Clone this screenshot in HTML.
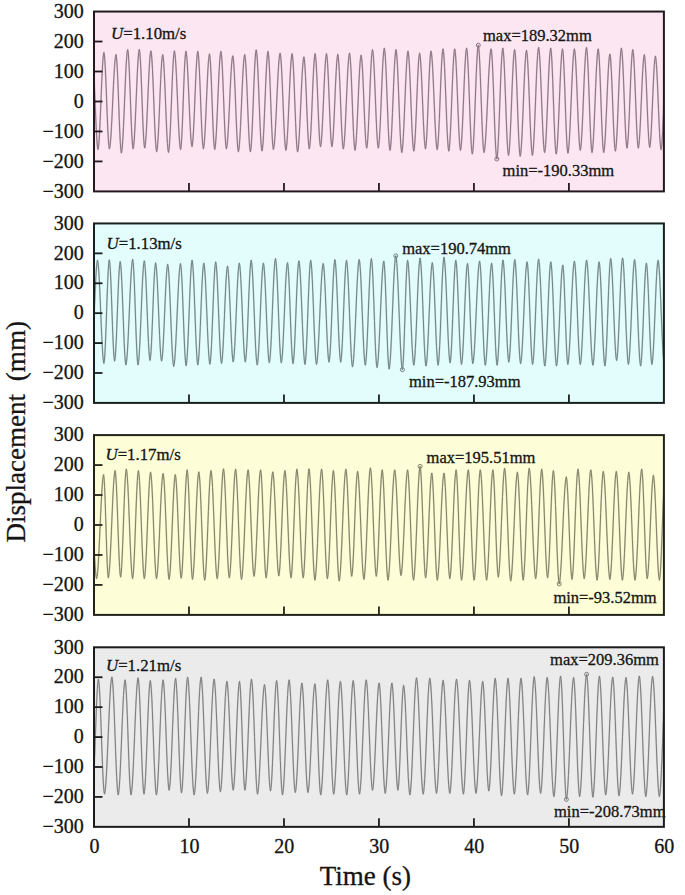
<!DOCTYPE html><html><head><meta charset="utf-8"><style>html,body{margin:0;padding:0;background:#fff;}svg{display:block;}</style></head><body>
<svg width="685" height="895" viewBox="0 0 685 895" font-family='"Liberation Serif", serif'>
<style>text{fill:#141414;stroke:#141414;stroke-width:0.3px;}</style>
<rect width="685" height="895" fill="#fff"/>
<defs><clipPath id="c0"><rect x="94.0" y="11.55" width="569.9" height="179.85"/></clipPath></defs>
<rect x="94.0" y="11.55" width="569.9" height="179.85" fill="#fce6f2"/>
<g clip-path="url(#c0)" fill="none" stroke-linejoin="round"><path d="M92.10,52.00 L92.64,54.66 L93.17,60.74 L93.71,69.80 L94.25,81.19 L94.78,94.06 L95.32,107.44 L95.85,120.31 L96.39,131.70 L96.93,140.76 L97.46,146.84 L98.00,149.50 L98.54,146.85 L99.07,140.80 L99.61,131.77 L100.15,120.43 L100.68,107.61 L101.22,94.29 L101.75,81.47 L102.29,70.13 L102.83,61.10 L103.36,55.05 L103.90,52.40 L104.40,55.03 L104.90,61.04 L105.40,70.00 L105.90,81.26 L106.40,93.99 L106.90,107.21 L107.40,119.94 L107.90,131.20 L108.40,140.16 L108.90,146.17 L109.40,148.80 L109.91,146.84 L110.42,142.50 L110.92,135.97 L111.43,127.59 L111.94,117.82 L112.45,107.17 L112.95,96.23 L113.46,85.58 L113.97,75.81 L114.48,67.43 L114.98,60.90 L115.49,56.56 L116.00,54.60 L116.54,57.75 L117.08,65.04 L117.62,75.83 L118.16,89.17 L118.70,103.85 L119.24,118.53 L119.78,131.87 L120.32,142.66 L120.86,149.95 L121.40,153.10 L121.93,150.65 L122.45,145.13 L122.98,136.86 L123.50,126.34 L124.03,114.23 L124.55,101.30 L125.08,88.37 L125.60,76.26 L126.12,65.74 L126.65,57.47 L127.17,51.95 L127.70,49.50 L128.24,52.68 L128.78,60.02 L129.32,70.90 L129.86,84.35 L130.40,99.15 L130.94,113.95 L131.48,127.40 L132.02,138.28 L132.56,145.62 L133.10,148.80 L133.62,146.45 L134.13,141.16 L134.65,133.23 L135.17,123.15 L135.68,111.54 L136.20,99.15 L136.72,86.76 L137.23,75.15 L137.75,65.07 L138.27,57.14 L138.78,51.85 L139.30,49.50 L139.84,52.65 L140.38,59.94 L140.92,70.73 L141.46,84.07 L142.00,98.75 L142.54,113.43 L143.08,126.77 L143.62,137.56 L144.16,144.85 L144.70,148.00 L145.22,145.70 L145.73,140.53 L146.25,132.77 L146.77,122.92 L147.28,111.57 L147.80,99.45 L148.32,87.33 L148.83,75.98 L149.35,66.13 L149.87,58.37 L150.38,53.20 L150.90,50.90 L151.43,53.65 L151.95,59.93 L152.48,69.30 L153.01,81.08 L153.54,94.39 L154.06,108.21 L154.59,121.52 L155.12,133.30 L155.65,142.67 L156.17,148.95 L156.70,151.70 L157.20,149.40 L157.70,144.23 L158.20,136.47 L158.70,126.62 L159.20,115.27 L159.70,103.15 L160.20,91.03 L160.70,79.68 L161.20,69.83 L161.70,62.07 L162.20,56.90 L162.70,54.60 L163.23,57.27 L163.75,63.36 L164.28,72.46 L164.81,83.88 L165.34,96.79 L165.86,110.21 L166.39,123.12 L166.92,134.54 L167.45,143.64 L167.97,149.73 L168.50,152.40 L169.04,149.63 L169.57,143.30 L170.11,133.87 L170.65,122.01 L171.18,108.61 L171.72,94.69 L172.25,81.29 L172.79,69.43 L173.33,60.00 L173.86,53.67 L174.40,50.90 L174.92,53.23 L175.43,58.49 L175.95,66.36 L176.47,76.37 L176.98,87.89 L177.50,100.20 L178.02,112.51 L178.53,124.03 L179.05,134.04 L179.57,141.91 L180.08,147.17 L180.60,149.50 L181.13,146.35 L181.66,139.09 L182.19,128.32 L182.72,115.00 L183.25,100.35 L183.78,85.70 L184.31,72.38 L184.84,61.61 L185.37,54.35 L185.90,51.20 L186.41,53.46 L186.92,58.54 L187.43,66.16 L187.93,75.84 L188.44,86.99 L188.95,98.90 L189.46,110.81 L189.97,121.95 L190.47,131.64 L190.98,139.26 L191.49,144.34 L192.00,146.60 L192.53,144.00 L193.05,138.07 L193.58,129.22 L194.11,118.09 L194.64,105.53 L195.16,92.47 L195.69,79.91 L196.22,68.78 L196.75,59.93 L197.27,54.00 L197.80,51.40 L198.31,54.06 L198.82,60.13 L199.33,69.18 L199.84,80.56 L200.35,93.42 L200.85,106.78 L201.36,119.64 L201.87,131.02 L202.38,140.07 L202.89,146.14 L203.40,148.80 L203.91,146.55 L204.42,141.50 L204.93,133.92 L205.43,124.28 L205.94,113.19 L206.45,101.35 L206.96,89.51 L207.47,78.42 L207.97,68.78 L208.48,61.20 L208.99,56.15 L209.50,53.90 L210.02,56.96 L210.54,64.03 L211.06,74.50 L211.58,87.45 L212.10,101.70 L212.62,115.95 L213.14,128.90 L213.66,139.37 L214.18,146.44 L214.70,149.50 L215.22,147.18 L215.73,141.95 L216.25,134.12 L216.77,124.16 L217.28,112.69 L217.80,100.45 L218.32,88.21 L218.83,76.74 L219.35,66.78 L219.87,58.95 L220.38,53.72 L220.90,51.40 L221.40,54.06 L221.90,60.13 L222.40,69.18 L222.90,80.56 L223.40,93.42 L223.90,106.78 L224.40,119.64 L224.90,131.02 L225.40,140.07 L225.90,146.14 L226.40,148.80 L226.93,146.60 L227.47,141.64 L228.00,134.22 L228.53,124.78 L229.07,113.91 L229.60,102.30 L230.13,90.69 L230.67,79.83 L231.20,70.38 L231.73,62.96 L232.27,58.00 L232.80,55.80 L233.31,58.42 L233.82,64.39 L234.33,73.31 L234.84,84.52 L235.35,97.17 L235.85,110.33 L236.36,122.98 L236.87,134.19 L237.38,143.11 L237.89,149.08 L238.40,151.70 L238.93,149.40 L239.45,144.23 L239.97,136.47 L240.50,126.62 L241.03,115.27 L241.55,103.15 L242.07,91.03 L242.60,79.68 L243.12,69.83 L243.65,62.07 L244.17,56.90 L244.70,54.60 L245.22,57.25 L245.74,63.30 L246.25,72.33 L246.77,83.67 L247.29,96.49 L247.81,109.81 L248.33,122.63 L248.85,133.97 L249.36,143.00 L249.88,149.05 L250.40,151.70 L250.93,148.92 L251.45,142.58 L251.98,133.11 L252.51,121.22 L253.04,107.78 L253.56,93.82 L254.09,80.38 L254.62,68.49 L255.15,59.02 L255.67,52.68 L256.20,49.90 L256.73,52.66 L257.25,58.96 L257.78,68.36 L258.31,80.17 L258.84,93.52 L259.36,107.38 L259.89,120.73 L260.42,132.54 L260.95,141.94 L261.47,148.24 L262.00,151.00 L262.50,148.64 L263.00,143.34 L263.50,135.38 L264.00,125.27 L264.50,113.63 L265.00,101.20 L265.50,88.77 L266.00,77.13 L266.50,67.02 L267.00,59.06 L267.50,53.76 L268.00,51.40 L268.54,54.54 L269.08,61.79 L269.62,72.54 L270.16,85.83 L270.70,100.45 L271.24,115.07 L271.78,128.36 L272.32,139.11 L272.86,146.36 L273.40,149.50 L273.92,147.50 L274.43,143.05 L274.95,136.38 L275.46,127.82 L275.98,117.83 L276.49,106.94 L277.01,95.76 L277.52,84.87 L278.04,74.88 L278.55,66.32 L279.07,59.65 L279.58,55.20 L280.10,53.20 L280.63,55.85 L281.15,61.90 L281.68,70.93 L282.21,82.27 L282.74,95.09 L283.26,108.41 L283.79,121.23 L284.32,132.57 L284.85,141.60 L285.37,147.65 L285.90,150.30 L286.42,148.01 L286.93,142.87 L287.45,135.15 L287.97,125.35 L288.48,114.06 L289.00,102.00 L289.52,89.94 L290.03,78.66 L290.55,68.85 L291.07,61.13 L291.58,55.99 L292.10,53.70 L292.60,56.38 L293.10,62.49 L293.60,71.61 L294.10,83.07 L294.60,96.02 L295.10,109.48 L295.60,122.43 L296.10,133.89 L296.60,143.01 L297.10,149.12 L297.60,151.80 L298.12,149.55 L298.65,144.50 L299.18,136.92 L299.70,127.28 L300.23,116.19 L300.75,104.35 L301.27,92.51 L301.80,81.42 L302.32,71.78 L302.85,64.20 L303.38,59.15 L303.90,56.90 L304.44,59.85 L304.98,66.65 L305.52,76.73 L306.06,89.19 L306.60,102.90 L307.14,116.61 L307.68,129.07 L308.22,139.15 L308.76,145.95 L309.30,148.90 L309.83,146.30 L310.35,140.37 L310.88,131.52 L311.41,120.39 L311.94,107.83 L312.46,94.77 L312.99,82.21 L313.52,71.08 L314.05,62.23 L314.57,56.30 L315.10,53.70 L315.64,56.68 L316.18,63.55 L316.72,73.74 L317.26,86.34 L317.80,100.20 L318.34,114.06 L318.88,126.66 L319.42,136.85 L319.96,143.72 L320.50,146.70 L321.00,144.50 L321.50,139.54 L322.00,132.12 L322.50,122.67 L323.00,111.81 L323.50,100.20 L324.00,88.59 L324.50,77.73 L325.00,68.28 L325.50,60.86 L326.00,55.90 L326.50,53.70 L327.04,56.68 L327.58,63.55 L328.12,73.74 L328.66,86.34 L329.20,100.20 L329.74,114.06 L330.28,126.66 L330.82,136.85 L331.36,143.72 L331.90,146.70 L332.44,144.18 L332.97,138.43 L333.51,129.85 L334.05,119.06 L334.58,106.88 L335.12,94.22 L335.65,82.04 L336.19,71.25 L336.73,62.67 L337.26,56.92 L337.80,54.40 L338.30,56.98 L338.80,62.87 L339.30,71.65 L339.80,82.70 L340.30,95.17 L340.80,108.13 L341.30,120.60 L341.80,131.65 L342.30,140.43 L342.80,146.32 L343.30,148.90 L343.82,146.63 L344.33,141.52 L344.85,133.86 L345.37,124.13 L345.88,112.92 L346.40,100.95 L346.92,88.98 L347.43,77.77 L347.95,68.04 L348.47,60.38 L348.98,55.27 L349.50,53.00 L350.00,55.66 L350.50,61.72 L351.00,70.77 L351.50,82.13 L352.00,94.98 L352.50,108.32 L353.00,121.17 L353.50,132.53 L354.00,141.58 L354.50,147.64 L355.00,150.30 L355.51,148.05 L356.02,142.97 L356.52,135.37 L357.03,125.71 L357.54,114.58 L358.05,102.70 L358.56,90.82 L359.07,79.69 L359.58,70.03 L360.08,62.43 L360.59,57.35 L361.10,55.10 L361.61,57.64 L362.12,63.43 L362.63,72.08 L363.14,82.95 L363.65,95.22 L364.15,107.98 L364.66,120.25 L365.17,131.12 L365.68,139.77 L366.19,145.56 L366.70,148.10 L367.23,145.41 L367.75,139.27 L368.28,130.12 L368.81,118.61 L369.34,105.61 L369.86,92.09 L370.39,79.09 L370.92,67.58 L371.45,58.43 L371.97,52.29 L372.50,49.60 L373.03,52.29 L373.55,58.43 L374.08,67.58 L374.61,79.09 L375.14,92.09 L375.66,105.61 L376.19,118.61 L376.72,130.12 L377.25,139.27 L377.77,145.41 L378.30,148.10 L378.80,145.73 L379.30,140.40 L379.80,132.42 L380.30,122.27 L380.80,110.58 L381.30,98.10 L381.80,85.62 L382.30,73.93 L382.80,63.78 L383.30,55.80 L383.80,50.47 L384.30,48.10 L384.82,50.89 L385.34,57.26 L385.85,66.76 L386.37,78.70 L386.89,92.19 L387.41,106.21 L387.93,119.70 L388.45,131.64 L388.96,141.14 L389.48,147.51 L390.00,150.30 L390.50,147.92 L391.00,142.55 L391.50,134.51 L392.00,124.29 L392.50,112.52 L393.00,99.95 L393.50,87.38 L394.00,75.61 L394.50,65.39 L395.00,57.35 L395.50,51.98 L396.00,49.60 L396.53,52.41 L397.05,58.82 L397.58,68.39 L398.11,80.41 L398.64,93.99 L399.16,108.11 L399.69,121.69 L400.22,133.71 L400.75,143.28 L401.27,149.69 L401.80,152.50 L402.32,150.10 L402.83,144.70 L403.35,136.60 L403.87,126.31 L404.38,114.45 L404.90,101.80 L405.42,89.15 L405.93,77.30 L406.45,67.00 L406.97,58.90 L407.48,53.50 L408.00,51.10 L408.53,53.83 L409.05,60.06 L409.58,69.36 L410.11,81.04 L410.64,94.24 L411.16,107.96 L411.69,121.16 L412.22,132.84 L412.75,142.14 L413.27,148.37 L413.80,151.10 L414.33,148.43 L414.85,142.33 L415.38,133.22 L415.91,121.79 L416.44,108.86 L416.96,95.44 L417.49,82.51 L418.02,71.08 L418.55,61.97 L419.07,55.87 L419.60,53.20 L420.14,55.81 L420.67,61.78 L421.21,70.67 L421.75,81.86 L422.28,94.49 L422.82,107.61 L423.35,120.24 L423.89,131.43 L424.43,140.32 L424.96,146.29 L425.50,148.90 L426.00,146.23 L426.50,140.14 L427.00,131.04 L427.50,119.62 L428.00,106.71 L428.50,93.29 L429.00,80.38 L429.50,68.96 L430.00,59.86 L430.50,53.77 L431.00,51.10 L431.52,53.43 L432.03,58.68 L432.55,66.54 L433.07,76.55 L433.58,88.06 L434.10,100.35 L434.62,112.64 L435.13,124.15 L435.65,134.16 L436.17,142.02 L436.68,147.27 L437.20,149.60 L437.73,146.85 L438.25,140.58 L438.78,131.21 L439.31,119.45 L439.84,106.16 L440.36,92.34 L440.89,79.05 L441.42,67.29 L441.95,57.92 L442.47,51.65 L443.00,48.90 L443.53,51.69 L444.05,58.06 L444.58,67.56 L445.11,79.50 L445.64,92.99 L446.16,107.01 L446.69,120.50 L447.22,132.44 L447.75,141.94 L448.27,148.31 L448.80,151.10 L449.34,148.31 L449.87,141.94 L450.41,132.44 L450.95,120.50 L451.48,107.01 L452.02,92.99 L452.55,79.50 L453.09,67.56 L453.63,58.06 L454.16,51.69 L454.70,48.90 L455.23,51.67 L455.75,57.99 L456.28,67.41 L456.81,79.26 L457.34,92.65 L457.86,106.55 L458.39,119.94 L458.92,131.79 L459.45,141.21 L459.97,147.53 L460.50,150.30 L461.01,147.88 L461.52,142.44 L462.02,134.27 L462.53,123.90 L463.04,111.95 L463.55,99.20 L464.06,86.45 L464.57,74.50 L465.08,64.13 L465.58,55.96 L466.09,50.52 L466.60,48.10 L467.12,50.99 L467.64,57.59 L468.15,67.44 L468.67,79.81 L469.19,93.79 L469.71,108.31 L470.23,122.29 L470.75,134.66 L471.26,144.51 L471.78,151.11 L472.30,154.00 L472.80,151.43 L473.30,145.63 L473.80,136.94 L474.30,125.89 L474.80,113.18 L475.30,99.60 L475.80,86.02 L476.30,73.31 L476.80,62.26 L477.30,53.57 L477.80,47.77 L478.30,45.20 L478.82,48.13 L479.34,54.82 L479.85,64.79 L480.37,77.33 L480.89,91.49 L481.41,106.21 L481.93,120.37 L482.45,132.91 L482.96,142.88 L483.48,149.57 L484.00,152.50 L484.51,150.59 L485.01,146.40 L485.52,140.11 L486.03,131.99 L486.54,122.41 L487.04,111.81 L487.55,100.70 L488.06,89.59 L488.56,78.99 L489.07,69.41 L489.58,61.29 L490.09,55.00 L490.59,50.81 L491.10,48.90 L491.62,51.91 L492.14,58.77 L492.65,69.00 L493.17,81.87 L493.69,96.40 L494.21,111.50 L494.73,126.03 L495.25,138.90 L495.76,149.13 L496.28,155.99 L496.80,159.00 L497.30,156.38 L497.80,150.47 L498.30,141.61 L498.80,130.35 L499.30,117.39 L499.80,103.55 L500.30,89.71 L500.80,76.75 L501.30,65.49 L501.80,56.63 L502.30,50.72 L502.80,48.10 L503.32,51.03 L503.84,57.72 L504.35,67.69 L504.87,80.23 L505.39,94.39 L505.91,109.11 L506.43,123.27 L506.95,135.81 L507.46,145.78 L507.98,152.47 L508.50,155.40 L509.01,152.90 L509.52,147.26 L510.02,138.81 L510.53,128.07 L511.04,115.70 L511.55,102.50 L512.06,89.30 L512.57,76.93 L513.08,66.19 L513.58,57.74 L514.09,52.10 L514.60,49.60 L515.11,52.51 L515.62,59.15 L516.13,69.06 L516.64,81.52 L517.15,95.59 L517.65,110.21 L518.16,124.28 L518.67,136.74 L519.18,146.65 L519.69,153.29 L520.20,156.20 L520.73,153.69 L521.25,148.05 L521.78,139.59 L522.30,128.84 L522.83,116.47 L523.35,103.25 L523.88,90.03 L524.40,77.66 L524.92,66.91 L525.45,58.45 L525.98,52.81 L526.50,50.30 L527.04,53.17 L527.57,59.72 L528.11,69.49 L528.65,81.77 L529.18,95.64 L529.72,110.06 L530.25,123.93 L530.79,136.21 L531.33,145.98 L531.86,152.53 L532.40,155.40 L532.92,152.84 L533.43,147.09 L533.95,138.47 L534.47,127.50 L534.98,114.88 L535.50,101.40 L536.02,87.92 L536.53,75.30 L537.05,64.33 L537.57,55.71 L538.08,49.96 L538.60,47.40 L539.10,49.89 L539.60,55.49 L540.10,63.88 L540.60,74.55 L541.10,86.83 L541.60,99.95 L542.10,113.07 L542.60,125.35 L543.10,136.02 L543.60,144.41 L544.10,150.01 L544.60,152.50 L545.11,150.03 L545.62,144.47 L546.12,136.13 L546.63,125.53 L547.14,113.33 L547.65,100.30 L548.16,87.27 L548.67,75.07 L549.18,64.47 L549.68,56.13 L550.19,50.57 L550.70,48.10 L551.20,50.99 L551.70,57.59 L552.20,67.44 L552.70,79.81 L553.20,93.79 L553.70,108.31 L554.20,122.29 L554.70,134.66 L555.20,144.51 L555.70,151.11 L556.20,154.00 L556.73,151.51 L557.25,145.91 L557.78,137.52 L558.30,126.85 L558.83,114.57 L559.35,101.45 L559.88,88.33 L560.40,76.05 L560.92,65.38 L561.45,56.99 L561.98,51.39 L562.50,48.90 L563.04,52.24 L563.58,59.95 L564.12,71.38 L564.66,85.50 L565.20,101.05 L565.74,116.60 L566.28,130.72 L566.82,142.15 L567.36,149.86 L567.90,153.20 L568.40,151.03 L568.90,146.22 L569.40,138.99 L569.90,129.72 L570.40,118.90 L570.90,107.11 L571.40,94.99 L571.90,83.20 L572.40,72.38 L572.90,63.11 L573.40,55.88 L573.90,51.07 L574.40,48.90 L574.94,51.67 L575.47,57.99 L576.01,67.41 L576.55,79.26 L577.08,92.65 L577.62,106.55 L578.15,119.94 L578.69,131.79 L579.23,141.21 L579.76,147.53 L580.30,150.30 L580.82,147.86 L581.33,142.38 L581.85,134.17 L582.37,123.72 L582.88,111.69 L583.40,98.85 L583.92,86.01 L584.43,73.98 L584.95,63.53 L585.47,55.32 L585.98,49.84 L586.50,47.40 L587.00,50.27 L587.50,56.82 L588.00,66.59 L588.50,78.87 L589.00,92.74 L589.50,107.16 L590.00,121.03 L590.50,133.31 L591.00,143.08 L591.50,149.63 L592.00,152.50 L592.52,150.05 L593.03,144.53 L593.55,136.26 L594.07,125.74 L594.58,113.63 L595.10,100.70 L595.62,87.77 L596.13,75.66 L596.65,65.14 L597.17,56.87 L597.68,51.35 L598.20,48.90 L598.70,51.73 L599.20,58.18 L599.70,67.82 L600.20,79.92 L600.70,93.59 L601.20,107.81 L601.70,121.48 L602.20,133.58 L602.70,143.22 L603.20,149.67 L603.70,152.50 L604.22,150.17 L604.73,144.92 L605.25,137.06 L605.77,127.05 L606.28,115.54 L606.80,103.25 L607.32,90.96 L607.83,79.45 L608.35,69.44 L608.87,61.58 L609.38,56.33 L609.90,54.00 L610.40,56.65 L610.90,62.70 L611.40,71.73 L611.90,83.07 L612.40,95.89 L612.90,109.21 L613.40,122.03 L613.90,133.37 L614.40,142.40 L614.90,148.45 L615.40,151.10 L615.90,148.66 L616.40,143.17 L616.90,134.95 L617.40,124.49 L617.90,112.45 L618.40,99.60 L618.90,86.75 L619.40,74.71 L619.90,64.25 L620.40,56.03 L620.90,50.54 L621.40,48.10 L621.91,50.83 L622.42,57.06 L622.93,66.36 L623.44,78.04 L623.95,91.24 L624.45,104.96 L624.96,118.16 L625.47,129.84 L625.98,139.14 L626.49,145.37 L627.00,148.10 L627.53,145.41 L628.05,139.27 L628.58,130.12 L629.11,118.61 L629.64,105.61 L630.16,92.09 L630.69,79.09 L631.22,67.58 L631.75,58.43 L632.27,52.29 L632.80,49.60 L633.30,52.29 L633.80,58.43 L634.30,67.58 L634.80,79.09 L635.30,92.09 L635.80,105.61 L636.30,118.61 L636.80,130.12 L637.30,139.27 L637.80,145.41 L638.30,148.10 L638.80,145.89 L639.30,140.91 L639.80,133.45 L640.30,123.97 L640.80,113.06 L641.30,101.40 L641.80,89.74 L642.30,78.83 L642.80,69.35 L643.30,61.89 L643.80,56.91 L644.30,54.70 L644.84,57.67 L645.38,64.52 L645.92,74.68 L646.46,87.23 L647.00,101.05 L647.54,114.87 L648.08,127.42 L648.62,137.58 L649.16,144.43 L649.70,147.40 L650.22,144.91 L650.74,139.23 L651.25,130.75 L651.77,120.09 L652.29,108.06 L652.81,95.54 L653.33,83.51 L653.85,72.85 L654.36,64.37 L654.88,58.69 L655.40,56.20 L655.92,58.75 L656.44,64.57 L656.95,73.25 L657.47,84.17 L657.99,96.49 L658.51,109.31 L659.03,121.63 L659.55,132.55 L660.06,141.23 L660.58,147.05 L661.10,149.60 L661.62,146.88 L662.14,140.67 L662.65,131.41 L663.17,119.78 L663.69,106.63 L664.21,92.97 L664.73,79.82 L665.25,68.19 L665.76,58.93 L666.28,52.72 L666.80,50.00" stroke="#d6bfcc" stroke-width="1.7"/><path d="M92.10,52.00 L92.64,54.66 L93.17,60.74 L93.71,69.80 L94.25,81.19 L94.78,94.06 L95.32,107.44 L95.85,120.31 L96.39,131.70 L96.93,140.76 L97.46,146.84 L98.00,149.50 L98.54,146.85 L99.07,140.80 L99.61,131.77 L100.15,120.43 L100.68,107.61 L101.22,94.29 L101.75,81.47 L102.29,70.13 L102.83,61.10 L103.36,55.05 L103.90,52.40 L104.40,55.03 L104.90,61.04 L105.40,70.00 L105.90,81.26 L106.40,93.99 L106.90,107.21 L107.40,119.94 L107.90,131.20 L108.40,140.16 L108.90,146.17 L109.40,148.80 L109.91,146.84 L110.42,142.50 L110.92,135.97 L111.43,127.59 L111.94,117.82 L112.45,107.17 L112.95,96.23 L113.46,85.58 L113.97,75.81 L114.48,67.43 L114.98,60.90 L115.49,56.56 L116.00,54.60 L116.54,57.75 L117.08,65.04 L117.62,75.83 L118.16,89.17 L118.70,103.85 L119.24,118.53 L119.78,131.87 L120.32,142.66 L120.86,149.95 L121.40,153.10 L121.93,150.65 L122.45,145.13 L122.98,136.86 L123.50,126.34 L124.03,114.23 L124.55,101.30 L125.08,88.37 L125.60,76.26 L126.12,65.74 L126.65,57.47 L127.17,51.95 L127.70,49.50 L128.24,52.68 L128.78,60.02 L129.32,70.90 L129.86,84.35 L130.40,99.15 L130.94,113.95 L131.48,127.40 L132.02,138.28 L132.56,145.62 L133.10,148.80 L133.62,146.45 L134.13,141.16 L134.65,133.23 L135.17,123.15 L135.68,111.54 L136.20,99.15 L136.72,86.76 L137.23,75.15 L137.75,65.07 L138.27,57.14 L138.78,51.85 L139.30,49.50 L139.84,52.65 L140.38,59.94 L140.92,70.73 L141.46,84.07 L142.00,98.75 L142.54,113.43 L143.08,126.77 L143.62,137.56 L144.16,144.85 L144.70,148.00 L145.22,145.70 L145.73,140.53 L146.25,132.77 L146.77,122.92 L147.28,111.57 L147.80,99.45 L148.32,87.33 L148.83,75.98 L149.35,66.13 L149.87,58.37 L150.38,53.20 L150.90,50.90 L151.43,53.65 L151.95,59.93 L152.48,69.30 L153.01,81.08 L153.54,94.39 L154.06,108.21 L154.59,121.52 L155.12,133.30 L155.65,142.67 L156.17,148.95 L156.70,151.70 L157.20,149.40 L157.70,144.23 L158.20,136.47 L158.70,126.62 L159.20,115.27 L159.70,103.15 L160.20,91.03 L160.70,79.68 L161.20,69.83 L161.70,62.07 L162.20,56.90 L162.70,54.60 L163.23,57.27 L163.75,63.36 L164.28,72.46 L164.81,83.88 L165.34,96.79 L165.86,110.21 L166.39,123.12 L166.92,134.54 L167.45,143.64 L167.97,149.73 L168.50,152.40 L169.04,149.63 L169.57,143.30 L170.11,133.87 L170.65,122.01 L171.18,108.61 L171.72,94.69 L172.25,81.29 L172.79,69.43 L173.33,60.00 L173.86,53.67 L174.40,50.90 L174.92,53.23 L175.43,58.49 L175.95,66.36 L176.47,76.37 L176.98,87.89 L177.50,100.20 L178.02,112.51 L178.53,124.03 L179.05,134.04 L179.57,141.91 L180.08,147.17 L180.60,149.50 L181.13,146.35 L181.66,139.09 L182.19,128.32 L182.72,115.00 L183.25,100.35 L183.78,85.70 L184.31,72.38 L184.84,61.61 L185.37,54.35 L185.90,51.20 L186.41,53.46 L186.92,58.54 L187.43,66.16 L187.93,75.84 L188.44,86.99 L188.95,98.90 L189.46,110.81 L189.97,121.95 L190.47,131.64 L190.98,139.26 L191.49,144.34 L192.00,146.60 L192.53,144.00 L193.05,138.07 L193.58,129.22 L194.11,118.09 L194.64,105.53 L195.16,92.47 L195.69,79.91 L196.22,68.78 L196.75,59.93 L197.27,54.00 L197.80,51.40 L198.31,54.06 L198.82,60.13 L199.33,69.18 L199.84,80.56 L200.35,93.42 L200.85,106.78 L201.36,119.64 L201.87,131.02 L202.38,140.07 L202.89,146.14 L203.40,148.80 L203.91,146.55 L204.42,141.50 L204.93,133.92 L205.43,124.28 L205.94,113.19 L206.45,101.35 L206.96,89.51 L207.47,78.42 L207.97,68.78 L208.48,61.20 L208.99,56.15 L209.50,53.90 L210.02,56.96 L210.54,64.03 L211.06,74.50 L211.58,87.45 L212.10,101.70 L212.62,115.95 L213.14,128.90 L213.66,139.37 L214.18,146.44 L214.70,149.50 L215.22,147.18 L215.73,141.95 L216.25,134.12 L216.77,124.16 L217.28,112.69 L217.80,100.45 L218.32,88.21 L218.83,76.74 L219.35,66.78 L219.87,58.95 L220.38,53.72 L220.90,51.40 L221.40,54.06 L221.90,60.13 L222.40,69.18 L222.90,80.56 L223.40,93.42 L223.90,106.78 L224.40,119.64 L224.90,131.02 L225.40,140.07 L225.90,146.14 L226.40,148.80 L226.93,146.60 L227.47,141.64 L228.00,134.22 L228.53,124.78 L229.07,113.91 L229.60,102.30 L230.13,90.69 L230.67,79.83 L231.20,70.38 L231.73,62.96 L232.27,58.00 L232.80,55.80 L233.31,58.42 L233.82,64.39 L234.33,73.31 L234.84,84.52 L235.35,97.17 L235.85,110.33 L236.36,122.98 L236.87,134.19 L237.38,143.11 L237.89,149.08 L238.40,151.70 L238.93,149.40 L239.45,144.23 L239.97,136.47 L240.50,126.62 L241.03,115.27 L241.55,103.15 L242.07,91.03 L242.60,79.68 L243.12,69.83 L243.65,62.07 L244.17,56.90 L244.70,54.60 L245.22,57.25 L245.74,63.30 L246.25,72.33 L246.77,83.67 L247.29,96.49 L247.81,109.81 L248.33,122.63 L248.85,133.97 L249.36,143.00 L249.88,149.05 L250.40,151.70 L250.93,148.92 L251.45,142.58 L251.98,133.11 L252.51,121.22 L253.04,107.78 L253.56,93.82 L254.09,80.38 L254.62,68.49 L255.15,59.02 L255.67,52.68 L256.20,49.90 L256.73,52.66 L257.25,58.96 L257.78,68.36 L258.31,80.17 L258.84,93.52 L259.36,107.38 L259.89,120.73 L260.42,132.54 L260.95,141.94 L261.47,148.24 L262.00,151.00 L262.50,148.64 L263.00,143.34 L263.50,135.38 L264.00,125.27 L264.50,113.63 L265.00,101.20 L265.50,88.77 L266.00,77.13 L266.50,67.02 L267.00,59.06 L267.50,53.76 L268.00,51.40 L268.54,54.54 L269.08,61.79 L269.62,72.54 L270.16,85.83 L270.70,100.45 L271.24,115.07 L271.78,128.36 L272.32,139.11 L272.86,146.36 L273.40,149.50 L273.92,147.50 L274.43,143.05 L274.95,136.38 L275.46,127.82 L275.98,117.83 L276.49,106.94 L277.01,95.76 L277.52,84.87 L278.04,74.88 L278.55,66.32 L279.07,59.65 L279.58,55.20 L280.10,53.20 L280.63,55.85 L281.15,61.90 L281.68,70.93 L282.21,82.27 L282.74,95.09 L283.26,108.41 L283.79,121.23 L284.32,132.57 L284.85,141.60 L285.37,147.65 L285.90,150.30 L286.42,148.01 L286.93,142.87 L287.45,135.15 L287.97,125.35 L288.48,114.06 L289.00,102.00 L289.52,89.94 L290.03,78.66 L290.55,68.85 L291.07,61.13 L291.58,55.99 L292.10,53.70 L292.60,56.38 L293.10,62.49 L293.60,71.61 L294.10,83.07 L294.60,96.02 L295.10,109.48 L295.60,122.43 L296.10,133.89 L296.60,143.01 L297.10,149.12 L297.60,151.80 L298.12,149.55 L298.65,144.50 L299.18,136.92 L299.70,127.28 L300.23,116.19 L300.75,104.35 L301.27,92.51 L301.80,81.42 L302.32,71.78 L302.85,64.20 L303.38,59.15 L303.90,56.90 L304.44,59.85 L304.98,66.65 L305.52,76.73 L306.06,89.19 L306.60,102.90 L307.14,116.61 L307.68,129.07 L308.22,139.15 L308.76,145.95 L309.30,148.90 L309.83,146.30 L310.35,140.37 L310.88,131.52 L311.41,120.39 L311.94,107.83 L312.46,94.77 L312.99,82.21 L313.52,71.08 L314.05,62.23 L314.57,56.30 L315.10,53.70 L315.64,56.68 L316.18,63.55 L316.72,73.74 L317.26,86.34 L317.80,100.20 L318.34,114.06 L318.88,126.66 L319.42,136.85 L319.96,143.72 L320.50,146.70 L321.00,144.50 L321.50,139.54 L322.00,132.12 L322.50,122.67 L323.00,111.81 L323.50,100.20 L324.00,88.59 L324.50,77.73 L325.00,68.28 L325.50,60.86 L326.00,55.90 L326.50,53.70 L327.04,56.68 L327.58,63.55 L328.12,73.74 L328.66,86.34 L329.20,100.20 L329.74,114.06 L330.28,126.66 L330.82,136.85 L331.36,143.72 L331.90,146.70 L332.44,144.18 L332.97,138.43 L333.51,129.85 L334.05,119.06 L334.58,106.88 L335.12,94.22 L335.65,82.04 L336.19,71.25 L336.73,62.67 L337.26,56.92 L337.80,54.40 L338.30,56.98 L338.80,62.87 L339.30,71.65 L339.80,82.70 L340.30,95.17 L340.80,108.13 L341.30,120.60 L341.80,131.65 L342.30,140.43 L342.80,146.32 L343.30,148.90 L343.82,146.63 L344.33,141.52 L344.85,133.86 L345.37,124.13 L345.88,112.92 L346.40,100.95 L346.92,88.98 L347.43,77.77 L347.95,68.04 L348.47,60.38 L348.98,55.27 L349.50,53.00 L350.00,55.66 L350.50,61.72 L351.00,70.77 L351.50,82.13 L352.00,94.98 L352.50,108.32 L353.00,121.17 L353.50,132.53 L354.00,141.58 L354.50,147.64 L355.00,150.30 L355.51,148.05 L356.02,142.97 L356.52,135.37 L357.03,125.71 L357.54,114.58 L358.05,102.70 L358.56,90.82 L359.07,79.69 L359.58,70.03 L360.08,62.43 L360.59,57.35 L361.10,55.10 L361.61,57.64 L362.12,63.43 L362.63,72.08 L363.14,82.95 L363.65,95.22 L364.15,107.98 L364.66,120.25 L365.17,131.12 L365.68,139.77 L366.19,145.56 L366.70,148.10 L367.23,145.41 L367.75,139.27 L368.28,130.12 L368.81,118.61 L369.34,105.61 L369.86,92.09 L370.39,79.09 L370.92,67.58 L371.45,58.43 L371.97,52.29 L372.50,49.60 L373.03,52.29 L373.55,58.43 L374.08,67.58 L374.61,79.09 L375.14,92.09 L375.66,105.61 L376.19,118.61 L376.72,130.12 L377.25,139.27 L377.77,145.41 L378.30,148.10 L378.80,145.73 L379.30,140.40 L379.80,132.42 L380.30,122.27 L380.80,110.58 L381.30,98.10 L381.80,85.62 L382.30,73.93 L382.80,63.78 L383.30,55.80 L383.80,50.47 L384.30,48.10 L384.82,50.89 L385.34,57.26 L385.85,66.76 L386.37,78.70 L386.89,92.19 L387.41,106.21 L387.93,119.70 L388.45,131.64 L388.96,141.14 L389.48,147.51 L390.00,150.30 L390.50,147.92 L391.00,142.55 L391.50,134.51 L392.00,124.29 L392.50,112.52 L393.00,99.95 L393.50,87.38 L394.00,75.61 L394.50,65.39 L395.00,57.35 L395.50,51.98 L396.00,49.60 L396.53,52.41 L397.05,58.82 L397.58,68.39 L398.11,80.41 L398.64,93.99 L399.16,108.11 L399.69,121.69 L400.22,133.71 L400.75,143.28 L401.27,149.69 L401.80,152.50 L402.32,150.10 L402.83,144.70 L403.35,136.60 L403.87,126.31 L404.38,114.45 L404.90,101.80 L405.42,89.15 L405.93,77.30 L406.45,67.00 L406.97,58.90 L407.48,53.50 L408.00,51.10 L408.53,53.83 L409.05,60.06 L409.58,69.36 L410.11,81.04 L410.64,94.24 L411.16,107.96 L411.69,121.16 L412.22,132.84 L412.75,142.14 L413.27,148.37 L413.80,151.10 L414.33,148.43 L414.85,142.33 L415.38,133.22 L415.91,121.79 L416.44,108.86 L416.96,95.44 L417.49,82.51 L418.02,71.08 L418.55,61.97 L419.07,55.87 L419.60,53.20 L420.14,55.81 L420.67,61.78 L421.21,70.67 L421.75,81.86 L422.28,94.49 L422.82,107.61 L423.35,120.24 L423.89,131.43 L424.43,140.32 L424.96,146.29 L425.50,148.90 L426.00,146.23 L426.50,140.14 L427.00,131.04 L427.50,119.62 L428.00,106.71 L428.50,93.29 L429.00,80.38 L429.50,68.96 L430.00,59.86 L430.50,53.77 L431.00,51.10 L431.52,53.43 L432.03,58.68 L432.55,66.54 L433.07,76.55 L433.58,88.06 L434.10,100.35 L434.62,112.64 L435.13,124.15 L435.65,134.16 L436.17,142.02 L436.68,147.27 L437.20,149.60 L437.73,146.85 L438.25,140.58 L438.78,131.21 L439.31,119.45 L439.84,106.16 L440.36,92.34 L440.89,79.05 L441.42,67.29 L441.95,57.92 L442.47,51.65 L443.00,48.90 L443.53,51.69 L444.05,58.06 L444.58,67.56 L445.11,79.50 L445.64,92.99 L446.16,107.01 L446.69,120.50 L447.22,132.44 L447.75,141.94 L448.27,148.31 L448.80,151.10 L449.34,148.31 L449.87,141.94 L450.41,132.44 L450.95,120.50 L451.48,107.01 L452.02,92.99 L452.55,79.50 L453.09,67.56 L453.63,58.06 L454.16,51.69 L454.70,48.90 L455.23,51.67 L455.75,57.99 L456.28,67.41 L456.81,79.26 L457.34,92.65 L457.86,106.55 L458.39,119.94 L458.92,131.79 L459.45,141.21 L459.97,147.53 L460.50,150.30 L461.01,147.88 L461.52,142.44 L462.02,134.27 L462.53,123.90 L463.04,111.95 L463.55,99.20 L464.06,86.45 L464.57,74.50 L465.08,64.13 L465.58,55.96 L466.09,50.52 L466.60,48.10 L467.12,50.99 L467.64,57.59 L468.15,67.44 L468.67,79.81 L469.19,93.79 L469.71,108.31 L470.23,122.29 L470.75,134.66 L471.26,144.51 L471.78,151.11 L472.30,154.00 L472.80,151.43 L473.30,145.63 L473.80,136.94 L474.30,125.89 L474.80,113.18 L475.30,99.60 L475.80,86.02 L476.30,73.31 L476.80,62.26 L477.30,53.57 L477.80,47.77 L478.30,45.20 L478.82,48.13 L479.34,54.82 L479.85,64.79 L480.37,77.33 L480.89,91.49 L481.41,106.21 L481.93,120.37 L482.45,132.91 L482.96,142.88 L483.48,149.57 L484.00,152.50 L484.51,150.59 L485.01,146.40 L485.52,140.11 L486.03,131.99 L486.54,122.41 L487.04,111.81 L487.55,100.70 L488.06,89.59 L488.56,78.99 L489.07,69.41 L489.58,61.29 L490.09,55.00 L490.59,50.81 L491.10,48.90 L491.62,51.91 L492.14,58.77 L492.65,69.00 L493.17,81.87 L493.69,96.40 L494.21,111.50 L494.73,126.03 L495.25,138.90 L495.76,149.13 L496.28,155.99 L496.80,159.00 L497.30,156.38 L497.80,150.47 L498.30,141.61 L498.80,130.35 L499.30,117.39 L499.80,103.55 L500.30,89.71 L500.80,76.75 L501.30,65.49 L501.80,56.63 L502.30,50.72 L502.80,48.10 L503.32,51.03 L503.84,57.72 L504.35,67.69 L504.87,80.23 L505.39,94.39 L505.91,109.11 L506.43,123.27 L506.95,135.81 L507.46,145.78 L507.98,152.47 L508.50,155.40 L509.01,152.90 L509.52,147.26 L510.02,138.81 L510.53,128.07 L511.04,115.70 L511.55,102.50 L512.06,89.30 L512.57,76.93 L513.08,66.19 L513.58,57.74 L514.09,52.10 L514.60,49.60 L515.11,52.51 L515.62,59.15 L516.13,69.06 L516.64,81.52 L517.15,95.59 L517.65,110.21 L518.16,124.28 L518.67,136.74 L519.18,146.65 L519.69,153.29 L520.20,156.20 L520.73,153.69 L521.25,148.05 L521.78,139.59 L522.30,128.84 L522.83,116.47 L523.35,103.25 L523.88,90.03 L524.40,77.66 L524.92,66.91 L525.45,58.45 L525.98,52.81 L526.50,50.30 L527.04,53.17 L527.57,59.72 L528.11,69.49 L528.65,81.77 L529.18,95.64 L529.72,110.06 L530.25,123.93 L530.79,136.21 L531.33,145.98 L531.86,152.53 L532.40,155.40 L532.92,152.84 L533.43,147.09 L533.95,138.47 L534.47,127.50 L534.98,114.88 L535.50,101.40 L536.02,87.92 L536.53,75.30 L537.05,64.33 L537.57,55.71 L538.08,49.96 L538.60,47.40 L539.10,49.89 L539.60,55.49 L540.10,63.88 L540.60,74.55 L541.10,86.83 L541.60,99.95 L542.10,113.07 L542.60,125.35 L543.10,136.02 L543.60,144.41 L544.10,150.01 L544.60,152.50 L545.11,150.03 L545.62,144.47 L546.12,136.13 L546.63,125.53 L547.14,113.33 L547.65,100.30 L548.16,87.27 L548.67,75.07 L549.18,64.47 L549.68,56.13 L550.19,50.57 L550.70,48.10 L551.20,50.99 L551.70,57.59 L552.20,67.44 L552.70,79.81 L553.20,93.79 L553.70,108.31 L554.20,122.29 L554.70,134.66 L555.20,144.51 L555.70,151.11 L556.20,154.00 L556.73,151.51 L557.25,145.91 L557.78,137.52 L558.30,126.85 L558.83,114.57 L559.35,101.45 L559.88,88.33 L560.40,76.05 L560.92,65.38 L561.45,56.99 L561.98,51.39 L562.50,48.90 L563.04,52.24 L563.58,59.95 L564.12,71.38 L564.66,85.50 L565.20,101.05 L565.74,116.60 L566.28,130.72 L566.82,142.15 L567.36,149.86 L567.90,153.20 L568.40,151.03 L568.90,146.22 L569.40,138.99 L569.90,129.72 L570.40,118.90 L570.90,107.11 L571.40,94.99 L571.90,83.20 L572.40,72.38 L572.90,63.11 L573.40,55.88 L573.90,51.07 L574.40,48.90 L574.94,51.67 L575.47,57.99 L576.01,67.41 L576.55,79.26 L577.08,92.65 L577.62,106.55 L578.15,119.94 L578.69,131.79 L579.23,141.21 L579.76,147.53 L580.30,150.30 L580.82,147.86 L581.33,142.38 L581.85,134.17 L582.37,123.72 L582.88,111.69 L583.40,98.85 L583.92,86.01 L584.43,73.98 L584.95,63.53 L585.47,55.32 L585.98,49.84 L586.50,47.40 L587.00,50.27 L587.50,56.82 L588.00,66.59 L588.50,78.87 L589.00,92.74 L589.50,107.16 L590.00,121.03 L590.50,133.31 L591.00,143.08 L591.50,149.63 L592.00,152.50 L592.52,150.05 L593.03,144.53 L593.55,136.26 L594.07,125.74 L594.58,113.63 L595.10,100.70 L595.62,87.77 L596.13,75.66 L596.65,65.14 L597.17,56.87 L597.68,51.35 L598.20,48.90 L598.70,51.73 L599.20,58.18 L599.70,67.82 L600.20,79.92 L600.70,93.59 L601.20,107.81 L601.70,121.48 L602.20,133.58 L602.70,143.22 L603.20,149.67 L603.70,152.50 L604.22,150.17 L604.73,144.92 L605.25,137.06 L605.77,127.05 L606.28,115.54 L606.80,103.25 L607.32,90.96 L607.83,79.45 L608.35,69.44 L608.87,61.58 L609.38,56.33 L609.90,54.00 L610.40,56.65 L610.90,62.70 L611.40,71.73 L611.90,83.07 L612.40,95.89 L612.90,109.21 L613.40,122.03 L613.90,133.37 L614.40,142.40 L614.90,148.45 L615.40,151.10 L615.90,148.66 L616.40,143.17 L616.90,134.95 L617.40,124.49 L617.90,112.45 L618.40,99.60 L618.90,86.75 L619.40,74.71 L619.90,64.25 L620.40,56.03 L620.90,50.54 L621.40,48.10 L621.91,50.83 L622.42,57.06 L622.93,66.36 L623.44,78.04 L623.95,91.24 L624.45,104.96 L624.96,118.16 L625.47,129.84 L625.98,139.14 L626.49,145.37 L627.00,148.10 L627.53,145.41 L628.05,139.27 L628.58,130.12 L629.11,118.61 L629.64,105.61 L630.16,92.09 L630.69,79.09 L631.22,67.58 L631.75,58.43 L632.27,52.29 L632.80,49.60 L633.30,52.29 L633.80,58.43 L634.30,67.58 L634.80,79.09 L635.30,92.09 L635.80,105.61 L636.30,118.61 L636.80,130.12 L637.30,139.27 L637.80,145.41 L638.30,148.10 L638.80,145.89 L639.30,140.91 L639.80,133.45 L640.30,123.97 L640.80,113.06 L641.30,101.40 L641.80,89.74 L642.30,78.83 L642.80,69.35 L643.30,61.89 L643.80,56.91 L644.30,54.70 L644.84,57.67 L645.38,64.52 L645.92,74.68 L646.46,87.23 L647.00,101.05 L647.54,114.87 L648.08,127.42 L648.62,137.58 L649.16,144.43 L649.70,147.40 L650.22,144.91 L650.74,139.23 L651.25,130.75 L651.77,120.09 L652.29,108.06 L652.81,95.54 L653.33,83.51 L653.85,72.85 L654.36,64.37 L654.88,58.69 L655.40,56.20 L655.92,58.75 L656.44,64.57 L656.95,73.25 L657.47,84.17 L657.99,96.49 L658.51,109.31 L659.03,121.63 L659.55,132.55 L660.06,141.23 L660.58,147.05 L661.10,149.60 L661.62,146.88 L662.14,140.67 L662.65,131.41 L663.17,119.78 L663.69,106.63 L664.21,92.97 L664.73,79.82 L665.25,68.19 L665.76,58.93 L666.28,52.72 L666.80,50.00" stroke="#8a7482" stroke-width="1.0"/></g>
<circle cx="478.3" cy="45.2" r="2.0" fill="none" stroke="#8a7482" stroke-width="1.0"/>
<circle cx="496.8" cy="159.0" r="2.0" fill="none" stroke="#8a7482" stroke-width="1.0"/>
<text x="111.10" y="39.20" font-size="16.8"><tspan font-style="italic">U</tspan>=1.10m/s</text>
<text x="483.00" y="41.20" font-size="16.5">max=189.32mm</text>
<text x="502.60" y="176.20" font-size="16.5">min=-190.33mm</text>
<line x1="94.0" y1="41.53" x2="102.5" y2="41.53" stroke="#24181f" stroke-width="1.8"/>
<line x1="94.0" y1="71.50" x2="102.5" y2="71.50" stroke="#24181f" stroke-width="1.8"/>
<line x1="94.0" y1="101.48" x2="102.5" y2="101.48" stroke="#24181f" stroke-width="1.8"/>
<line x1="94.0" y1="131.45" x2="102.5" y2="131.45" stroke="#24181f" stroke-width="1.8"/>
<line x1="94.0" y1="161.43" x2="102.5" y2="161.43" stroke="#24181f" stroke-width="1.8"/>
<line x1="188.98" y1="191.4" x2="188.98" y2="182.9" stroke="#24181f" stroke-width="1.8"/>
<line x1="283.97" y1="191.4" x2="283.97" y2="182.9" stroke="#24181f" stroke-width="1.8"/>
<line x1="378.95" y1="191.4" x2="378.95" y2="182.9" stroke="#24181f" stroke-width="1.8"/>
<line x1="473.93" y1="191.4" x2="473.93" y2="182.9" stroke="#24181f" stroke-width="1.8"/>
<line x1="568.92" y1="191.4" x2="568.92" y2="182.9" stroke="#24181f" stroke-width="1.8"/>
<rect x="94.0" y="11.55" width="569.9" height="179.85" fill="none" stroke="#24181f" stroke-width="2.0"/>
<text x="83.8" y="17.75" font-size="20" text-anchor="end">300</text>
<text x="83.8" y="47.73" font-size="20" text-anchor="end">200</text>
<text x="83.8" y="77.70" font-size="20" text-anchor="end">100</text>
<text x="83.8" y="107.68" font-size="20" text-anchor="end">0</text>
<text x="83.8" y="137.65" font-size="20" text-anchor="end">−100</text>
<text x="83.8" y="167.62" font-size="20" text-anchor="end">−200</text>
<text x="83.8" y="197.60" font-size="20" text-anchor="end">−300</text>
<defs><clipPath id="c1"><rect x="94.0" y="223.45" width="569.9" height="179.45"/></clipPath></defs>
<rect x="94.0" y="223.45" width="569.9" height="179.45" fill="#e2fdfc"/>
<g clip-path="url(#c1)" fill="none" stroke-linejoin="round"><path d="M91.10,363.00 L91.63,360.56 L92.17,355.08 L92.70,346.87 L93.23,336.42 L93.77,324.39 L94.30,311.55 L94.83,298.71 L95.37,286.68 L95.90,276.23 L96.43,268.02 L96.97,262.54 L97.50,260.10 L98.03,262.54 L98.57,268.05 L99.10,276.30 L99.63,286.79 L100.17,298.86 L100.70,311.75 L101.23,324.64 L101.77,336.71 L102.30,347.20 L102.83,355.45 L103.37,360.96 L103.90,363.40 L104.44,360.08 L104.98,352.42 L105.52,341.07 L106.06,327.04 L106.60,311.60 L107.14,296.16 L107.68,282.13 L108.22,270.78 L108.76,263.12 L109.30,259.80 L109.83,263.04 L110.36,270.53 L110.89,281.63 L111.42,295.35 L111.95,310.45 L112.48,325.55 L113.01,339.27 L113.54,350.37 L114.07,357.86 L114.60,361.10 L115.11,358.38 L115.62,352.18 L116.13,342.93 L116.64,331.31 L117.15,318.17 L117.65,304.53 L118.16,291.39 L118.67,279.77 L119.18,270.52 L119.69,264.32 L120.20,261.60 L120.72,264.42 L121.24,270.86 L121.75,280.46 L122.27,292.53 L122.79,306.16 L123.31,320.34 L123.83,333.97 L124.35,346.04 L124.86,355.64 L125.38,362.08 L125.90,364.90 L126.42,362.71 L126.95,357.83 L127.47,350.51 L127.99,341.13 L128.52,330.17 L129.04,318.23 L129.56,305.97 L130.08,294.03 L130.61,283.07 L131.13,273.69 L131.65,266.37 L132.18,261.49 L132.70,259.30 L133.23,262.68 L133.76,270.49 L134.29,282.06 L134.82,296.36 L135.35,312.10 L135.88,327.84 L136.41,342.14 L136.94,353.71 L137.47,361.52 L138.00,364.90 L138.53,362.44 L139.05,356.89 L139.57,348.58 L140.10,338.01 L140.62,325.84 L141.15,312.85 L141.68,299.86 L142.20,287.69 L142.73,277.12 L143.25,268.81 L143.78,263.26 L144.30,260.80 L144.82,263.52 L145.34,269.73 L145.85,278.99 L146.37,290.62 L146.89,303.77 L147.41,317.43 L147.93,330.58 L148.45,342.21 L148.96,351.47 L149.48,357.68 L150.00,360.40 L150.51,357.73 L151.02,351.65 L151.53,342.58 L152.04,331.18 L152.55,318.29 L153.05,304.91 L153.56,292.02 L154.07,280.62 L154.58,271.55 L155.09,265.47 L155.60,262.80 L156.10,265.13 L156.60,270.36 L157.10,278.21 L157.60,288.19 L158.10,299.68 L158.60,311.95 L159.10,324.22 L159.60,335.71 L160.10,345.69 L160.60,353.54 L161.10,358.77 L161.60,361.10 L162.11,358.81 L162.62,353.65 L163.12,345.92 L163.63,336.09 L164.14,324.78 L164.65,312.70 L165.16,300.62 L165.67,289.31 L166.17,279.48 L166.68,271.75 L167.19,266.59 L167.70,264.30 L168.20,266.72 L168.70,272.16 L169.20,280.31 L169.70,290.68 L170.20,302.61 L170.70,315.35 L171.20,328.09 L171.70,340.02 L172.20,350.39 L172.70,358.54 L173.20,363.98 L173.70,366.40 L174.22,364.26 L174.75,359.52 L175.27,352.39 L175.79,343.26 L176.32,332.59 L176.84,320.97 L177.36,309.03 L177.88,297.41 L178.41,286.74 L178.93,277.61 L179.45,270.48 L179.98,265.74 L180.50,263.60 L181.01,266.39 L181.52,272.75 L182.03,282.24 L182.54,294.17 L183.05,307.65 L183.55,321.65 L184.06,335.13 L184.57,347.06 L185.08,356.55 L185.59,362.91 L186.10,365.70 L186.60,363.20 L187.10,357.57 L187.60,349.14 L188.10,338.42 L188.60,326.08 L189.10,312.90 L189.60,299.72 L190.10,287.38 L190.60,276.66 L191.10,268.23 L191.60,262.60 L192.10,260.10 L192.62,262.96 L193.14,269.49 L193.65,279.23 L194.17,291.48 L194.69,305.31 L195.21,319.69 L195.73,333.52 L196.25,345.77 L196.76,355.51 L197.28,362.04 L197.80,364.90 L198.30,362.49 L198.80,357.07 L199.30,348.94 L199.80,338.60 L200.30,326.70 L200.80,314.00 L201.30,301.30 L201.80,289.40 L202.30,279.06 L202.80,270.93 L203.30,265.51 L203.80,263.10 L204.31,265.49 L204.82,270.88 L205.33,278.95 L205.83,289.22 L206.34,301.03 L206.85,313.65 L207.36,326.27 L207.87,338.08 L208.38,348.35 L208.88,356.42 L209.39,361.81 L209.90,364.20 L210.43,361.41 L210.95,355.03 L211.48,345.52 L212.01,333.57 L212.54,320.07 L213.06,306.03 L213.59,292.53 L214.12,280.58 L214.65,271.07 L215.17,264.69 L215.70,261.90 L216.23,264.67 L216.75,271.00 L217.28,280.43 L217.81,292.29 L218.34,305.69 L218.86,319.61 L219.39,333.01 L219.92,344.87 L220.45,354.30 L220.97,360.63 L221.50,363.40 L222.00,361.10 L222.50,355.91 L223.00,348.14 L223.50,338.26 L224.00,326.89 L224.50,314.75 L225.00,302.61 L225.50,291.24 L226.00,281.36 L226.50,273.59 L227.00,268.40 L227.50,266.10 L228.02,268.72 L228.54,274.69 L229.05,283.59 L229.57,294.79 L230.09,307.43 L230.61,320.57 L231.13,333.21 L231.65,344.41 L232.16,353.31 L232.68,359.28 L233.20,361.90 L233.71,359.56 L234.22,354.30 L234.72,346.41 L235.23,336.38 L235.74,324.83 L236.25,312.50 L236.76,300.17 L237.27,288.62 L237.78,278.59 L238.28,270.70 L238.79,265.44 L239.30,263.10 L239.80,265.44 L240.30,270.70 L240.80,278.59 L241.30,288.62 L241.80,300.17 L242.30,312.50 L242.80,324.83 L243.30,336.38 L243.80,346.41 L244.30,354.30 L244.80,359.56 L245.30,361.90 L245.84,359.12 L246.37,352.78 L246.91,343.31 L247.45,331.42 L247.98,317.98 L248.52,304.02 L249.05,290.58 L249.59,278.69 L250.13,269.22 L250.66,262.88 L251.20,260.10 L251.70,262.58 L252.20,268.16 L252.70,276.53 L253.20,287.17 L253.70,299.42 L254.20,312.50 L254.70,325.58 L255.20,337.83 L255.70,348.47 L256.20,356.84 L256.70,362.42 L257.20,364.90 L257.72,362.49 L258.23,357.07 L258.75,348.94 L259.27,338.60 L259.78,326.70 L260.30,314.00 L260.82,301.30 L261.33,289.40 L261.85,279.06 L262.37,270.93 L262.88,265.51 L263.40,263.10 L263.94,265.82 L264.47,272.02 L265.01,281.27 L265.55,292.89 L266.08,306.03 L266.62,319.67 L267.15,332.81 L267.69,344.43 L268.23,353.68 L268.76,359.88 L269.30,362.60 L269.82,360.14 L270.33,354.59 L270.85,346.28 L271.37,335.71 L271.88,323.54 L272.40,310.55 L272.92,297.56 L273.43,285.39 L273.95,274.82 L274.47,266.51 L274.98,260.96 L275.50,258.50 L276.03,261.35 L276.55,267.85 L277.08,277.54 L277.61,289.73 L278.14,303.50 L278.66,317.80 L279.19,331.57 L279.72,343.76 L280.25,353.45 L280.77,359.95 L281.30,362.80 L281.82,360.43 L282.33,355.10 L282.85,347.10 L283.37,336.94 L283.88,325.24 L284.40,312.75 L284.92,300.26 L285.43,288.56 L285.95,278.40 L286.47,270.40 L286.98,265.07 L287.50,262.70 L288.00,265.46 L288.50,271.74 L289.00,281.12 L289.50,292.91 L290.00,306.23 L290.50,320.07 L291.00,333.39 L291.50,345.18 L292.00,354.56 L292.50,360.84 L293.00,363.60 L293.54,360.79 L294.07,354.39 L294.61,344.83 L295.15,332.82 L295.68,319.25 L296.22,305.15 L296.75,291.58 L297.29,279.57 L297.83,270.01 L298.36,263.61 L298.90,260.80 L299.41,263.25 L299.92,268.77 L300.42,277.04 L300.93,287.56 L301.44,299.67 L301.95,312.60 L302.46,325.53 L302.97,337.64 L303.48,348.16 L303.98,356.43 L304.49,361.95 L305.00,364.40 L305.52,361.56 L306.04,355.07 L306.55,345.39 L307.07,333.23 L307.59,319.49 L308.11,305.21 L308.63,291.47 L309.15,279.31 L309.66,269.63 L310.18,263.14 L310.70,260.30 L311.23,263.14 L311.75,269.63 L312.28,279.31 L312.81,291.47 L313.34,305.21 L313.86,319.49 L314.39,333.23 L314.92,345.39 L315.45,355.07 L315.97,361.56 L316.50,364.40 L317.02,362.30 L317.53,357.65 L318.05,350.65 L318.56,341.68 L319.08,331.22 L319.59,319.81 L320.11,308.09 L320.62,296.68 L321.14,286.22 L321.65,277.25 L322.17,270.25 L322.68,265.60 L323.20,263.50 L323.73,266.19 L324.25,272.34 L324.78,281.50 L325.31,293.02 L325.84,306.04 L326.36,319.56 L326.89,332.58 L327.42,344.10 L327.95,353.26 L328.47,359.41 L329.00,362.10 L329.54,359.30 L330.07,352.91 L330.61,343.38 L331.15,331.41 L331.68,317.88 L332.22,303.82 L332.75,290.29 L333.29,278.32 L333.83,268.79 L334.36,262.40 L334.90,259.60 L335.43,262.40 L335.95,268.79 L336.48,278.32 L337.01,290.29 L337.54,303.82 L338.06,317.88 L338.59,331.41 L339.12,343.38 L339.65,352.91 L340.17,359.30 L340.70,362.10 L341.23,359.32 L341.75,352.98 L342.28,343.51 L342.81,331.62 L343.34,318.18 L343.86,304.22 L344.39,290.78 L344.92,278.89 L345.45,269.42 L345.97,263.08 L346.50,260.30 L347.00,262.82 L347.50,268.50 L348.00,277.00 L348.50,287.81 L349.00,300.26 L349.50,313.55 L350.00,326.84 L350.50,339.29 L351.00,350.10 L351.50,358.60 L352.00,364.28 L352.50,366.80 L353.02,364.57 L353.53,359.63 L354.05,352.19 L354.56,342.66 L355.08,331.54 L355.59,319.43 L356.11,306.97 L356.62,294.86 L357.14,283.74 L357.65,274.21 L358.17,266.77 L358.68,261.83 L359.20,259.60 L359.71,262.10 L360.22,267.73 L360.73,276.16 L361.23,286.88 L361.74,299.22 L362.25,312.40 L362.76,325.58 L363.27,337.92 L363.77,348.64 L364.28,357.07 L364.79,362.70 L365.30,365.20 L365.81,362.68 L366.32,357.00 L366.82,348.48 L367.33,337.66 L367.84,325.20 L368.35,311.90 L368.86,298.60 L369.37,286.14 L369.88,275.32 L370.38,266.80 L370.89,261.12 L371.40,258.60 L371.91,261.58 L372.42,268.36 L372.93,278.48 L373.44,291.21 L373.95,305.58 L374.45,320.52 L374.96,334.89 L375.47,347.62 L375.98,357.74 L376.49,364.52 L377.00,367.50 L377.52,365.29 L378.05,360.38 L378.57,353.00 L379.09,343.55 L379.62,332.51 L380.14,320.48 L380.66,308.12 L381.18,296.09 L381.71,285.05 L382.23,275.60 L382.75,268.22 L383.28,263.31 L383.80,261.10 L384.33,264.56 L384.86,272.54 L385.39,284.37 L385.92,299.00 L386.45,315.10 L386.98,331.20 L387.51,345.83 L388.04,357.66 L388.57,365.64 L389.10,369.10 L389.62,366.75 L390.13,361.52 L390.65,353.66 L391.16,343.59 L391.68,331.84 L392.19,319.03 L392.71,305.87 L393.22,293.06 L393.74,281.31 L394.25,271.24 L394.77,263.38 L395.28,258.15 L395.80,255.80 L396.31,258.16 L396.82,263.42 L397.32,271.30 L397.83,281.42 L398.34,293.23 L398.85,306.09 L399.35,319.31 L399.86,332.17 L400.37,343.98 L400.88,354.10 L401.38,361.98 L401.89,367.24 L402.40,369.60 L402.92,366.10 L403.44,358.02 L403.96,346.05 L404.48,331.24 L405.00,314.95 L405.52,298.66 L406.04,283.85 L406.56,271.88 L407.08,263.80 L407.60,260.30 L408.12,262.78 L408.63,268.37 L409.15,276.75 L409.67,287.40 L410.18,299.66 L410.70,312.75 L411.22,325.84 L411.73,338.10 L412.25,348.75 L412.77,357.13 L413.28,362.72 L413.80,365.20 L414.32,362.66 L414.85,356.95 L415.38,348.39 L415.90,337.51 L416.43,324.98 L416.95,311.60 L417.48,298.22 L418.00,285.69 L418.53,274.81 L419.05,266.25 L419.58,260.54 L420.10,258.00 L420.64,260.95 L421.17,267.68 L421.71,277.72 L422.25,290.34 L422.78,304.59 L423.32,319.41 L423.85,333.66 L424.39,346.28 L424.93,356.32 L425.46,363.05 L426.00,366.00 L426.52,363.56 L427.05,358.05 L427.57,349.80 L428.10,339.31 L428.62,327.24 L429.15,314.35 L429.68,301.46 L430.20,289.39 L430.73,278.90 L431.25,270.65 L431.78,265.14 L432.30,262.70 L432.83,265.50 L433.35,271.89 L433.88,281.42 L434.41,293.39 L434.94,306.92 L435.46,320.98 L435.99,334.51 L436.52,346.48 L437.05,356.01 L437.57,362.40 L438.10,365.20 L438.64,362.25 L439.17,355.52 L439.71,345.48 L440.25,332.86 L440.78,318.61 L441.32,303.79 L441.85,289.54 L442.39,276.92 L442.93,266.88 L443.46,260.15 L444.00,257.20 L444.51,259.70 L445.02,265.33 L445.52,273.76 L446.03,284.48 L446.54,296.82 L447.05,310.00 L447.56,323.18 L448.07,335.52 L448.58,346.24 L449.08,354.67 L449.59,360.30 L450.10,362.80 L450.62,360.00 L451.14,353.61 L451.65,344.08 L452.17,332.11 L452.69,318.58 L453.21,304.52 L453.73,290.99 L454.25,279.02 L454.76,269.49 L455.28,263.10 L455.80,260.30 L456.32,263.14 L456.84,269.63 L457.35,279.31 L457.87,291.47 L458.39,305.21 L458.91,319.49 L459.43,333.23 L459.95,345.39 L460.46,355.07 L460.98,361.56 L461.50,364.40 L462.00,362.01 L462.50,356.64 L463.00,348.58 L463.50,338.33 L464.00,326.54 L464.50,313.95 L465.00,301.36 L465.50,289.57 L466.00,279.32 L466.50,271.26 L467.00,265.89 L467.50,263.50 L468.03,266.71 L468.56,274.10 L469.09,285.07 L469.62,298.63 L470.15,313.55 L470.68,328.47 L471.21,342.03 L471.74,353.00 L472.27,360.39 L472.80,363.60 L473.32,361.47 L473.85,356.74 L474.37,349.63 L474.89,340.52 L475.42,329.89 L475.94,318.30 L476.46,306.40 L476.98,294.81 L477.51,284.18 L478.03,275.07 L478.55,267.96 L479.08,263.23 L479.60,261.10 L480.12,263.94 L480.64,270.43 L481.15,280.11 L481.67,292.27 L482.19,306.01 L482.71,320.29 L483.23,334.03 L483.75,346.19 L484.26,355.87 L484.78,362.36 L485.30,365.20 L485.82,362.79 L486.35,357.35 L486.88,349.21 L487.40,338.85 L487.93,326.93 L488.45,314.20 L488.98,301.47 L489.50,289.55 L490.03,279.19 L490.55,271.05 L491.08,265.61 L491.60,263.20 L492.10,265.99 L492.60,272.34 L493.10,281.82 L493.60,293.74 L494.10,307.20 L494.60,321.20 L495.10,334.66 L495.60,346.58 L496.10,356.06 L496.60,362.41 L497.10,365.20 L497.64,362.33 L498.17,355.77 L498.71,345.99 L499.25,333.70 L499.78,319.82 L500.32,305.38 L500.85,291.50 L501.39,279.21 L501.93,269.43 L502.46,262.87 L503.00,260.00 L503.53,262.79 L504.05,269.15 L504.58,278.64 L505.11,290.57 L505.64,304.05 L506.16,318.05 L506.69,331.53 L507.22,343.46 L507.75,352.95 L508.27,359.31 L508.80,362.10 L509.35,359.30 L509.89,352.91 L510.44,343.38 L510.98,331.41 L511.53,317.88 L512.07,303.82 L512.62,290.29 L513.16,278.32 L513.71,268.79 L514.25,262.40 L514.80,259.60 L515.33,262.44 L515.85,268.92 L516.38,278.59 L516.91,290.74 L517.44,304.47 L517.96,318.73 L518.49,332.46 L519.02,344.61 L519.55,354.28 L520.07,360.76 L520.60,363.60 L521.10,361.49 L521.60,356.79 L522.10,349.74 L522.60,340.70 L523.10,330.15 L523.60,318.66 L524.10,306.84 L524.60,295.35 L525.10,284.80 L525.60,275.76 L526.10,268.71 L526.60,264.01 L527.10,261.90 L527.60,264.70 L528.10,271.09 L528.60,280.62 L529.10,292.59 L529.60,306.12 L530.10,320.18 L530.60,333.71 L531.10,345.68 L531.60,355.21 L532.10,361.60 L532.60,364.40 L533.10,361.91 L533.60,356.30 L534.10,347.89 L534.60,337.20 L535.10,324.89 L535.60,311.75 L536.10,298.61 L536.60,286.30 L537.10,275.61 L537.60,267.20 L538.10,261.59 L538.60,259.10 L539.12,261.63 L539.63,267.33 L540.15,275.86 L540.67,286.72 L541.18,299.21 L541.70,312.55 L542.22,325.89 L542.73,338.38 L543.25,349.24 L543.77,357.77 L544.28,363.47 L544.80,366.00 L545.30,363.54 L545.80,357.99 L546.30,349.68 L546.80,339.11 L547.30,326.94 L547.80,313.95 L548.30,300.96 L548.80,288.79 L549.30,278.22 L549.80,269.91 L550.30,264.36 L550.80,261.90 L551.32,264.74 L551.84,271.23 L552.35,280.91 L552.87,293.07 L553.39,306.81 L553.91,321.09 L554.43,334.83 L554.95,346.99 L555.46,356.67 L555.98,363.16 L556.50,366.00 L557.02,363.61 L557.55,358.23 L558.08,350.16 L558.60,339.91 L559.12,328.10 L559.65,315.50 L560.17,302.90 L560.70,291.09 L561.22,280.84 L561.75,272.77 L562.27,267.39 L562.80,265.00 L563.30,268.18 L563.80,275.53 L564.30,286.42 L564.80,299.88 L565.30,314.70 L565.80,329.52 L566.30,342.98 L566.80,353.87 L567.30,361.22 L567.80,364.40 L568.31,362.25 L568.82,357.49 L569.32,350.33 L569.83,341.14 L570.34,330.43 L570.85,318.75 L571.35,306.75 L571.86,295.07 L572.37,284.36 L572.88,275.17 L573.38,268.01 L573.89,263.25 L574.40,261.10 L574.94,263.92 L575.47,270.36 L576.01,279.96 L576.55,292.03 L577.08,305.66 L577.62,319.84 L578.15,333.47 L578.69,345.54 L579.23,355.14 L579.76,361.58 L580.30,364.40 L580.82,361.93 L581.35,356.37 L581.88,348.03 L582.40,337.43 L582.92,325.23 L583.45,312.20 L583.98,299.17 L584.50,286.97 L585.02,276.37 L585.55,268.03 L586.08,262.47 L586.60,260.00 L587.12,262.49 L587.65,268.10 L588.17,276.50 L588.70,287.18 L589.23,299.47 L589.75,312.60 L590.27,325.73 L590.80,338.02 L591.33,348.70 L591.85,357.10 L592.38,362.71 L592.90,365.20 L593.42,362.76 L593.93,357.25 L594.45,349.00 L594.97,338.51 L595.48,326.44 L596.00,313.55 L596.52,300.66 L597.03,288.59 L597.55,278.10 L598.07,269.85 L598.58,264.34 L599.10,261.90 L599.63,264.74 L600.15,271.23 L600.68,280.91 L601.21,293.07 L601.74,306.81 L602.26,321.09 L602.79,334.83 L603.32,346.99 L603.85,356.67 L604.37,363.16 L604.90,366.00 L605.43,363.06 L605.95,356.37 L606.48,346.37 L607.01,333.81 L607.54,319.62 L608.06,304.88 L608.59,290.69 L609.12,278.13 L609.65,268.13 L610.17,261.44 L610.70,258.50 L611.24,261.29 L611.77,267.64 L612.31,277.12 L612.85,289.04 L613.38,302.50 L613.92,316.50 L614.45,329.96 L614.99,341.88 L615.53,351.36 L616.06,357.71 L616.60,360.50 L617.10,358.07 L617.60,352.61 L618.10,344.43 L618.60,334.02 L619.10,322.04 L619.60,309.25 L620.10,296.46 L620.60,284.48 L621.10,274.07 L621.60,265.89 L622.10,260.43 L622.60,258.00 L623.13,260.91 L623.65,267.54 L624.18,277.43 L624.71,289.86 L625.24,303.90 L625.76,318.50 L626.29,332.54 L626.82,344.97 L627.35,354.86 L627.87,361.49 L628.40,364.40 L628.92,361.92 L629.43,356.34 L629.95,347.97 L630.47,337.33 L630.98,325.08 L631.50,312.00 L632.02,298.92 L632.53,286.67 L633.05,276.03 L633.57,267.66 L634.08,262.08 L634.60,259.60 L635.10,262.12 L635.60,267.79 L636.10,276.28 L636.60,287.09 L637.10,299.52 L637.60,312.80 L638.10,326.08 L638.60,338.51 L639.10,349.32 L639.60,357.81 L640.10,363.48 L640.60,366.00 L641.13,363.19 L641.65,356.79 L642.18,347.23 L642.71,335.22 L643.24,321.65 L643.76,307.55 L644.29,293.98 L644.82,281.97 L645.35,272.41 L645.87,266.01 L646.40,263.20 L646.90,265.96 L647.40,272.27 L647.90,281.68 L648.40,293.50 L648.90,306.86 L649.40,320.74 L649.90,334.10 L650.40,345.92 L650.90,355.33 L651.40,361.64 L651.90,364.40 L652.42,361.94 L652.93,356.39 L653.45,348.08 L653.97,337.51 L654.48,325.34 L655.00,312.35 L655.52,299.36 L656.03,287.19 L656.55,276.62 L657.07,268.31 L657.58,262.76 L658.10,260.30 L658.62,262.75 L659.13,268.28 L659.65,276.56 L660.17,287.09 L660.68,299.21 L661.20,312.15 L661.72,325.09 L662.23,337.21 L662.75,347.74 L663.27,356.02 L663.78,361.55 L664.30,364.00" stroke="#bfd5d5" stroke-width="1.7"/><path d="M91.10,363.00 L91.63,360.56 L92.17,355.08 L92.70,346.87 L93.23,336.42 L93.77,324.39 L94.30,311.55 L94.83,298.71 L95.37,286.68 L95.90,276.23 L96.43,268.02 L96.97,262.54 L97.50,260.10 L98.03,262.54 L98.57,268.05 L99.10,276.30 L99.63,286.79 L100.17,298.86 L100.70,311.75 L101.23,324.64 L101.77,336.71 L102.30,347.20 L102.83,355.45 L103.37,360.96 L103.90,363.40 L104.44,360.08 L104.98,352.42 L105.52,341.07 L106.06,327.04 L106.60,311.60 L107.14,296.16 L107.68,282.13 L108.22,270.78 L108.76,263.12 L109.30,259.80 L109.83,263.04 L110.36,270.53 L110.89,281.63 L111.42,295.35 L111.95,310.45 L112.48,325.55 L113.01,339.27 L113.54,350.37 L114.07,357.86 L114.60,361.10 L115.11,358.38 L115.62,352.18 L116.13,342.93 L116.64,331.31 L117.15,318.17 L117.65,304.53 L118.16,291.39 L118.67,279.77 L119.18,270.52 L119.69,264.32 L120.20,261.60 L120.72,264.42 L121.24,270.86 L121.75,280.46 L122.27,292.53 L122.79,306.16 L123.31,320.34 L123.83,333.97 L124.35,346.04 L124.86,355.64 L125.38,362.08 L125.90,364.90 L126.42,362.71 L126.95,357.83 L127.47,350.51 L127.99,341.13 L128.52,330.17 L129.04,318.23 L129.56,305.97 L130.08,294.03 L130.61,283.07 L131.13,273.69 L131.65,266.37 L132.18,261.49 L132.70,259.30 L133.23,262.68 L133.76,270.49 L134.29,282.06 L134.82,296.36 L135.35,312.10 L135.88,327.84 L136.41,342.14 L136.94,353.71 L137.47,361.52 L138.00,364.90 L138.53,362.44 L139.05,356.89 L139.57,348.58 L140.10,338.01 L140.62,325.84 L141.15,312.85 L141.68,299.86 L142.20,287.69 L142.73,277.12 L143.25,268.81 L143.78,263.26 L144.30,260.80 L144.82,263.52 L145.34,269.73 L145.85,278.99 L146.37,290.62 L146.89,303.77 L147.41,317.43 L147.93,330.58 L148.45,342.21 L148.96,351.47 L149.48,357.68 L150.00,360.40 L150.51,357.73 L151.02,351.65 L151.53,342.58 L152.04,331.18 L152.55,318.29 L153.05,304.91 L153.56,292.02 L154.07,280.62 L154.58,271.55 L155.09,265.47 L155.60,262.80 L156.10,265.13 L156.60,270.36 L157.10,278.21 L157.60,288.19 L158.10,299.68 L158.60,311.95 L159.10,324.22 L159.60,335.71 L160.10,345.69 L160.60,353.54 L161.10,358.77 L161.60,361.10 L162.11,358.81 L162.62,353.65 L163.12,345.92 L163.63,336.09 L164.14,324.78 L164.65,312.70 L165.16,300.62 L165.67,289.31 L166.17,279.48 L166.68,271.75 L167.19,266.59 L167.70,264.30 L168.20,266.72 L168.70,272.16 L169.20,280.31 L169.70,290.68 L170.20,302.61 L170.70,315.35 L171.20,328.09 L171.70,340.02 L172.20,350.39 L172.70,358.54 L173.20,363.98 L173.70,366.40 L174.22,364.26 L174.75,359.52 L175.27,352.39 L175.79,343.26 L176.32,332.59 L176.84,320.97 L177.36,309.03 L177.88,297.41 L178.41,286.74 L178.93,277.61 L179.45,270.48 L179.98,265.74 L180.50,263.60 L181.01,266.39 L181.52,272.75 L182.03,282.24 L182.54,294.17 L183.05,307.65 L183.55,321.65 L184.06,335.13 L184.57,347.06 L185.08,356.55 L185.59,362.91 L186.10,365.70 L186.60,363.20 L187.10,357.57 L187.60,349.14 L188.10,338.42 L188.60,326.08 L189.10,312.90 L189.60,299.72 L190.10,287.38 L190.60,276.66 L191.10,268.23 L191.60,262.60 L192.10,260.10 L192.62,262.96 L193.14,269.49 L193.65,279.23 L194.17,291.48 L194.69,305.31 L195.21,319.69 L195.73,333.52 L196.25,345.77 L196.76,355.51 L197.28,362.04 L197.80,364.90 L198.30,362.49 L198.80,357.07 L199.30,348.94 L199.80,338.60 L200.30,326.70 L200.80,314.00 L201.30,301.30 L201.80,289.40 L202.30,279.06 L202.80,270.93 L203.30,265.51 L203.80,263.10 L204.31,265.49 L204.82,270.88 L205.33,278.95 L205.83,289.22 L206.34,301.03 L206.85,313.65 L207.36,326.27 L207.87,338.08 L208.38,348.35 L208.88,356.42 L209.39,361.81 L209.90,364.20 L210.43,361.41 L210.95,355.03 L211.48,345.52 L212.01,333.57 L212.54,320.07 L213.06,306.03 L213.59,292.53 L214.12,280.58 L214.65,271.07 L215.17,264.69 L215.70,261.90 L216.23,264.67 L216.75,271.00 L217.28,280.43 L217.81,292.29 L218.34,305.69 L218.86,319.61 L219.39,333.01 L219.92,344.87 L220.45,354.30 L220.97,360.63 L221.50,363.40 L222.00,361.10 L222.50,355.91 L223.00,348.14 L223.50,338.26 L224.00,326.89 L224.50,314.75 L225.00,302.61 L225.50,291.24 L226.00,281.36 L226.50,273.59 L227.00,268.40 L227.50,266.10 L228.02,268.72 L228.54,274.69 L229.05,283.59 L229.57,294.79 L230.09,307.43 L230.61,320.57 L231.13,333.21 L231.65,344.41 L232.16,353.31 L232.68,359.28 L233.20,361.90 L233.71,359.56 L234.22,354.30 L234.72,346.41 L235.23,336.38 L235.74,324.83 L236.25,312.50 L236.76,300.17 L237.27,288.62 L237.78,278.59 L238.28,270.70 L238.79,265.44 L239.30,263.10 L239.80,265.44 L240.30,270.70 L240.80,278.59 L241.30,288.62 L241.80,300.17 L242.30,312.50 L242.80,324.83 L243.30,336.38 L243.80,346.41 L244.30,354.30 L244.80,359.56 L245.30,361.90 L245.84,359.12 L246.37,352.78 L246.91,343.31 L247.45,331.42 L247.98,317.98 L248.52,304.02 L249.05,290.58 L249.59,278.69 L250.13,269.22 L250.66,262.88 L251.20,260.10 L251.70,262.58 L252.20,268.16 L252.70,276.53 L253.20,287.17 L253.70,299.42 L254.20,312.50 L254.70,325.58 L255.20,337.83 L255.70,348.47 L256.20,356.84 L256.70,362.42 L257.20,364.90 L257.72,362.49 L258.23,357.07 L258.75,348.94 L259.27,338.60 L259.78,326.70 L260.30,314.00 L260.82,301.30 L261.33,289.40 L261.85,279.06 L262.37,270.93 L262.88,265.51 L263.40,263.10 L263.94,265.82 L264.47,272.02 L265.01,281.27 L265.55,292.89 L266.08,306.03 L266.62,319.67 L267.15,332.81 L267.69,344.43 L268.23,353.68 L268.76,359.88 L269.30,362.60 L269.82,360.14 L270.33,354.59 L270.85,346.28 L271.37,335.71 L271.88,323.54 L272.40,310.55 L272.92,297.56 L273.43,285.39 L273.95,274.82 L274.47,266.51 L274.98,260.96 L275.50,258.50 L276.03,261.35 L276.55,267.85 L277.08,277.54 L277.61,289.73 L278.14,303.50 L278.66,317.80 L279.19,331.57 L279.72,343.76 L280.25,353.45 L280.77,359.95 L281.30,362.80 L281.82,360.43 L282.33,355.10 L282.85,347.10 L283.37,336.94 L283.88,325.24 L284.40,312.75 L284.92,300.26 L285.43,288.56 L285.95,278.40 L286.47,270.40 L286.98,265.07 L287.50,262.70 L288.00,265.46 L288.50,271.74 L289.00,281.12 L289.50,292.91 L290.00,306.23 L290.50,320.07 L291.00,333.39 L291.50,345.18 L292.00,354.56 L292.50,360.84 L293.00,363.60 L293.54,360.79 L294.07,354.39 L294.61,344.83 L295.15,332.82 L295.68,319.25 L296.22,305.15 L296.75,291.58 L297.29,279.57 L297.83,270.01 L298.36,263.61 L298.90,260.80 L299.41,263.25 L299.92,268.77 L300.42,277.04 L300.93,287.56 L301.44,299.67 L301.95,312.60 L302.46,325.53 L302.97,337.64 L303.48,348.16 L303.98,356.43 L304.49,361.95 L305.00,364.40 L305.52,361.56 L306.04,355.07 L306.55,345.39 L307.07,333.23 L307.59,319.49 L308.11,305.21 L308.63,291.47 L309.15,279.31 L309.66,269.63 L310.18,263.14 L310.70,260.30 L311.23,263.14 L311.75,269.63 L312.28,279.31 L312.81,291.47 L313.34,305.21 L313.86,319.49 L314.39,333.23 L314.92,345.39 L315.45,355.07 L315.97,361.56 L316.50,364.40 L317.02,362.30 L317.53,357.65 L318.05,350.65 L318.56,341.68 L319.08,331.22 L319.59,319.81 L320.11,308.09 L320.62,296.68 L321.14,286.22 L321.65,277.25 L322.17,270.25 L322.68,265.60 L323.20,263.50 L323.73,266.19 L324.25,272.34 L324.78,281.50 L325.31,293.02 L325.84,306.04 L326.36,319.56 L326.89,332.58 L327.42,344.10 L327.95,353.26 L328.47,359.41 L329.00,362.10 L329.54,359.30 L330.07,352.91 L330.61,343.38 L331.15,331.41 L331.68,317.88 L332.22,303.82 L332.75,290.29 L333.29,278.32 L333.83,268.79 L334.36,262.40 L334.90,259.60 L335.43,262.40 L335.95,268.79 L336.48,278.32 L337.01,290.29 L337.54,303.82 L338.06,317.88 L338.59,331.41 L339.12,343.38 L339.65,352.91 L340.17,359.30 L340.70,362.10 L341.23,359.32 L341.75,352.98 L342.28,343.51 L342.81,331.62 L343.34,318.18 L343.86,304.22 L344.39,290.78 L344.92,278.89 L345.45,269.42 L345.97,263.08 L346.50,260.30 L347.00,262.82 L347.50,268.50 L348.00,277.00 L348.50,287.81 L349.00,300.26 L349.50,313.55 L350.00,326.84 L350.50,339.29 L351.00,350.10 L351.50,358.60 L352.00,364.28 L352.50,366.80 L353.02,364.57 L353.53,359.63 L354.05,352.19 L354.56,342.66 L355.08,331.54 L355.59,319.43 L356.11,306.97 L356.62,294.86 L357.14,283.74 L357.65,274.21 L358.17,266.77 L358.68,261.83 L359.20,259.60 L359.71,262.10 L360.22,267.73 L360.73,276.16 L361.23,286.88 L361.74,299.22 L362.25,312.40 L362.76,325.58 L363.27,337.92 L363.77,348.64 L364.28,357.07 L364.79,362.70 L365.30,365.20 L365.81,362.68 L366.32,357.00 L366.82,348.48 L367.33,337.66 L367.84,325.20 L368.35,311.90 L368.86,298.60 L369.37,286.14 L369.88,275.32 L370.38,266.80 L370.89,261.12 L371.40,258.60 L371.91,261.58 L372.42,268.36 L372.93,278.48 L373.44,291.21 L373.95,305.58 L374.45,320.52 L374.96,334.89 L375.47,347.62 L375.98,357.74 L376.49,364.52 L377.00,367.50 L377.52,365.29 L378.05,360.38 L378.57,353.00 L379.09,343.55 L379.62,332.51 L380.14,320.48 L380.66,308.12 L381.18,296.09 L381.71,285.05 L382.23,275.60 L382.75,268.22 L383.28,263.31 L383.80,261.10 L384.33,264.56 L384.86,272.54 L385.39,284.37 L385.92,299.00 L386.45,315.10 L386.98,331.20 L387.51,345.83 L388.04,357.66 L388.57,365.64 L389.10,369.10 L389.62,366.75 L390.13,361.52 L390.65,353.66 L391.16,343.59 L391.68,331.84 L392.19,319.03 L392.71,305.87 L393.22,293.06 L393.74,281.31 L394.25,271.24 L394.77,263.38 L395.28,258.15 L395.80,255.80 L396.31,258.16 L396.82,263.42 L397.32,271.30 L397.83,281.42 L398.34,293.23 L398.85,306.09 L399.35,319.31 L399.86,332.17 L400.37,343.98 L400.88,354.10 L401.38,361.98 L401.89,367.24 L402.40,369.60 L402.92,366.10 L403.44,358.02 L403.96,346.05 L404.48,331.24 L405.00,314.95 L405.52,298.66 L406.04,283.85 L406.56,271.88 L407.08,263.80 L407.60,260.30 L408.12,262.78 L408.63,268.37 L409.15,276.75 L409.67,287.40 L410.18,299.66 L410.70,312.75 L411.22,325.84 L411.73,338.10 L412.25,348.75 L412.77,357.13 L413.28,362.72 L413.80,365.20 L414.32,362.66 L414.85,356.95 L415.38,348.39 L415.90,337.51 L416.43,324.98 L416.95,311.60 L417.48,298.22 L418.00,285.69 L418.53,274.81 L419.05,266.25 L419.58,260.54 L420.10,258.00 L420.64,260.95 L421.17,267.68 L421.71,277.72 L422.25,290.34 L422.78,304.59 L423.32,319.41 L423.85,333.66 L424.39,346.28 L424.93,356.32 L425.46,363.05 L426.00,366.00 L426.52,363.56 L427.05,358.05 L427.57,349.80 L428.10,339.31 L428.62,327.24 L429.15,314.35 L429.68,301.46 L430.20,289.39 L430.73,278.90 L431.25,270.65 L431.78,265.14 L432.30,262.70 L432.83,265.50 L433.35,271.89 L433.88,281.42 L434.41,293.39 L434.94,306.92 L435.46,320.98 L435.99,334.51 L436.52,346.48 L437.05,356.01 L437.57,362.40 L438.10,365.20 L438.64,362.25 L439.17,355.52 L439.71,345.48 L440.25,332.86 L440.78,318.61 L441.32,303.79 L441.85,289.54 L442.39,276.92 L442.93,266.88 L443.46,260.15 L444.00,257.20 L444.51,259.70 L445.02,265.33 L445.52,273.76 L446.03,284.48 L446.54,296.82 L447.05,310.00 L447.56,323.18 L448.07,335.52 L448.58,346.24 L449.08,354.67 L449.59,360.30 L450.10,362.80 L450.62,360.00 L451.14,353.61 L451.65,344.08 L452.17,332.11 L452.69,318.58 L453.21,304.52 L453.73,290.99 L454.25,279.02 L454.76,269.49 L455.28,263.10 L455.80,260.30 L456.32,263.14 L456.84,269.63 L457.35,279.31 L457.87,291.47 L458.39,305.21 L458.91,319.49 L459.43,333.23 L459.95,345.39 L460.46,355.07 L460.98,361.56 L461.50,364.40 L462.00,362.01 L462.50,356.64 L463.00,348.58 L463.50,338.33 L464.00,326.54 L464.50,313.95 L465.00,301.36 L465.50,289.57 L466.00,279.32 L466.50,271.26 L467.00,265.89 L467.50,263.50 L468.03,266.71 L468.56,274.10 L469.09,285.07 L469.62,298.63 L470.15,313.55 L470.68,328.47 L471.21,342.03 L471.74,353.00 L472.27,360.39 L472.80,363.60 L473.32,361.47 L473.85,356.74 L474.37,349.63 L474.89,340.52 L475.42,329.89 L475.94,318.30 L476.46,306.40 L476.98,294.81 L477.51,284.18 L478.03,275.07 L478.55,267.96 L479.08,263.23 L479.60,261.10 L480.12,263.94 L480.64,270.43 L481.15,280.11 L481.67,292.27 L482.19,306.01 L482.71,320.29 L483.23,334.03 L483.75,346.19 L484.26,355.87 L484.78,362.36 L485.30,365.20 L485.82,362.79 L486.35,357.35 L486.88,349.21 L487.40,338.85 L487.93,326.93 L488.45,314.20 L488.98,301.47 L489.50,289.55 L490.03,279.19 L490.55,271.05 L491.08,265.61 L491.60,263.20 L492.10,265.99 L492.60,272.34 L493.10,281.82 L493.60,293.74 L494.10,307.20 L494.60,321.20 L495.10,334.66 L495.60,346.58 L496.10,356.06 L496.60,362.41 L497.10,365.20 L497.64,362.33 L498.17,355.77 L498.71,345.99 L499.25,333.70 L499.78,319.82 L500.32,305.38 L500.85,291.50 L501.39,279.21 L501.93,269.43 L502.46,262.87 L503.00,260.00 L503.53,262.79 L504.05,269.15 L504.58,278.64 L505.11,290.57 L505.64,304.05 L506.16,318.05 L506.69,331.53 L507.22,343.46 L507.75,352.95 L508.27,359.31 L508.80,362.10 L509.35,359.30 L509.89,352.91 L510.44,343.38 L510.98,331.41 L511.53,317.88 L512.07,303.82 L512.62,290.29 L513.16,278.32 L513.71,268.79 L514.25,262.40 L514.80,259.60 L515.33,262.44 L515.85,268.92 L516.38,278.59 L516.91,290.74 L517.44,304.47 L517.96,318.73 L518.49,332.46 L519.02,344.61 L519.55,354.28 L520.07,360.76 L520.60,363.60 L521.10,361.49 L521.60,356.79 L522.10,349.74 L522.60,340.70 L523.10,330.15 L523.60,318.66 L524.10,306.84 L524.60,295.35 L525.10,284.80 L525.60,275.76 L526.10,268.71 L526.60,264.01 L527.10,261.90 L527.60,264.70 L528.10,271.09 L528.60,280.62 L529.10,292.59 L529.60,306.12 L530.10,320.18 L530.60,333.71 L531.10,345.68 L531.60,355.21 L532.10,361.60 L532.60,364.40 L533.10,361.91 L533.60,356.30 L534.10,347.89 L534.60,337.20 L535.10,324.89 L535.60,311.75 L536.10,298.61 L536.60,286.30 L537.10,275.61 L537.60,267.20 L538.10,261.59 L538.60,259.10 L539.12,261.63 L539.63,267.33 L540.15,275.86 L540.67,286.72 L541.18,299.21 L541.70,312.55 L542.22,325.89 L542.73,338.38 L543.25,349.24 L543.77,357.77 L544.28,363.47 L544.80,366.00 L545.30,363.54 L545.80,357.99 L546.30,349.68 L546.80,339.11 L547.30,326.94 L547.80,313.95 L548.30,300.96 L548.80,288.79 L549.30,278.22 L549.80,269.91 L550.30,264.36 L550.80,261.90 L551.32,264.74 L551.84,271.23 L552.35,280.91 L552.87,293.07 L553.39,306.81 L553.91,321.09 L554.43,334.83 L554.95,346.99 L555.46,356.67 L555.98,363.16 L556.50,366.00 L557.02,363.61 L557.55,358.23 L558.08,350.16 L558.60,339.91 L559.12,328.10 L559.65,315.50 L560.17,302.90 L560.70,291.09 L561.22,280.84 L561.75,272.77 L562.27,267.39 L562.80,265.00 L563.30,268.18 L563.80,275.53 L564.30,286.42 L564.80,299.88 L565.30,314.70 L565.80,329.52 L566.30,342.98 L566.80,353.87 L567.30,361.22 L567.80,364.40 L568.31,362.25 L568.82,357.49 L569.32,350.33 L569.83,341.14 L570.34,330.43 L570.85,318.75 L571.35,306.75 L571.86,295.07 L572.37,284.36 L572.88,275.17 L573.38,268.01 L573.89,263.25 L574.40,261.10 L574.94,263.92 L575.47,270.36 L576.01,279.96 L576.55,292.03 L577.08,305.66 L577.62,319.84 L578.15,333.47 L578.69,345.54 L579.23,355.14 L579.76,361.58 L580.30,364.40 L580.82,361.93 L581.35,356.37 L581.88,348.03 L582.40,337.43 L582.92,325.23 L583.45,312.20 L583.98,299.17 L584.50,286.97 L585.02,276.37 L585.55,268.03 L586.08,262.47 L586.60,260.00 L587.12,262.49 L587.65,268.10 L588.17,276.50 L588.70,287.18 L589.23,299.47 L589.75,312.60 L590.27,325.73 L590.80,338.02 L591.33,348.70 L591.85,357.10 L592.38,362.71 L592.90,365.20 L593.42,362.76 L593.93,357.25 L594.45,349.00 L594.97,338.51 L595.48,326.44 L596.00,313.55 L596.52,300.66 L597.03,288.59 L597.55,278.10 L598.07,269.85 L598.58,264.34 L599.10,261.90 L599.63,264.74 L600.15,271.23 L600.68,280.91 L601.21,293.07 L601.74,306.81 L602.26,321.09 L602.79,334.83 L603.32,346.99 L603.85,356.67 L604.37,363.16 L604.90,366.00 L605.43,363.06 L605.95,356.37 L606.48,346.37 L607.01,333.81 L607.54,319.62 L608.06,304.88 L608.59,290.69 L609.12,278.13 L609.65,268.13 L610.17,261.44 L610.70,258.50 L611.24,261.29 L611.77,267.64 L612.31,277.12 L612.85,289.04 L613.38,302.50 L613.92,316.50 L614.45,329.96 L614.99,341.88 L615.53,351.36 L616.06,357.71 L616.60,360.50 L617.10,358.07 L617.60,352.61 L618.10,344.43 L618.60,334.02 L619.10,322.04 L619.60,309.25 L620.10,296.46 L620.60,284.48 L621.10,274.07 L621.60,265.89 L622.10,260.43 L622.60,258.00 L623.13,260.91 L623.65,267.54 L624.18,277.43 L624.71,289.86 L625.24,303.90 L625.76,318.50 L626.29,332.54 L626.82,344.97 L627.35,354.86 L627.87,361.49 L628.40,364.40 L628.92,361.92 L629.43,356.34 L629.95,347.97 L630.47,337.33 L630.98,325.08 L631.50,312.00 L632.02,298.92 L632.53,286.67 L633.05,276.03 L633.57,267.66 L634.08,262.08 L634.60,259.60 L635.10,262.12 L635.60,267.79 L636.10,276.28 L636.60,287.09 L637.10,299.52 L637.60,312.80 L638.10,326.08 L638.60,338.51 L639.10,349.32 L639.60,357.81 L640.10,363.48 L640.60,366.00 L641.13,363.19 L641.65,356.79 L642.18,347.23 L642.71,335.22 L643.24,321.65 L643.76,307.55 L644.29,293.98 L644.82,281.97 L645.35,272.41 L645.87,266.01 L646.40,263.20 L646.90,265.96 L647.40,272.27 L647.90,281.68 L648.40,293.50 L648.90,306.86 L649.40,320.74 L649.90,334.10 L650.40,345.92 L650.90,355.33 L651.40,361.64 L651.90,364.40 L652.42,361.94 L652.93,356.39 L653.45,348.08 L653.97,337.51 L654.48,325.34 L655.00,312.35 L655.52,299.36 L656.03,287.19 L656.55,276.62 L657.07,268.31 L657.58,262.76 L658.10,260.30 L658.62,262.75 L659.13,268.28 L659.65,276.56 L660.17,287.09 L660.68,299.21 L661.20,312.15 L661.72,325.09 L662.23,337.21 L662.75,347.74 L663.27,356.02 L663.78,361.55 L664.30,364.00" stroke="#6f8383" stroke-width="1.0"/></g>
<circle cx="395.8" cy="255.8" r="2.0" fill="none" stroke="#6f8383" stroke-width="1.0"/>
<circle cx="402.4" cy="369.6" r="2.0" fill="none" stroke="#6f8383" stroke-width="1.0"/>
<text x="106.60" y="248.90" font-size="16.8"><tspan font-style="italic">U</tspan>=1.13m/s</text>
<text x="402.20" y="253.80" font-size="16.5">max=190.74mm</text>
<text x="409.00" y="387.00" font-size="16.5">min=-187.93mm</text>
<line x1="94.0" y1="253.36" x2="102.5" y2="253.36" stroke="#182020" stroke-width="1.8"/>
<line x1="94.0" y1="283.27" x2="102.5" y2="283.27" stroke="#182020" stroke-width="1.8"/>
<line x1="94.0" y1="313.17" x2="102.5" y2="313.17" stroke="#182020" stroke-width="1.8"/>
<line x1="94.0" y1="343.08" x2="102.5" y2="343.08" stroke="#182020" stroke-width="1.8"/>
<line x1="94.0" y1="372.99" x2="102.5" y2="372.99" stroke="#182020" stroke-width="1.8"/>
<line x1="188.98" y1="402.9" x2="188.98" y2="394.4" stroke="#182020" stroke-width="1.8"/>
<line x1="283.97" y1="402.9" x2="283.97" y2="394.4" stroke="#182020" stroke-width="1.8"/>
<line x1="378.95" y1="402.9" x2="378.95" y2="394.4" stroke="#182020" stroke-width="1.8"/>
<line x1="473.93" y1="402.9" x2="473.93" y2="394.4" stroke="#182020" stroke-width="1.8"/>
<line x1="568.92" y1="402.9" x2="568.92" y2="394.4" stroke="#182020" stroke-width="1.8"/>
<rect x="94.0" y="223.45" width="569.9" height="179.45" fill="none" stroke="#182020" stroke-width="2.0"/>
<text x="83.8" y="229.65" font-size="20" text-anchor="end">300</text>
<text x="83.8" y="259.56" font-size="20" text-anchor="end">200</text>
<text x="83.8" y="289.47" font-size="20" text-anchor="end">100</text>
<text x="83.8" y="319.37" font-size="20" text-anchor="end">0</text>
<text x="83.8" y="349.28" font-size="20" text-anchor="end">−100</text>
<text x="83.8" y="379.19" font-size="20" text-anchor="end">−200</text>
<text x="83.8" y="409.10" font-size="20" text-anchor="end">−300</text>
<defs><clipPath id="c2"><rect x="94.0" y="435.1" width="569.9" height="179.79999999999995"/></clipPath></defs>
<rect x="94.0" y="435.1" width="569.9" height="179.79999999999995" fill="#fdfed8"/>
<g clip-path="url(#c2)" fill="none" stroke-linejoin="round"><path d="M89.60,470.00 L90.10,472.00 L90.60,476.39 L91.10,482.99 L91.60,491.50 L92.10,501.54 L92.60,512.65 L93.10,524.30 L93.60,535.95 L94.10,547.06 L94.60,557.10 L95.10,565.61 L95.60,572.21 L96.10,576.60 L96.60,578.60 L97.10,576.68 L97.60,572.48 L98.10,566.16 L98.60,558.01 L99.10,548.39 L99.60,537.76 L100.10,526.60 L100.60,515.44 L101.10,504.81 L101.60,495.19 L102.10,487.04 L102.60,480.72 L103.10,476.52 L103.60,474.60 L104.12,478.55 L104.64,487.76 L105.17,501.26 L105.69,517.56 L106.21,534.84 L106.73,551.14 L107.26,564.64 L107.78,573.85 L108.30,577.80 L108.82,575.57 L109.35,570.63 L109.87,563.19 L110.39,553.66 L110.92,542.54 L111.44,530.43 L111.96,517.97 L112.48,505.86 L113.01,494.74 L113.53,485.21 L114.05,477.77 L114.58,472.83 L115.10,470.60 L115.60,473.51 L116.10,480.14 L116.60,490.05 L117.10,502.49 L117.60,516.55 L118.10,531.15 L118.60,545.21 L119.10,557.65 L119.60,567.56 L120.10,574.19 L120.60,577.10 L121.12,574.15 L121.64,567.42 L122.15,557.38 L122.67,544.76 L123.19,530.51 L123.71,515.69 L124.23,501.44 L124.75,488.82 L125.26,478.78 L125.78,472.05 L126.30,469.10 L126.83,471.69 L127.35,477.53 L127.88,486.27 L128.40,497.39 L128.92,510.18 L129.45,523.85 L129.97,537.52 L130.50,550.31 L131.03,561.43 L131.55,570.17 L132.07,576.01 L132.60,578.60 L133.13,575.65 L133.65,568.92 L134.18,558.88 L134.71,546.26 L135.24,532.01 L135.76,517.19 L136.29,502.94 L136.82,490.32 L137.35,480.28 L137.87,473.55 L138.40,470.60 L138.94,473.55 L139.47,480.28 L140.01,490.32 L140.55,502.94 L141.08,517.19 L141.62,532.01 L142.15,546.26 L142.69,558.88 L143.23,568.92 L143.76,575.65 L144.30,578.60 L144.83,576.08 L145.35,570.41 L145.88,561.92 L146.40,551.11 L146.93,538.68 L147.45,525.40 L147.97,512.12 L148.50,499.69 L149.03,488.88 L149.55,480.39 L150.07,474.72 L150.60,472.20 L151.14,475.11 L151.67,481.74 L152.21,491.63 L152.75,504.06 L153.28,518.10 L153.82,532.70 L154.35,546.74 L154.89,559.17 L155.43,569.06 L155.96,575.69 L156.50,578.60 L157.01,576.42 L157.52,571.57 L158.02,564.28 L158.53,554.94 L159.04,544.03 L159.55,532.16 L160.05,519.94 L160.56,508.07 L161.07,497.16 L161.58,487.82 L162.08,480.53 L162.59,475.68 L163.10,473.50 L163.60,476.01 L164.10,481.65 L164.60,490.11 L165.10,500.86 L165.60,513.23 L166.10,526.45 L166.60,539.67 L167.10,552.04 L167.60,562.79 L168.10,571.25 L168.60,576.89 L169.10,579.40 L169.62,576.92 L170.13,571.34 L170.65,562.97 L171.17,552.33 L171.68,540.08 L172.20,527.00 L172.72,513.92 L173.23,501.67 L173.75,491.03 L174.27,482.66 L174.78,477.08 L175.30,474.60 L175.84,477.43 L176.37,483.88 L176.91,493.52 L177.45,505.62 L177.98,519.29 L178.52,533.51 L179.05,547.18 L179.59,559.28 L180.13,568.92 L180.66,575.37 L181.20,578.20 L181.70,575.64 L182.20,569.87 L182.70,561.22 L183.20,550.22 L183.70,537.57 L184.20,524.05 L184.70,510.53 L185.20,497.88 L185.70,486.88 L186.20,478.23 L186.70,472.46 L187.20,469.90 L187.73,473.41 L188.26,481.50 L188.79,493.50 L189.32,508.33 L189.85,524.65 L190.38,540.97 L190.91,555.80 L191.44,567.80 L191.97,575.89 L192.50,579.40 L193.03,576.86 L193.55,571.13 L194.07,562.54 L194.60,551.63 L195.12,539.07 L195.65,525.65 L196.18,512.23 L196.70,499.67 L197.23,488.76 L197.75,480.17 L198.28,474.44 L198.80,471.90 L199.34,474.86 L199.87,481.61 L200.41,491.67 L200.95,504.33 L201.48,518.62 L202.02,533.48 L202.55,547.77 L203.09,560.43 L203.63,570.49 L204.16,577.24 L204.70,580.20 L205.22,577.61 L205.75,571.77 L206.27,563.01 L206.80,551.89 L207.32,539.08 L207.85,525.40 L208.38,511.72 L208.90,498.91 L209.43,487.79 L209.95,479.03 L210.47,473.19 L211.00,470.60 L211.52,473.16 L212.03,478.91 L212.55,487.53 L213.07,498.50 L213.58,511.12 L214.10,524.60 L214.62,538.08 L215.13,550.70 L215.65,561.67 L216.17,570.29 L216.68,576.04 L217.20,578.60 L217.72,576.00 L218.25,570.15 L218.77,561.38 L219.30,550.24 L219.82,537.40 L220.35,523.70 L220.88,510.00 L221.40,497.17 L221.93,486.02 L222.45,477.25 L222.97,471.40 L223.50,468.80 L224.03,471.78 L224.55,478.57 L225.08,488.70 L225.61,501.44 L226.14,515.82 L226.66,530.78 L227.19,545.16 L227.72,557.90 L228.25,568.03 L228.77,574.82 L229.30,577.80 L229.83,575.23 L230.35,569.43 L230.88,560.76 L231.40,549.72 L231.93,537.02 L232.45,523.45 L232.97,509.88 L233.50,497.18 L234.03,486.14 L234.55,477.47 L235.07,471.67 L235.60,469.10 L236.14,472.11 L236.67,478.98 L237.21,489.24 L237.75,502.13 L238.28,516.68 L238.82,531.82 L239.35,546.37 L239.89,559.26 L240.43,569.52 L240.96,576.39 L241.50,579.40 L242.01,577.13 L242.52,572.07 L243.02,564.48 L243.53,554.75 L244.04,543.39 L244.55,531.01 L245.05,518.29 L245.56,505.91 L246.07,494.55 L246.58,484.82 L247.08,477.23 L247.59,472.17 L248.10,469.90 L248.64,472.81 L249.17,479.44 L249.71,489.33 L250.25,501.76 L250.78,515.80 L251.32,530.40 L251.85,544.44 L252.39,556.87 L252.93,566.76 L253.46,573.39 L254.00,576.30 L254.51,574.09 L255.02,569.18 L255.52,561.80 L256.03,552.35 L256.54,541.31 L257.05,529.28 L257.55,516.92 L258.06,504.89 L258.57,493.85 L259.08,484.40 L259.58,477.02 L260.09,472.11 L260.60,469.90 L261.10,472.85 L261.60,479.57 L262.10,489.60 L262.60,502.21 L263.10,516.45 L263.60,531.25 L264.10,545.49 L264.60,558.10 L265.10,568.13 L265.60,574.85 L266.10,577.80 L266.62,575.60 L267.13,570.71 L267.65,563.37 L268.16,553.96 L268.68,542.97 L269.19,531.00 L269.71,518.70 L270.22,506.73 L270.74,495.74 L271.25,486.33 L271.77,478.99 L272.28,474.10 L272.80,471.90 L273.30,474.36 L273.80,479.90 L274.30,488.21 L274.80,498.77 L275.30,510.92 L275.80,523.90 L276.30,536.88 L276.80,549.03 L277.30,559.59 L277.80,567.90 L278.30,573.44 L278.80,575.90 L279.31,573.41 L279.82,567.80 L280.32,559.39 L280.83,548.70 L281.34,536.39 L281.85,523.25 L282.36,510.11 L282.87,497.80 L283.38,487.11 L283.88,478.70 L284.39,473.09 L284.90,470.60 L285.41,473.14 L285.92,478.85 L286.42,487.41 L286.93,498.29 L287.44,510.82 L287.95,524.20 L288.46,537.58 L288.97,550.11 L289.48,560.99 L289.98,569.55 L290.49,575.26 L291.00,577.80 L291.54,574.83 L292.07,568.06 L292.61,557.95 L293.15,545.25 L293.68,530.91 L294.22,515.99 L294.75,501.65 L295.29,488.95 L295.83,478.84 L296.36,472.07 L296.90,469.10 L297.42,471.67 L297.95,477.47 L298.47,486.14 L299.00,497.18 L299.52,509.88 L300.05,523.45 L300.57,537.02 L301.10,549.72 L301.62,560.76 L302.15,569.43 L302.68,575.23 L303.20,577.80 L303.73,574.82 L304.25,568.03 L304.78,557.90 L305.31,545.16 L305.84,530.78 L306.36,515.82 L306.89,501.44 L307.42,488.70 L307.95,478.57 L308.47,471.78 L309.00,468.80 L309.54,471.84 L310.07,478.78 L310.61,489.14 L311.15,502.16 L311.68,516.86 L312.22,532.14 L312.75,546.84 L313.29,559.86 L313.83,570.22 L314.36,577.16 L314.90,580.20 L315.42,577.89 L315.93,572.76 L316.45,565.06 L316.96,555.19 L317.48,543.66 L317.99,531.10 L318.51,518.20 L319.02,505.64 L319.54,494.11 L320.05,484.24 L320.57,476.54 L321.08,471.41 L321.60,469.10 L322.13,472.09 L322.65,478.91 L323.18,489.09 L323.71,501.89 L324.24,516.34 L324.76,531.36 L325.29,545.81 L325.82,558.61 L326.35,568.79 L326.87,575.61 L327.40,578.60 L327.90,576.04 L328.40,570.29 L328.90,561.67 L329.40,550.70 L329.90,538.08 L330.40,524.60 L330.90,511.12 L331.40,498.50 L331.90,487.53 L332.40,478.91 L332.90,473.16 L333.40,470.60 L333.93,473.62 L334.45,480.49 L334.98,490.76 L335.51,503.66 L336.04,518.23 L336.56,533.37 L337.09,547.94 L337.62,560.84 L338.15,571.11 L338.67,577.98 L339.20,581.00 L339.72,578.68 L340.23,573.51 L340.75,565.75 L341.26,555.81 L341.78,544.20 L342.29,531.55 L342.81,518.55 L343.32,505.90 L343.84,494.29 L344.35,484.35 L344.87,476.59 L345.38,471.42 L345.90,469.10 L346.43,472.03 L346.95,478.71 L347.48,488.67 L348.01,501.20 L348.54,515.35 L349.06,530.05 L349.59,544.20 L350.12,556.73 L350.65,566.69 L351.17,573.37 L351.70,576.30 L352.24,573.43 L352.77,566.90 L353.31,557.15 L353.85,544.89 L354.38,531.04 L354.92,516.66 L355.45,502.81 L355.99,490.55 L356.53,480.80 L357.06,474.27 L357.60,471.40 L358.12,473.96 L358.65,479.71 L359.18,488.33 L359.70,499.30 L360.23,511.92 L360.75,525.40 L361.27,538.88 L361.80,551.50 L362.32,562.47 L362.85,571.09 L363.38,576.84 L363.90,579.40 L364.40,577.08 L364.90,571.94 L365.40,564.21 L365.90,554.30 L366.40,542.73 L366.90,530.13 L367.40,517.17 L367.90,504.57 L368.40,493.00 L368.90,483.09 L369.40,475.36 L369.90,470.22 L370.40,467.90 L370.94,470.86 L371.47,477.61 L372.01,487.69 L372.55,500.36 L373.08,514.67 L373.62,529.53 L374.15,543.84 L374.69,556.51 L375.23,566.59 L375.76,573.34 L376.30,576.30 L376.84,573.39 L377.37,566.76 L377.91,556.87 L378.45,544.44 L378.98,530.40 L379.52,515.80 L380.05,501.76 L380.59,489.33 L381.13,479.44 L381.66,472.81 L382.20,469.90 L382.73,472.91 L383.25,479.78 L383.78,490.04 L384.31,502.93 L384.84,517.48 L385.36,532.62 L385.89,547.17 L386.42,560.06 L386.95,570.32 L387.47,577.19 L388.00,580.20 L388.52,577.91 L389.03,572.82 L389.55,565.17 L390.06,555.37 L390.58,543.92 L391.09,531.46 L391.61,518.64 L392.12,506.18 L392.64,494.73 L393.15,484.93 L393.67,477.28 L394.18,472.19 L394.70,469.90 L395.22,472.40 L395.75,478.03 L396.27,486.46 L396.80,497.18 L397.32,509.52 L397.85,522.70 L398.38,535.88 L398.90,548.22 L399.43,558.94 L399.95,567.37 L400.48,573.00 L401.00,575.50 L401.51,573.31 L402.02,568.43 L402.52,561.11 L403.03,551.73 L403.54,540.77 L404.05,528.83 L404.55,516.57 L405.06,504.63 L405.57,493.67 L406.08,484.29 L406.58,476.97 L407.09,472.09 L407.60,469.90 L408.14,472.91 L408.67,479.78 L409.21,490.04 L409.75,502.93 L410.28,517.48 L410.82,532.62 L411.35,547.17 L411.89,560.06 L412.43,570.32 L412.96,577.19 L413.50,580.20 L414.01,577.84 L414.52,572.58 L415.02,564.70 L415.53,554.58 L416.04,542.77 L416.55,529.91 L417.05,516.69 L417.56,503.83 L418.07,492.02 L418.58,481.90 L419.08,474.02 L419.59,468.76 L420.10,466.40 L420.60,469.44 L421.10,476.38 L421.60,486.74 L422.10,499.76 L422.60,514.46 L423.10,529.74 L423.60,544.44 L424.10,557.46 L424.60,567.82 L425.10,574.76 L425.60,577.80 L426.12,575.32 L426.63,569.74 L427.15,561.37 L427.67,550.73 L428.18,538.48 L428.70,525.40 L429.22,512.32 L429.73,500.07 L430.25,489.43 L430.77,481.06 L431.28,475.48 L431.80,473.00 L432.30,475.93 L432.80,482.61 L433.30,492.57 L433.80,505.10 L434.30,519.25 L434.80,533.95 L435.30,548.10 L435.80,560.63 L436.30,570.59 L436.80,577.27 L437.30,580.20 L437.82,577.97 L438.33,573.03 L438.85,565.59 L439.36,556.06 L439.88,544.94 L440.39,532.83 L440.91,520.37 L441.42,508.26 L441.94,497.14 L442.45,487.61 L442.97,480.17 L443.48,475.23 L444.00,473.00 L444.53,475.88 L445.05,482.46 L445.58,492.28 L446.11,504.62 L446.64,518.56 L447.16,533.04 L447.69,546.98 L448.22,559.32 L448.75,569.14 L449.27,575.72 L449.80,578.60 L450.32,576.03 L450.85,570.23 L451.38,561.56 L451.90,550.52 L452.43,537.82 L452.95,524.25 L453.48,510.68 L454.00,497.98 L454.53,486.94 L455.05,478.27 L455.58,472.47 L456.10,469.90 L456.64,473.43 L457.18,481.59 L457.72,493.67 L458.26,508.61 L458.80,525.05 L459.34,541.49 L459.88,556.43 L460.42,568.51 L460.96,576.67 L461.50,580.20 L462.02,577.91 L462.55,572.82 L463.07,565.17 L463.59,555.37 L464.12,543.92 L464.64,531.46 L465.16,518.64 L465.68,506.18 L466.21,494.73 L466.73,484.93 L467.25,477.28 L467.78,472.19 L468.30,469.90 L468.83,472.91 L469.35,479.78 L469.88,490.04 L470.41,502.93 L470.94,517.48 L471.46,532.62 L471.99,547.17 L472.52,560.06 L473.05,570.32 L473.57,577.19 L474.10,580.20 L474.62,577.59 L475.13,571.71 L475.65,562.90 L476.17,551.71 L476.68,538.82 L477.20,525.05 L477.72,511.28 L478.23,498.39 L478.75,487.20 L479.27,478.39 L479.78,472.51 L480.30,469.90 L480.82,472.51 L481.35,478.39 L481.88,487.20 L482.40,498.39 L482.93,511.28 L483.45,525.05 L483.98,538.82 L484.50,551.71 L485.03,562.90 L485.55,571.71 L486.08,577.59 L486.60,580.20 L487.12,577.59 L487.65,571.71 L488.18,562.90 L488.70,551.71 L489.23,538.82 L489.75,525.05 L490.27,511.28 L490.80,498.39 L491.32,487.20 L491.85,478.39 L492.38,472.51 L492.90,469.90 L493.44,473.33 L493.98,481.26 L494.52,493.00 L495.06,507.52 L495.60,523.50 L496.14,539.48 L496.68,554.00 L497.22,565.74 L497.76,573.67 L498.30,577.10 L498.82,574.53 L499.35,568.73 L499.88,560.04 L500.40,548.99 L500.93,536.28 L501.45,522.70 L501.98,509.12 L502.50,496.41 L503.03,485.36 L503.55,476.67 L504.08,470.87 L504.60,468.30 L505.11,470.97 L505.62,476.97 L506.12,485.97 L506.63,497.41 L507.14,510.58 L507.65,524.65 L508.16,538.72 L508.67,551.89 L509.18,563.33 L509.68,572.33 L510.19,578.33 L510.70,581.00 L511.22,578.74 L511.73,573.72 L512.25,566.18 L512.76,556.50 L513.28,545.22 L513.79,532.92 L514.31,520.28 L514.82,507.98 L515.34,496.70 L515.85,487.02 L516.37,479.48 L516.88,474.46 L517.40,472.20 L517.93,475.15 L518.45,481.88 L518.98,491.92 L519.51,504.54 L520.04,518.79 L520.56,533.61 L521.09,547.86 L521.62,560.48 L522.15,570.52 L522.67,577.25 L523.20,580.20 L523.70,577.55 L524.20,571.59 L524.70,562.65 L525.20,551.29 L525.70,538.22 L526.20,524.25 L526.70,510.28 L527.20,497.21 L527.70,485.85 L528.20,476.91 L528.70,470.95 L529.20,468.30 L529.70,470.59 L530.20,475.68 L530.70,483.33 L531.20,493.13 L531.70,504.58 L532.20,517.04 L532.70,529.86 L533.20,542.32 L533.70,553.77 L534.20,563.57 L534.70,571.22 L535.20,576.31 L535.70,578.60 L536.20,576.01 L536.70,570.17 L537.20,561.43 L537.70,550.31 L538.20,537.52 L538.70,523.85 L539.20,510.18 L539.70,497.39 L540.20,486.27 L540.70,477.53 L541.20,471.69 L541.70,469.10 L542.24,472.07 L542.77,478.84 L543.31,488.95 L543.85,501.65 L544.38,515.99 L544.92,530.91 L545.45,545.25 L545.99,557.95 L546.53,568.06 L547.06,574.83 L547.60,577.80 L548.13,574.87 L548.65,568.19 L549.18,558.23 L549.71,545.70 L550.24,531.55 L550.76,516.85 L551.29,502.70 L551.82,490.17 L552.35,480.21 L552.87,473.53 L553.40,470.60 L553.93,473.70 L554.45,480.75 L554.98,491.29 L555.51,504.53 L556.04,519.48 L556.56,535.02 L557.09,549.97 L557.62,563.21 L558.15,573.75 L558.67,580.80 L559.20,583.90 L559.71,581.93 L560.21,577.60 L560.72,571.10 L561.23,562.71 L561.74,552.82 L562.24,541.88 L562.75,530.40 L563.26,518.92 L563.76,507.98 L564.27,498.09 L564.78,489.70 L565.29,483.20 L565.79,478.87 L566.30,476.90 L566.82,479.70 L567.34,486.09 L567.85,495.62 L568.37,507.59 L568.89,521.12 L569.41,535.18 L569.93,548.71 L570.45,560.68 L570.96,570.21 L571.48,576.60 L572.00,579.40 L572.50,576.79 L573.00,570.91 L573.50,562.10 L574.00,550.91 L574.50,538.02 L575.00,524.25 L575.50,510.48 L576.00,497.59 L576.50,486.40 L577.00,477.59 L577.50,471.71 L578.00,469.10 L578.52,471.69 L579.03,477.53 L579.55,486.27 L580.07,497.39 L580.58,510.18 L581.10,523.85 L581.62,537.52 L582.13,550.31 L582.65,561.43 L583.17,570.17 L583.68,576.01 L584.20,578.60 L584.71,576.34 L585.22,571.32 L585.72,563.79 L586.23,554.13 L586.74,542.85 L587.25,530.56 L587.75,517.94 L588.26,505.65 L588.77,494.37 L589.28,484.71 L589.78,477.18 L590.29,472.16 L590.80,469.90 L591.32,472.51 L591.85,478.39 L592.38,487.20 L592.90,498.39 L593.42,511.28 L593.95,525.05 L594.48,538.82 L595.00,551.71 L595.52,562.90 L596.05,571.71 L596.58,577.59 L597.10,580.20 L597.62,577.63 L598.13,571.83 L598.65,563.14 L599.17,552.09 L599.68,539.38 L600.20,525.80 L600.72,512.22 L601.23,499.51 L601.75,488.46 L602.27,479.77 L602.78,473.97 L603.30,471.40 L603.81,473.64 L604.32,478.63 L604.82,486.11 L605.33,495.72 L605.84,506.92 L606.35,519.13 L606.85,531.67 L607.36,543.88 L607.87,555.08 L608.38,564.69 L608.88,572.17 L609.39,577.16 L609.90,579.40 L610.43,576.84 L610.97,571.09 L611.50,562.47 L612.03,551.50 L612.57,538.88 L613.10,525.40 L613.63,511.92 L614.17,499.30 L614.70,488.33 L615.23,479.71 L615.77,473.96 L616.30,471.40 L616.81,473.97 L617.32,479.77 L617.82,488.46 L618.33,499.51 L618.84,512.22 L619.35,525.80 L619.86,539.38 L620.37,552.09 L620.88,563.14 L621.38,571.83 L621.89,577.63 L622.40,580.20 L622.93,577.64 L623.47,571.89 L624.00,563.27 L624.53,552.30 L625.07,539.68 L625.60,526.20 L626.13,512.72 L626.67,500.10 L627.20,489.13 L627.73,480.51 L628.27,474.76 L628.80,472.20 L629.32,474.76 L629.83,480.51 L630.35,489.13 L630.87,500.10 L631.38,512.72 L631.90,526.20 L632.42,539.68 L632.93,552.30 L633.45,563.27 L633.97,571.89 L634.48,577.64 L635.00,580.20 L635.52,577.89 L636.03,572.76 L636.55,565.06 L637.06,555.19 L637.58,543.66 L638.09,531.10 L638.61,518.20 L639.12,505.64 L639.64,494.11 L640.15,484.24 L640.67,476.54 L641.18,471.41 L641.70,469.10 L642.20,472.09 L642.70,478.91 L643.20,489.09 L643.70,501.89 L644.20,516.34 L644.70,531.36 L645.20,545.81 L645.70,558.61 L646.20,568.79 L646.70,575.61 L647.20,578.60 L647.72,576.16 L648.23,570.65 L648.75,562.40 L649.27,551.91 L649.78,539.84 L650.30,526.95 L650.82,514.06 L651.33,501.99 L651.85,491.50 L652.37,483.25 L652.88,477.74 L653.40,475.30 L653.90,477.78 L654.40,483.37 L654.90,491.75 L655.40,502.40 L655.90,514.66 L656.40,527.75 L656.90,540.84 L657.40,553.10 L657.90,563.75 L658.40,572.13 L658.90,577.72 L659.40,580.20 L659.90,577.59 L660.40,571.72 L660.90,562.92 L661.40,551.73 L661.90,538.85 L662.40,525.10 L662.90,511.35 L663.40,498.47 L663.90,487.28 L664.40,478.48 L664.90,472.61 L665.40,470.00" stroke="#d6d6b3" stroke-width="1.7"/><path d="M89.60,470.00 L90.10,472.00 L90.60,476.39 L91.10,482.99 L91.60,491.50 L92.10,501.54 L92.60,512.65 L93.10,524.30 L93.60,535.95 L94.10,547.06 L94.60,557.10 L95.10,565.61 L95.60,572.21 L96.10,576.60 L96.60,578.60 L97.10,576.68 L97.60,572.48 L98.10,566.16 L98.60,558.01 L99.10,548.39 L99.60,537.76 L100.10,526.60 L100.60,515.44 L101.10,504.81 L101.60,495.19 L102.10,487.04 L102.60,480.72 L103.10,476.52 L103.60,474.60 L104.12,478.55 L104.64,487.76 L105.17,501.26 L105.69,517.56 L106.21,534.84 L106.73,551.14 L107.26,564.64 L107.78,573.85 L108.30,577.80 L108.82,575.57 L109.35,570.63 L109.87,563.19 L110.39,553.66 L110.92,542.54 L111.44,530.43 L111.96,517.97 L112.48,505.86 L113.01,494.74 L113.53,485.21 L114.05,477.77 L114.58,472.83 L115.10,470.60 L115.60,473.51 L116.10,480.14 L116.60,490.05 L117.10,502.49 L117.60,516.55 L118.10,531.15 L118.60,545.21 L119.10,557.65 L119.60,567.56 L120.10,574.19 L120.60,577.10 L121.12,574.15 L121.64,567.42 L122.15,557.38 L122.67,544.76 L123.19,530.51 L123.71,515.69 L124.23,501.44 L124.75,488.82 L125.26,478.78 L125.78,472.05 L126.30,469.10 L126.83,471.69 L127.35,477.53 L127.88,486.27 L128.40,497.39 L128.92,510.18 L129.45,523.85 L129.97,537.52 L130.50,550.31 L131.03,561.43 L131.55,570.17 L132.07,576.01 L132.60,578.60 L133.13,575.65 L133.65,568.92 L134.18,558.88 L134.71,546.26 L135.24,532.01 L135.76,517.19 L136.29,502.94 L136.82,490.32 L137.35,480.28 L137.87,473.55 L138.40,470.60 L138.94,473.55 L139.47,480.28 L140.01,490.32 L140.55,502.94 L141.08,517.19 L141.62,532.01 L142.15,546.26 L142.69,558.88 L143.23,568.92 L143.76,575.65 L144.30,578.60 L144.83,576.08 L145.35,570.41 L145.88,561.92 L146.40,551.11 L146.93,538.68 L147.45,525.40 L147.97,512.12 L148.50,499.69 L149.03,488.88 L149.55,480.39 L150.07,474.72 L150.60,472.20 L151.14,475.11 L151.67,481.74 L152.21,491.63 L152.75,504.06 L153.28,518.10 L153.82,532.70 L154.35,546.74 L154.89,559.17 L155.43,569.06 L155.96,575.69 L156.50,578.60 L157.01,576.42 L157.52,571.57 L158.02,564.28 L158.53,554.94 L159.04,544.03 L159.55,532.16 L160.05,519.94 L160.56,508.07 L161.07,497.16 L161.58,487.82 L162.08,480.53 L162.59,475.68 L163.10,473.50 L163.60,476.01 L164.10,481.65 L164.60,490.11 L165.10,500.86 L165.60,513.23 L166.10,526.45 L166.60,539.67 L167.10,552.04 L167.60,562.79 L168.10,571.25 L168.60,576.89 L169.10,579.40 L169.62,576.92 L170.13,571.34 L170.65,562.97 L171.17,552.33 L171.68,540.08 L172.20,527.00 L172.72,513.92 L173.23,501.67 L173.75,491.03 L174.27,482.66 L174.78,477.08 L175.30,474.60 L175.84,477.43 L176.37,483.88 L176.91,493.52 L177.45,505.62 L177.98,519.29 L178.52,533.51 L179.05,547.18 L179.59,559.28 L180.13,568.92 L180.66,575.37 L181.20,578.20 L181.70,575.64 L182.20,569.87 L182.70,561.22 L183.20,550.22 L183.70,537.57 L184.20,524.05 L184.70,510.53 L185.20,497.88 L185.70,486.88 L186.20,478.23 L186.70,472.46 L187.20,469.90 L187.73,473.41 L188.26,481.50 L188.79,493.50 L189.32,508.33 L189.85,524.65 L190.38,540.97 L190.91,555.80 L191.44,567.80 L191.97,575.89 L192.50,579.40 L193.03,576.86 L193.55,571.13 L194.07,562.54 L194.60,551.63 L195.12,539.07 L195.65,525.65 L196.18,512.23 L196.70,499.67 L197.23,488.76 L197.75,480.17 L198.28,474.44 L198.80,471.90 L199.34,474.86 L199.87,481.61 L200.41,491.67 L200.95,504.33 L201.48,518.62 L202.02,533.48 L202.55,547.77 L203.09,560.43 L203.63,570.49 L204.16,577.24 L204.70,580.20 L205.22,577.61 L205.75,571.77 L206.27,563.01 L206.80,551.89 L207.32,539.08 L207.85,525.40 L208.38,511.72 L208.90,498.91 L209.43,487.79 L209.95,479.03 L210.47,473.19 L211.00,470.60 L211.52,473.16 L212.03,478.91 L212.55,487.53 L213.07,498.50 L213.58,511.12 L214.10,524.60 L214.62,538.08 L215.13,550.70 L215.65,561.67 L216.17,570.29 L216.68,576.04 L217.20,578.60 L217.72,576.00 L218.25,570.15 L218.77,561.38 L219.30,550.24 L219.82,537.40 L220.35,523.70 L220.88,510.00 L221.40,497.17 L221.93,486.02 L222.45,477.25 L222.97,471.40 L223.50,468.80 L224.03,471.78 L224.55,478.57 L225.08,488.70 L225.61,501.44 L226.14,515.82 L226.66,530.78 L227.19,545.16 L227.72,557.90 L228.25,568.03 L228.77,574.82 L229.30,577.80 L229.83,575.23 L230.35,569.43 L230.88,560.76 L231.40,549.72 L231.93,537.02 L232.45,523.45 L232.97,509.88 L233.50,497.18 L234.03,486.14 L234.55,477.47 L235.07,471.67 L235.60,469.10 L236.14,472.11 L236.67,478.98 L237.21,489.24 L237.75,502.13 L238.28,516.68 L238.82,531.82 L239.35,546.37 L239.89,559.26 L240.43,569.52 L240.96,576.39 L241.50,579.40 L242.01,577.13 L242.52,572.07 L243.02,564.48 L243.53,554.75 L244.04,543.39 L244.55,531.01 L245.05,518.29 L245.56,505.91 L246.07,494.55 L246.58,484.82 L247.08,477.23 L247.59,472.17 L248.10,469.90 L248.64,472.81 L249.17,479.44 L249.71,489.33 L250.25,501.76 L250.78,515.80 L251.32,530.40 L251.85,544.44 L252.39,556.87 L252.93,566.76 L253.46,573.39 L254.00,576.30 L254.51,574.09 L255.02,569.18 L255.52,561.80 L256.03,552.35 L256.54,541.31 L257.05,529.28 L257.55,516.92 L258.06,504.89 L258.57,493.85 L259.08,484.40 L259.58,477.02 L260.09,472.11 L260.60,469.90 L261.10,472.85 L261.60,479.57 L262.10,489.60 L262.60,502.21 L263.10,516.45 L263.60,531.25 L264.10,545.49 L264.60,558.10 L265.10,568.13 L265.60,574.85 L266.10,577.80 L266.62,575.60 L267.13,570.71 L267.65,563.37 L268.16,553.96 L268.68,542.97 L269.19,531.00 L269.71,518.70 L270.22,506.73 L270.74,495.74 L271.25,486.33 L271.77,478.99 L272.28,474.10 L272.80,471.90 L273.30,474.36 L273.80,479.90 L274.30,488.21 L274.80,498.77 L275.30,510.92 L275.80,523.90 L276.30,536.88 L276.80,549.03 L277.30,559.59 L277.80,567.90 L278.30,573.44 L278.80,575.90 L279.31,573.41 L279.82,567.80 L280.32,559.39 L280.83,548.70 L281.34,536.39 L281.85,523.25 L282.36,510.11 L282.87,497.80 L283.38,487.11 L283.88,478.70 L284.39,473.09 L284.90,470.60 L285.41,473.14 L285.92,478.85 L286.42,487.41 L286.93,498.29 L287.44,510.82 L287.95,524.20 L288.46,537.58 L288.97,550.11 L289.48,560.99 L289.98,569.55 L290.49,575.26 L291.00,577.80 L291.54,574.83 L292.07,568.06 L292.61,557.95 L293.15,545.25 L293.68,530.91 L294.22,515.99 L294.75,501.65 L295.29,488.95 L295.83,478.84 L296.36,472.07 L296.90,469.10 L297.42,471.67 L297.95,477.47 L298.47,486.14 L299.00,497.18 L299.52,509.88 L300.05,523.45 L300.57,537.02 L301.10,549.72 L301.62,560.76 L302.15,569.43 L302.68,575.23 L303.20,577.80 L303.73,574.82 L304.25,568.03 L304.78,557.90 L305.31,545.16 L305.84,530.78 L306.36,515.82 L306.89,501.44 L307.42,488.70 L307.95,478.57 L308.47,471.78 L309.00,468.80 L309.54,471.84 L310.07,478.78 L310.61,489.14 L311.15,502.16 L311.68,516.86 L312.22,532.14 L312.75,546.84 L313.29,559.86 L313.83,570.22 L314.36,577.16 L314.90,580.20 L315.42,577.89 L315.93,572.76 L316.45,565.06 L316.96,555.19 L317.48,543.66 L317.99,531.10 L318.51,518.20 L319.02,505.64 L319.54,494.11 L320.05,484.24 L320.57,476.54 L321.08,471.41 L321.60,469.10 L322.13,472.09 L322.65,478.91 L323.18,489.09 L323.71,501.89 L324.24,516.34 L324.76,531.36 L325.29,545.81 L325.82,558.61 L326.35,568.79 L326.87,575.61 L327.40,578.60 L327.90,576.04 L328.40,570.29 L328.90,561.67 L329.40,550.70 L329.90,538.08 L330.40,524.60 L330.90,511.12 L331.40,498.50 L331.90,487.53 L332.40,478.91 L332.90,473.16 L333.40,470.60 L333.93,473.62 L334.45,480.49 L334.98,490.76 L335.51,503.66 L336.04,518.23 L336.56,533.37 L337.09,547.94 L337.62,560.84 L338.15,571.11 L338.67,577.98 L339.20,581.00 L339.72,578.68 L340.23,573.51 L340.75,565.75 L341.26,555.81 L341.78,544.20 L342.29,531.55 L342.81,518.55 L343.32,505.90 L343.84,494.29 L344.35,484.35 L344.87,476.59 L345.38,471.42 L345.90,469.10 L346.43,472.03 L346.95,478.71 L347.48,488.67 L348.01,501.20 L348.54,515.35 L349.06,530.05 L349.59,544.20 L350.12,556.73 L350.65,566.69 L351.17,573.37 L351.70,576.30 L352.24,573.43 L352.77,566.90 L353.31,557.15 L353.85,544.89 L354.38,531.04 L354.92,516.66 L355.45,502.81 L355.99,490.55 L356.53,480.80 L357.06,474.27 L357.60,471.40 L358.12,473.96 L358.65,479.71 L359.18,488.33 L359.70,499.30 L360.23,511.92 L360.75,525.40 L361.27,538.88 L361.80,551.50 L362.32,562.47 L362.85,571.09 L363.38,576.84 L363.90,579.40 L364.40,577.08 L364.90,571.94 L365.40,564.21 L365.90,554.30 L366.40,542.73 L366.90,530.13 L367.40,517.17 L367.90,504.57 L368.40,493.00 L368.90,483.09 L369.40,475.36 L369.90,470.22 L370.40,467.90 L370.94,470.86 L371.47,477.61 L372.01,487.69 L372.55,500.36 L373.08,514.67 L373.62,529.53 L374.15,543.84 L374.69,556.51 L375.23,566.59 L375.76,573.34 L376.30,576.30 L376.84,573.39 L377.37,566.76 L377.91,556.87 L378.45,544.44 L378.98,530.40 L379.52,515.80 L380.05,501.76 L380.59,489.33 L381.13,479.44 L381.66,472.81 L382.20,469.90 L382.73,472.91 L383.25,479.78 L383.78,490.04 L384.31,502.93 L384.84,517.48 L385.36,532.62 L385.89,547.17 L386.42,560.06 L386.95,570.32 L387.47,577.19 L388.00,580.20 L388.52,577.91 L389.03,572.82 L389.55,565.17 L390.06,555.37 L390.58,543.92 L391.09,531.46 L391.61,518.64 L392.12,506.18 L392.64,494.73 L393.15,484.93 L393.67,477.28 L394.18,472.19 L394.70,469.90 L395.22,472.40 L395.75,478.03 L396.27,486.46 L396.80,497.18 L397.32,509.52 L397.85,522.70 L398.38,535.88 L398.90,548.22 L399.43,558.94 L399.95,567.37 L400.48,573.00 L401.00,575.50 L401.51,573.31 L402.02,568.43 L402.52,561.11 L403.03,551.73 L403.54,540.77 L404.05,528.83 L404.55,516.57 L405.06,504.63 L405.57,493.67 L406.08,484.29 L406.58,476.97 L407.09,472.09 L407.60,469.90 L408.14,472.91 L408.67,479.78 L409.21,490.04 L409.75,502.93 L410.28,517.48 L410.82,532.62 L411.35,547.17 L411.89,560.06 L412.43,570.32 L412.96,577.19 L413.50,580.20 L414.01,577.84 L414.52,572.58 L415.02,564.70 L415.53,554.58 L416.04,542.77 L416.55,529.91 L417.05,516.69 L417.56,503.83 L418.07,492.02 L418.58,481.90 L419.08,474.02 L419.59,468.76 L420.10,466.40 L420.60,469.44 L421.10,476.38 L421.60,486.74 L422.10,499.76 L422.60,514.46 L423.10,529.74 L423.60,544.44 L424.10,557.46 L424.60,567.82 L425.10,574.76 L425.60,577.80 L426.12,575.32 L426.63,569.74 L427.15,561.37 L427.67,550.73 L428.18,538.48 L428.70,525.40 L429.22,512.32 L429.73,500.07 L430.25,489.43 L430.77,481.06 L431.28,475.48 L431.80,473.00 L432.30,475.93 L432.80,482.61 L433.30,492.57 L433.80,505.10 L434.30,519.25 L434.80,533.95 L435.30,548.10 L435.80,560.63 L436.30,570.59 L436.80,577.27 L437.30,580.20 L437.82,577.97 L438.33,573.03 L438.85,565.59 L439.36,556.06 L439.88,544.94 L440.39,532.83 L440.91,520.37 L441.42,508.26 L441.94,497.14 L442.45,487.61 L442.97,480.17 L443.48,475.23 L444.00,473.00 L444.53,475.88 L445.05,482.46 L445.58,492.28 L446.11,504.62 L446.64,518.56 L447.16,533.04 L447.69,546.98 L448.22,559.32 L448.75,569.14 L449.27,575.72 L449.80,578.60 L450.32,576.03 L450.85,570.23 L451.38,561.56 L451.90,550.52 L452.43,537.82 L452.95,524.25 L453.48,510.68 L454.00,497.98 L454.53,486.94 L455.05,478.27 L455.58,472.47 L456.10,469.90 L456.64,473.43 L457.18,481.59 L457.72,493.67 L458.26,508.61 L458.80,525.05 L459.34,541.49 L459.88,556.43 L460.42,568.51 L460.96,576.67 L461.50,580.20 L462.02,577.91 L462.55,572.82 L463.07,565.17 L463.59,555.37 L464.12,543.92 L464.64,531.46 L465.16,518.64 L465.68,506.18 L466.21,494.73 L466.73,484.93 L467.25,477.28 L467.78,472.19 L468.30,469.90 L468.83,472.91 L469.35,479.78 L469.88,490.04 L470.41,502.93 L470.94,517.48 L471.46,532.62 L471.99,547.17 L472.52,560.06 L473.05,570.32 L473.57,577.19 L474.10,580.20 L474.62,577.59 L475.13,571.71 L475.65,562.90 L476.17,551.71 L476.68,538.82 L477.20,525.05 L477.72,511.28 L478.23,498.39 L478.75,487.20 L479.27,478.39 L479.78,472.51 L480.30,469.90 L480.82,472.51 L481.35,478.39 L481.88,487.20 L482.40,498.39 L482.93,511.28 L483.45,525.05 L483.98,538.82 L484.50,551.71 L485.03,562.90 L485.55,571.71 L486.08,577.59 L486.60,580.20 L487.12,577.59 L487.65,571.71 L488.18,562.90 L488.70,551.71 L489.23,538.82 L489.75,525.05 L490.27,511.28 L490.80,498.39 L491.32,487.20 L491.85,478.39 L492.38,472.51 L492.90,469.90 L493.44,473.33 L493.98,481.26 L494.52,493.00 L495.06,507.52 L495.60,523.50 L496.14,539.48 L496.68,554.00 L497.22,565.74 L497.76,573.67 L498.30,577.10 L498.82,574.53 L499.35,568.73 L499.88,560.04 L500.40,548.99 L500.93,536.28 L501.45,522.70 L501.98,509.12 L502.50,496.41 L503.03,485.36 L503.55,476.67 L504.08,470.87 L504.60,468.30 L505.11,470.97 L505.62,476.97 L506.12,485.97 L506.63,497.41 L507.14,510.58 L507.65,524.65 L508.16,538.72 L508.67,551.89 L509.18,563.33 L509.68,572.33 L510.19,578.33 L510.70,581.00 L511.22,578.74 L511.73,573.72 L512.25,566.18 L512.76,556.50 L513.28,545.22 L513.79,532.92 L514.31,520.28 L514.82,507.98 L515.34,496.70 L515.85,487.02 L516.37,479.48 L516.88,474.46 L517.40,472.20 L517.93,475.15 L518.45,481.88 L518.98,491.92 L519.51,504.54 L520.04,518.79 L520.56,533.61 L521.09,547.86 L521.62,560.48 L522.15,570.52 L522.67,577.25 L523.20,580.20 L523.70,577.55 L524.20,571.59 L524.70,562.65 L525.20,551.29 L525.70,538.22 L526.20,524.25 L526.70,510.28 L527.20,497.21 L527.70,485.85 L528.20,476.91 L528.70,470.95 L529.20,468.30 L529.70,470.59 L530.20,475.68 L530.70,483.33 L531.20,493.13 L531.70,504.58 L532.20,517.04 L532.70,529.86 L533.20,542.32 L533.70,553.77 L534.20,563.57 L534.70,571.22 L535.20,576.31 L535.70,578.60 L536.20,576.01 L536.70,570.17 L537.20,561.43 L537.70,550.31 L538.20,537.52 L538.70,523.85 L539.20,510.18 L539.70,497.39 L540.20,486.27 L540.70,477.53 L541.20,471.69 L541.70,469.10 L542.24,472.07 L542.77,478.84 L543.31,488.95 L543.85,501.65 L544.38,515.99 L544.92,530.91 L545.45,545.25 L545.99,557.95 L546.53,568.06 L547.06,574.83 L547.60,577.80 L548.13,574.87 L548.65,568.19 L549.18,558.23 L549.71,545.70 L550.24,531.55 L550.76,516.85 L551.29,502.70 L551.82,490.17 L552.35,480.21 L552.87,473.53 L553.40,470.60 L553.93,473.70 L554.45,480.75 L554.98,491.29 L555.51,504.53 L556.04,519.48 L556.56,535.02 L557.09,549.97 L557.62,563.21 L558.15,573.75 L558.67,580.80 L559.20,583.90 L559.71,581.93 L560.21,577.60 L560.72,571.10 L561.23,562.71 L561.74,552.82 L562.24,541.88 L562.75,530.40 L563.26,518.92 L563.76,507.98 L564.27,498.09 L564.78,489.70 L565.29,483.20 L565.79,478.87 L566.30,476.90 L566.82,479.70 L567.34,486.09 L567.85,495.62 L568.37,507.59 L568.89,521.12 L569.41,535.18 L569.93,548.71 L570.45,560.68 L570.96,570.21 L571.48,576.60 L572.00,579.40 L572.50,576.79 L573.00,570.91 L573.50,562.10 L574.00,550.91 L574.50,538.02 L575.00,524.25 L575.50,510.48 L576.00,497.59 L576.50,486.40 L577.00,477.59 L577.50,471.71 L578.00,469.10 L578.52,471.69 L579.03,477.53 L579.55,486.27 L580.07,497.39 L580.58,510.18 L581.10,523.85 L581.62,537.52 L582.13,550.31 L582.65,561.43 L583.17,570.17 L583.68,576.01 L584.20,578.60 L584.71,576.34 L585.22,571.32 L585.72,563.79 L586.23,554.13 L586.74,542.85 L587.25,530.56 L587.75,517.94 L588.26,505.65 L588.77,494.37 L589.28,484.71 L589.78,477.18 L590.29,472.16 L590.80,469.90 L591.32,472.51 L591.85,478.39 L592.38,487.20 L592.90,498.39 L593.42,511.28 L593.95,525.05 L594.48,538.82 L595.00,551.71 L595.52,562.90 L596.05,571.71 L596.58,577.59 L597.10,580.20 L597.62,577.63 L598.13,571.83 L598.65,563.14 L599.17,552.09 L599.68,539.38 L600.20,525.80 L600.72,512.22 L601.23,499.51 L601.75,488.46 L602.27,479.77 L602.78,473.97 L603.30,471.40 L603.81,473.64 L604.32,478.63 L604.82,486.11 L605.33,495.72 L605.84,506.92 L606.35,519.13 L606.85,531.67 L607.36,543.88 L607.87,555.08 L608.38,564.69 L608.88,572.17 L609.39,577.16 L609.90,579.40 L610.43,576.84 L610.97,571.09 L611.50,562.47 L612.03,551.50 L612.57,538.88 L613.10,525.40 L613.63,511.92 L614.17,499.30 L614.70,488.33 L615.23,479.71 L615.77,473.96 L616.30,471.40 L616.81,473.97 L617.32,479.77 L617.82,488.46 L618.33,499.51 L618.84,512.22 L619.35,525.80 L619.86,539.38 L620.37,552.09 L620.88,563.14 L621.38,571.83 L621.89,577.63 L622.40,580.20 L622.93,577.64 L623.47,571.89 L624.00,563.27 L624.53,552.30 L625.07,539.68 L625.60,526.20 L626.13,512.72 L626.67,500.10 L627.20,489.13 L627.73,480.51 L628.27,474.76 L628.80,472.20 L629.32,474.76 L629.83,480.51 L630.35,489.13 L630.87,500.10 L631.38,512.72 L631.90,526.20 L632.42,539.68 L632.93,552.30 L633.45,563.27 L633.97,571.89 L634.48,577.64 L635.00,580.20 L635.52,577.89 L636.03,572.76 L636.55,565.06 L637.06,555.19 L637.58,543.66 L638.09,531.10 L638.61,518.20 L639.12,505.64 L639.64,494.11 L640.15,484.24 L640.67,476.54 L641.18,471.41 L641.70,469.10 L642.20,472.09 L642.70,478.91 L643.20,489.09 L643.70,501.89 L644.20,516.34 L644.70,531.36 L645.20,545.81 L645.70,558.61 L646.20,568.79 L646.70,575.61 L647.20,578.60 L647.72,576.16 L648.23,570.65 L648.75,562.40 L649.27,551.91 L649.78,539.84 L650.30,526.95 L650.82,514.06 L651.33,501.99 L651.85,491.50 L652.37,483.25 L652.88,477.74 L653.40,475.30 L653.90,477.78 L654.40,483.37 L654.90,491.75 L655.40,502.40 L655.90,514.66 L656.40,527.75 L656.90,540.84 L657.40,553.10 L657.90,563.75 L658.40,572.13 L658.90,577.72 L659.40,580.20 L659.90,577.59 L660.40,571.72 L660.90,562.92 L661.40,551.73 L661.90,538.85 L662.40,525.10 L662.90,511.35 L663.40,498.47 L663.90,487.28 L664.40,478.48 L664.90,472.61 L665.40,470.00" stroke="#828068" stroke-width="1.0"/></g>
<circle cx="420.1" cy="466.4" r="2.0" fill="none" stroke="#828068" stroke-width="1.0"/>
<circle cx="559.2" cy="583.9" r="2.0" fill="none" stroke="#828068" stroke-width="1.0"/>
<text x="105.50" y="460.10" font-size="16.8"><tspan font-style="italic">U</tspan>=1.17m/s</text>
<text x="426.60" y="462.80" font-size="16.5">max=195.51mm</text>
<text x="553.40" y="603.20" font-size="16.5">min=-93.52mm</text>
<line x1="94.0" y1="465.07" x2="102.5" y2="465.07" stroke="#24231a" stroke-width="1.8"/>
<line x1="94.0" y1="495.03" x2="102.5" y2="495.03" stroke="#24231a" stroke-width="1.8"/>
<line x1="94.0" y1="525.00" x2="102.5" y2="525.00" stroke="#24231a" stroke-width="1.8"/>
<line x1="94.0" y1="554.97" x2="102.5" y2="554.97" stroke="#24231a" stroke-width="1.8"/>
<line x1="94.0" y1="584.93" x2="102.5" y2="584.93" stroke="#24231a" stroke-width="1.8"/>
<line x1="188.98" y1="614.9" x2="188.98" y2="606.4" stroke="#24231a" stroke-width="1.8"/>
<line x1="283.97" y1="614.9" x2="283.97" y2="606.4" stroke="#24231a" stroke-width="1.8"/>
<line x1="378.95" y1="614.9" x2="378.95" y2="606.4" stroke="#24231a" stroke-width="1.8"/>
<line x1="473.93" y1="614.9" x2="473.93" y2="606.4" stroke="#24231a" stroke-width="1.8"/>
<line x1="568.92" y1="614.9" x2="568.92" y2="606.4" stroke="#24231a" stroke-width="1.8"/>
<rect x="94.0" y="435.1" width="569.9" height="179.79999999999995" fill="none" stroke="#24231a" stroke-width="2.0"/>
<text x="83.8" y="441.30" font-size="20" text-anchor="end">300</text>
<text x="83.8" y="471.27" font-size="20" text-anchor="end">200</text>
<text x="83.8" y="501.23" font-size="20" text-anchor="end">100</text>
<text x="83.8" y="531.20" font-size="20" text-anchor="end">0</text>
<text x="83.8" y="561.17" font-size="20" text-anchor="end">−100</text>
<text x="83.8" y="591.13" font-size="20" text-anchor="end">−200</text>
<text x="83.8" y="621.10" font-size="20" text-anchor="end">−300</text>
<defs><clipPath id="c3"><rect x="94.0" y="647.3" width="569.9" height="179.55000000000007"/></clipPath></defs>
<rect x="94.0" y="647.3" width="569.9" height="179.55000000000007" fill="#ebebeb"/>
<g clip-path="url(#c3)" fill="none" stroke-linejoin="round"><path d="M92.30,794.00 L92.81,791.29 L93.32,785.18 L93.83,776.03 L94.33,764.39 L94.84,751.00 L95.35,736.70 L95.86,722.40 L96.37,709.00 L96.88,697.37 L97.38,688.22 L97.89,682.11 L98.40,679.40 L98.91,682.11 L99.42,688.22 L99.93,697.37 L100.43,709.00 L100.94,722.40 L101.45,736.70 L101.96,751.00 L102.47,764.39 L102.97,776.03 L103.48,785.18 L103.99,791.29 L104.50,794.00 L105.03,791.84 L105.56,787.11 L106.09,780.01 L106.61,770.83 L107.14,760.02 L107.67,748.05 L108.20,735.50 L108.73,722.95 L109.26,710.98 L109.79,700.17 L110.31,690.99 L110.84,683.89 L111.37,679.16 L111.90,677.00 L112.43,679.79 L112.95,686.07 L113.48,695.49 L114.00,707.46 L114.53,721.24 L115.05,735.95 L115.58,750.66 L116.10,764.44 L116.62,776.41 L117.15,785.83 L117.67,792.11 L118.20,794.90 L118.73,792.51 L119.26,787.20 L119.79,779.23 L120.32,769.01 L120.85,757.08 L121.38,744.08 L121.92,730.72 L122.45,717.72 L122.98,705.79 L123.51,695.57 L124.04,687.60 L124.57,682.29 L125.10,679.90 L125.64,683.04 L126.17,690.21 L126.71,700.90 L127.25,714.33 L127.78,729.51 L128.32,745.29 L128.85,760.47 L129.39,773.90 L129.93,784.59 L130.46,791.76 L131.00,794.90 L131.51,792.74 L132.01,788.01 L132.52,780.89 L133.03,771.71 L133.54,760.89 L134.04,748.91 L134.55,736.35 L135.06,723.79 L135.56,711.81 L136.07,700.99 L136.58,691.81 L137.09,684.69 L137.59,679.96 L138.10,677.80 L138.64,680.98 L139.17,688.22 L139.71,699.03 L140.25,712.62 L140.78,727.97 L141.32,743.93 L141.85,759.28 L142.39,772.87 L142.93,783.68 L143.46,790.92 L144.00,794.10 L144.53,791.41 L145.05,785.37 L145.57,776.30 L146.10,764.78 L146.62,751.52 L147.15,737.35 L147.68,723.18 L148.20,709.92 L148.73,698.40 L149.25,689.33 L149.78,683.29 L150.30,680.60 L150.81,683.31 L151.32,689.40 L151.83,698.52 L152.33,710.13 L152.84,723.49 L153.35,737.75 L153.86,752.01 L154.37,765.37 L154.88,776.98 L155.38,786.10 L155.89,792.19 L156.40,794.90 L156.92,792.51 L157.43,787.20 L157.95,779.23 L158.46,769.01 L158.98,757.08 L159.49,744.08 L160.01,730.72 L160.52,717.72 L161.04,705.79 L161.55,695.57 L162.07,687.60 L162.58,682.29 L163.10,679.90 L163.60,682.51 L164.10,688.39 L164.60,697.20 L165.10,708.39 L165.60,721.28 L166.10,735.05 L166.60,748.82 L167.10,761.71 L167.60,772.90 L168.10,781.71 L168.60,787.59 L169.10,790.20 L169.60,787.88 L170.10,782.71 L170.60,774.95 L171.10,765.01 L171.60,753.40 L172.10,740.75 L172.60,727.75 L173.10,715.10 L173.60,703.49 L174.10,693.55 L174.60,685.79 L175.10,680.62 L175.60,678.30 L176.14,681.43 L176.67,688.57 L177.21,699.22 L177.75,712.61 L178.28,727.74 L178.82,743.46 L179.35,758.59 L179.89,771.98 L180.43,782.63 L180.96,789.77 L181.50,792.90 L182.01,790.16 L182.52,783.99 L183.03,774.74 L183.53,762.99 L184.04,749.45 L184.55,735.00 L185.06,720.55 L185.57,707.01 L186.07,695.26 L186.58,686.01 L187.09,679.84 L187.60,677.10 L188.10,679.55 L188.60,684.98 L189.10,693.15 L189.60,703.62 L190.10,715.84 L190.60,729.16 L191.10,742.84 L191.60,756.16 L192.10,768.38 L192.60,778.85 L193.10,787.02 L193.60,792.45 L194.10,794.90 L194.60,792.73 L195.10,787.97 L195.60,780.82 L196.10,771.60 L196.60,760.71 L197.10,748.68 L197.60,736.05 L198.10,723.42 L198.60,711.39 L199.10,700.50 L199.60,691.28 L200.10,684.13 L200.60,679.37 L201.10,677.20 L201.62,679.95 L202.15,686.13 L202.68,695.40 L203.20,707.19 L203.72,720.76 L204.25,735.25 L204.78,749.74 L205.30,763.31 L205.82,775.10 L206.35,784.37 L206.88,790.55 L207.40,793.30 L207.92,790.93 L208.43,785.66 L208.95,777.74 L209.46,767.59 L209.98,755.74 L210.49,742.83 L211.01,729.57 L211.52,716.66 L212.04,704.81 L212.55,694.66 L213.07,686.74 L213.58,681.47 L214.10,679.10 L214.62,681.77 L215.15,687.77 L215.68,696.77 L216.20,708.21 L216.72,721.38 L217.25,735.45 L217.78,749.52 L218.30,762.69 L218.82,774.13 L219.35,783.13 L219.88,789.13 L220.40,791.80 L220.90,789.51 L221.40,784.41 L221.90,776.76 L222.40,766.94 L222.90,755.49 L223.40,743.01 L223.90,730.19 L224.40,717.71 L224.90,706.26 L225.40,696.44 L225.90,688.79 L226.40,683.69 L226.90,681.40 L227.43,683.97 L227.95,689.77 L228.47,698.46 L229.00,709.51 L229.53,722.22 L230.05,735.80 L230.57,749.38 L231.10,762.09 L231.62,773.14 L232.15,781.83 L232.67,787.63 L233.20,790.20 L233.72,787.63 L234.25,781.83 L234.77,773.14 L235.30,762.09 L235.82,749.38 L236.35,735.80 L236.88,722.22 L237.40,709.51 L237.93,698.46 L238.45,689.77 L238.97,683.97 L239.50,681.40 L240.04,684.88 L240.58,692.93 L241.12,704.85 L241.66,719.58 L242.20,735.80 L242.74,752.02 L243.28,766.75 L243.82,778.67 L244.36,786.72 L244.90,790.20 L245.41,787.89 L245.92,782.76 L246.42,775.06 L246.93,765.19 L247.44,753.66 L247.95,741.10 L248.45,728.20 L248.96,715.64 L249.47,704.11 L249.98,694.24 L250.48,686.54 L250.99,681.41 L251.50,679.10 L252.00,681.82 L252.50,687.95 L253.00,697.13 L253.50,708.81 L254.00,722.25 L254.50,736.60 L255.00,750.95 L255.50,764.39 L256.00,776.07 L256.50,785.25 L257.00,791.38 L257.50,794.10 L258.00,792.08 L258.50,787.66 L259.00,781.00 L259.50,772.42 L260.00,762.29 L260.50,751.10 L261.00,739.35 L261.50,727.60 L262.00,716.41 L262.50,706.28 L263.00,697.70 L263.50,691.04 L264.00,686.62 L264.50,684.60 L265.00,687.12 L265.50,692.79 L266.00,701.28 L266.50,712.09 L267.00,724.52 L267.50,737.80 L268.00,751.08 L268.50,763.51 L269.00,774.32 L269.50,782.81 L270.00,788.48 L270.50,791.00 L271.01,788.39 L271.52,782.50 L272.02,773.69 L272.53,762.48 L273.04,749.58 L273.55,735.80 L274.06,722.02 L274.57,709.12 L275.08,697.91 L275.58,689.10 L276.09,683.21 L276.60,680.60 L277.14,683.72 L277.67,690.84 L278.21,701.47 L278.75,714.82 L279.28,729.91 L279.82,745.59 L280.35,760.68 L280.89,774.03 L281.43,784.66 L281.96,791.78 L282.50,794.90 L283.01,792.51 L283.52,787.20 L284.02,779.23 L284.53,769.01 L285.04,757.08 L285.55,744.08 L286.05,730.72 L286.56,717.72 L287.07,705.79 L287.58,695.57 L288.08,687.60 L288.59,682.29 L289.10,679.90 L289.62,682.56 L290.13,688.57 L290.65,697.56 L291.17,708.99 L291.68,722.15 L292.20,736.20 L292.72,750.25 L293.23,763.41 L293.75,774.84 L294.27,783.83 L294.78,789.84 L295.30,792.50 L295.81,790.23 L296.32,785.17 L296.82,777.58 L297.33,767.85 L297.84,756.49 L298.35,744.11 L298.85,731.39 L299.36,719.01 L299.87,707.65 L300.38,697.92 L300.88,690.33 L301.39,685.27 L301.90,683.00 L302.40,685.59 L302.90,691.43 L303.40,700.17 L303.90,711.29 L304.40,724.08 L304.90,737.75 L305.40,751.42 L305.90,764.21 L306.40,775.33 L306.90,784.07 L307.40,789.91 L307.90,792.50 L308.40,790.50 L308.90,786.10 L309.40,779.50 L309.90,770.98 L310.40,760.93 L310.90,749.81 L311.40,738.15 L311.90,726.49 L312.40,715.37 L312.90,705.32 L313.40,696.80 L313.90,690.20 L314.40,685.80 L314.90,683.80 L315.43,686.84 L315.95,693.76 L316.48,704.09 L317.01,717.07 L317.54,731.73 L318.06,746.97 L318.59,761.63 L319.12,774.61 L319.65,784.94 L320.17,791.86 L320.70,794.90 L321.20,792.78 L321.70,788.13 L322.20,781.15 L322.70,772.13 L323.20,761.50 L323.70,749.74 L324.20,737.40 L324.70,725.06 L325.20,713.30 L325.70,702.67 L326.20,693.65 L326.70,686.67 L327.20,682.02 L327.70,679.90 L328.20,682.60 L328.70,688.69 L329.20,697.81 L329.70,709.40 L330.20,722.75 L330.70,737.00 L331.20,751.25 L331.70,764.60 L332.20,776.19 L332.70,785.31 L333.20,791.40 L333.70,794.10 L334.22,791.76 L334.73,786.56 L335.25,778.74 L335.76,768.73 L336.28,757.03 L336.79,744.30 L337.31,731.20 L337.82,718.47 L338.34,706.77 L338.85,696.76 L339.37,688.94 L339.88,683.74 L340.40,681.40 L340.92,684.09 L341.45,690.13 L341.97,699.20 L342.50,710.72 L343.02,723.98 L343.55,738.15 L344.07,752.32 L344.60,765.58 L345.12,777.10 L345.65,786.17 L346.18,792.21 L346.70,794.90 L347.20,792.53 L347.70,787.25 L348.20,779.33 L348.70,769.17 L349.20,757.31 L349.70,744.39 L350.20,731.11 L350.70,718.19 L351.20,706.33 L351.70,696.17 L352.20,688.25 L352.70,682.97 L353.20,680.60 L353.72,683.29 L354.25,689.33 L354.77,698.40 L355.30,709.92 L355.82,723.18 L356.35,737.35 L356.88,751.52 L357.40,764.78 L357.93,776.30 L358.45,785.37 L358.98,791.41 L359.50,794.10 L360.02,791.73 L360.53,786.46 L361.05,778.54 L361.56,768.39 L362.08,756.54 L362.59,743.63 L363.11,730.37 L363.62,717.46 L364.14,705.61 L364.65,695.46 L365.17,687.54 L365.68,682.27 L366.20,679.90 L366.72,682.51 L367.25,688.39 L367.77,697.20 L368.30,708.39 L368.82,721.28 L369.35,735.05 L369.88,748.82 L370.40,761.71 L370.93,772.90 L371.45,781.71 L371.98,787.59 L372.50,790.20 L373.01,787.97 L373.52,783.03 L374.02,775.59 L374.53,766.06 L375.04,754.94 L375.55,742.83 L376.05,730.37 L376.56,718.26 L377.07,707.14 L377.58,697.61 L378.08,690.17 L378.59,685.23 L379.10,683.00 L379.61,685.61 L380.12,691.49 L380.62,700.30 L381.13,711.49 L381.64,724.38 L382.15,738.15 L382.66,751.92 L383.17,764.81 L383.68,776.00 L384.18,784.81 L384.69,790.69 L385.20,793.30 L385.72,791.01 L386.23,785.92 L386.75,778.27 L387.26,768.47 L387.78,757.02 L388.29,744.56 L388.81,731.74 L389.32,719.28 L389.84,707.83 L390.35,698.03 L390.87,690.38 L391.38,685.29 L391.90,683.00 L392.40,685.54 L392.90,691.25 L393.40,699.81 L393.90,710.69 L394.40,723.22 L394.90,736.60 L395.40,749.98 L395.90,762.51 L396.40,773.39 L396.90,781.95 L397.40,787.66 L397.90,790.20 L398.42,787.33 L398.94,780.80 L399.45,771.05 L399.97,758.79 L400.49,744.94 L401.01,730.56 L401.53,716.71 L402.05,704.45 L402.56,694.70 L403.08,688.17 L403.60,685.30 L404.12,687.89 L404.65,693.73 L405.18,702.49 L405.70,713.61 L406.23,726.42 L406.75,740.10 L407.27,753.78 L407.80,766.59 L408.32,777.71 L408.85,786.47 L409.38,792.31 L409.90,794.90 L410.41,792.47 L410.92,787.06 L411.42,778.95 L411.93,768.54 L412.44,756.39 L412.95,743.15 L413.45,729.55 L413.96,716.31 L414.47,704.16 L414.98,693.75 L415.48,685.64 L415.99,680.23 L416.50,677.80 L417.02,680.22 L417.53,685.58 L418.05,693.65 L418.56,703.98 L419.08,716.05 L419.59,729.19 L420.11,742.71 L420.62,755.85 L421.14,767.92 L421.65,778.25 L422.17,786.32 L422.68,791.68 L423.20,794.10 L423.71,791.70 L424.22,786.35 L424.72,778.32 L425.23,768.03 L425.74,756.01 L426.25,742.93 L426.75,729.47 L427.26,716.39 L427.77,704.37 L428.28,694.08 L428.78,686.05 L429.29,680.70 L429.80,678.30 L430.32,680.69 L430.83,686.00 L431.35,693.97 L431.86,704.19 L432.38,716.12 L432.89,729.12 L433.41,742.48 L433.92,755.48 L434.44,767.41 L434.95,777.63 L435.47,785.60 L435.98,790.91 L436.50,793.30 L437.01,790.95 L437.52,785.74 L438.02,777.90 L438.53,767.86 L439.04,756.14 L439.55,743.36 L440.05,730.24 L440.56,717.46 L441.07,705.74 L441.58,695.70 L442.08,687.86 L442.59,682.65 L443.10,680.30 L443.62,682.65 L444.13,687.86 L444.65,695.70 L445.16,705.74 L445.68,717.46 L446.19,730.24 L446.71,743.36 L447.22,756.14 L447.74,767.86 L448.25,777.90 L448.77,785.74 L449.28,790.95 L449.80,793.30 L450.32,790.93 L450.83,785.66 L451.35,777.74 L451.86,767.59 L452.38,755.74 L452.89,742.83 L453.41,729.57 L453.92,716.66 L454.44,704.81 L454.95,694.66 L455.47,686.74 L455.98,681.47 L456.50,679.10 L457.03,681.49 L457.56,686.80 L458.09,694.77 L458.62,704.99 L459.15,716.92 L459.68,729.92 L460.22,743.28 L460.75,756.28 L461.28,768.21 L461.81,778.43 L462.34,786.40 L462.87,791.71 L463.40,794.10 L463.91,791.41 L464.42,785.34 L464.92,776.26 L465.43,764.70 L465.94,751.40 L466.45,737.20 L466.96,723.00 L467.47,709.70 L467.98,698.14 L468.48,689.06 L468.99,682.99 L469.50,680.30 L470.00,682.65 L470.50,687.86 L471.00,695.70 L471.50,705.74 L472.00,717.46 L472.50,730.24 L473.00,743.36 L473.50,756.14 L474.00,767.86 L474.50,777.90 L475.00,785.74 L475.50,790.95 L476.00,793.30 L476.52,790.98 L477.03,785.81 L477.55,778.05 L478.06,768.11 L478.58,756.50 L479.09,743.85 L479.61,730.85 L480.12,718.20 L480.64,706.59 L481.15,696.65 L481.67,688.89 L482.18,683.72 L482.70,681.40 L483.21,683.99 L483.72,689.83 L484.23,698.59 L484.73,709.71 L485.24,722.52 L485.75,736.20 L486.26,749.88 L486.77,762.69 L487.27,773.81 L487.78,782.57 L488.29,788.41 L488.80,791.00 L489.33,788.33 L489.87,782.33 L490.40,773.33 L490.93,761.89 L491.47,748.72 L492.00,734.65 L492.53,720.58 L493.07,707.41 L493.60,695.97 L494.13,686.97 L494.67,680.97 L495.20,678.30 L495.72,681.08 L496.25,687.33 L496.77,696.71 L497.30,708.63 L497.82,722.35 L498.35,737.00 L498.88,751.65 L499.40,765.37 L499.93,777.29 L500.45,786.67 L500.98,792.92 L501.50,795.70 L502.00,793.26 L502.50,787.84 L503.00,779.70 L503.50,769.27 L504.00,757.09 L504.50,743.82 L505.00,730.18 L505.50,716.91 L506.00,704.73 L506.50,694.30 L507.00,686.16 L507.50,680.74 L508.00,678.30 L508.52,681.04 L509.05,687.21 L509.57,696.46 L510.10,708.21 L510.62,721.75 L511.15,736.20 L511.67,750.65 L512.20,764.18 L512.72,775.94 L513.25,785.19 L513.77,791.36 L514.30,794.10 L514.82,791.70 L515.33,786.35 L515.85,778.32 L516.36,768.03 L516.88,756.01 L517.39,742.93 L517.91,729.47 L518.42,716.39 L518.94,704.37 L519.45,694.08 L519.97,686.05 L520.48,680.70 L521.00,678.30 L521.51,680.72 L522.02,686.10 L522.52,694.19 L523.03,704.55 L523.54,716.65 L524.05,729.83 L524.55,743.37 L525.06,756.55 L525.57,768.65 L526.08,779.01 L526.58,787.10 L527.09,792.48 L527.60,794.90 L528.11,792.45 L528.62,786.99 L529.12,778.80 L529.63,768.29 L530.14,756.03 L530.65,742.67 L531.15,728.93 L531.66,715.57 L532.17,703.31 L532.68,692.80 L533.18,684.61 L533.69,679.15 L534.20,676.70 L534.73,679.46 L535.27,685.67 L535.80,694.98 L536.33,706.82 L536.87,720.45 L537.40,735.00 L537.93,749.55 L538.47,763.18 L539.00,775.02 L539.53,784.33 L540.07,790.54 L540.60,793.30 L541.11,790.90 L541.62,785.55 L542.12,777.52 L542.63,767.23 L543.14,755.21 L543.65,742.13 L544.15,728.67 L544.66,715.59 L545.17,703.57 L545.68,693.28 L546.18,685.25 L546.69,679.90 L547.20,677.50 L547.72,679.97 L548.23,685.46 L548.75,693.71 L549.26,704.29 L549.78,716.64 L550.29,730.09 L550.81,743.91 L551.32,757.36 L551.84,769.71 L552.35,780.29 L552.87,788.54 L553.38,794.03 L553.90,796.50 L554.42,794.00 L554.93,788.44 L555.45,780.08 L555.96,769.37 L556.48,756.87 L556.99,743.25 L557.51,729.25 L558.02,715.63 L558.54,703.13 L559.05,692.42 L559.57,684.06 L560.08,678.50 L560.60,676.00 L561.13,679.37 L561.65,687.06 L562.18,698.53 L562.71,712.95 L563.24,729.24 L563.76,746.16 L564.29,762.45 L564.82,776.87 L565.35,788.34 L565.87,796.03 L566.40,799.40 L566.91,797.15 L567.43,792.23 L567.94,784.82 L568.46,775.26 L568.97,763.99 L569.49,751.53 L570.00,738.45 L570.51,725.37 L571.03,712.91 L571.54,701.64 L572.06,692.08 L572.57,684.67 L573.09,679.75 L573.60,677.50 L574.10,680.32 L574.60,686.66 L575.10,696.16 L575.60,708.24 L576.10,722.15 L576.60,737.00 L577.10,751.85 L577.60,765.76 L578.10,777.84 L578.60,787.34 L579.10,793.68 L579.60,796.50 L580.10,794.25 L580.60,789.31 L581.10,781.88 L581.60,772.30 L582.10,761.00 L582.60,748.51 L583.10,735.40 L583.60,722.29 L584.10,709.80 L584.60,698.50 L585.10,688.92 L585.60,681.49 L586.10,676.55 L586.60,674.30 L587.12,677.21 L587.65,683.76 L588.17,693.57 L588.70,706.05 L589.23,720.41 L589.75,735.75 L590.27,751.09 L590.80,765.45 L591.33,777.93 L591.85,787.74 L592.38,794.29 L592.90,797.20 L593.40,794.68 L593.90,789.09 L594.40,780.69 L594.90,769.91 L595.40,757.34 L595.90,743.64 L596.40,729.56 L596.90,715.86 L597.40,703.29 L597.90,692.51 L598.40,684.11 L598.90,678.52 L599.40,676.00 L599.92,678.81 L600.45,685.15 L600.98,694.64 L601.50,706.72 L602.02,720.61 L602.55,735.45 L603.08,750.29 L603.60,764.18 L604.12,776.26 L604.65,785.75 L605.18,792.09 L605.70,794.90 L606.20,792.73 L606.70,787.97 L607.20,780.82 L607.70,771.60 L608.20,760.71 L608.70,748.68 L609.20,736.05 L609.70,723.42 L610.20,711.39 L610.70,700.50 L611.20,691.28 L611.70,684.13 L612.20,679.37 L612.70,677.20 L613.23,680.00 L613.75,686.32 L614.28,695.78 L614.80,707.81 L615.33,721.66 L615.85,736.45 L616.38,751.24 L616.90,765.09 L617.42,777.12 L617.95,786.58 L618.48,792.90 L619.00,795.70 L619.50,793.52 L620.00,788.74 L620.50,781.56 L621.00,772.30 L621.50,761.37 L622.00,749.28 L622.50,736.60 L623.00,723.92 L623.50,711.83 L624.00,700.90 L624.50,691.64 L625.00,684.46 L625.50,679.68 L626.00,677.50 L626.50,679.92 L627.00,685.30 L627.50,693.39 L628.00,703.75 L628.50,715.85 L629.00,729.03 L629.50,742.57 L630.00,755.75 L630.50,767.85 L631.00,778.21 L631.50,786.30 L632.00,791.68 L632.50,794.10 L633.02,791.65 L633.55,786.20 L634.07,778.01 L634.59,767.51 L635.12,755.26 L635.64,741.91 L636.16,728.19 L636.68,714.84 L637.21,702.59 L637.73,692.09 L638.25,683.90 L638.78,678.45 L639.30,676.00 L639.80,678.50 L640.30,684.06 L640.80,692.42 L641.30,703.13 L641.80,715.63 L642.30,729.25 L642.80,743.25 L643.30,756.87 L643.80,769.37 L644.30,780.08 L644.80,788.44 L645.30,794.00 L645.80,796.50 L646.32,794.00 L646.85,788.46 L647.37,780.12 L647.89,769.44 L648.42,756.97 L648.94,743.38 L649.46,729.42 L649.98,715.83 L650.51,703.36 L651.03,692.68 L651.55,684.34 L652.08,678.80 L652.60,676.30 L653.12,678.80 L653.65,684.34 L654.17,692.68 L654.69,703.36 L655.22,715.83 L655.74,729.42 L656.26,743.38 L656.78,756.97 L657.31,769.44 L657.83,780.12 L658.35,788.46 L658.88,794.00 L659.40,796.50 L659.92,794.02 L660.45,788.50 L660.97,780.22 L661.49,769.60 L662.02,757.20 L662.54,743.69 L663.06,729.81 L663.58,716.30 L664.11,703.90 L664.63,693.28 L665.15,685.00 L665.68,679.48 L666.20,677.00" stroke="#cacaca" stroke-width="1.7"/><path d="M92.30,794.00 L92.81,791.29 L93.32,785.18 L93.83,776.03 L94.33,764.39 L94.84,751.00 L95.35,736.70 L95.86,722.40 L96.37,709.00 L96.88,697.37 L97.38,688.22 L97.89,682.11 L98.40,679.40 L98.91,682.11 L99.42,688.22 L99.93,697.37 L100.43,709.00 L100.94,722.40 L101.45,736.70 L101.96,751.00 L102.47,764.39 L102.97,776.03 L103.48,785.18 L103.99,791.29 L104.50,794.00 L105.03,791.84 L105.56,787.11 L106.09,780.01 L106.61,770.83 L107.14,760.02 L107.67,748.05 L108.20,735.50 L108.73,722.95 L109.26,710.98 L109.79,700.17 L110.31,690.99 L110.84,683.89 L111.37,679.16 L111.90,677.00 L112.43,679.79 L112.95,686.07 L113.48,695.49 L114.00,707.46 L114.53,721.24 L115.05,735.95 L115.58,750.66 L116.10,764.44 L116.62,776.41 L117.15,785.83 L117.67,792.11 L118.20,794.90 L118.73,792.51 L119.26,787.20 L119.79,779.23 L120.32,769.01 L120.85,757.08 L121.38,744.08 L121.92,730.72 L122.45,717.72 L122.98,705.79 L123.51,695.57 L124.04,687.60 L124.57,682.29 L125.10,679.90 L125.64,683.04 L126.17,690.21 L126.71,700.90 L127.25,714.33 L127.78,729.51 L128.32,745.29 L128.85,760.47 L129.39,773.90 L129.93,784.59 L130.46,791.76 L131.00,794.90 L131.51,792.74 L132.01,788.01 L132.52,780.89 L133.03,771.71 L133.54,760.89 L134.04,748.91 L134.55,736.35 L135.06,723.79 L135.56,711.81 L136.07,700.99 L136.58,691.81 L137.09,684.69 L137.59,679.96 L138.10,677.80 L138.64,680.98 L139.17,688.22 L139.71,699.03 L140.25,712.62 L140.78,727.97 L141.32,743.93 L141.85,759.28 L142.39,772.87 L142.93,783.68 L143.46,790.92 L144.00,794.10 L144.53,791.41 L145.05,785.37 L145.57,776.30 L146.10,764.78 L146.62,751.52 L147.15,737.35 L147.68,723.18 L148.20,709.92 L148.73,698.40 L149.25,689.33 L149.78,683.29 L150.30,680.60 L150.81,683.31 L151.32,689.40 L151.83,698.52 L152.33,710.13 L152.84,723.49 L153.35,737.75 L153.86,752.01 L154.37,765.37 L154.88,776.98 L155.38,786.10 L155.89,792.19 L156.40,794.90 L156.92,792.51 L157.43,787.20 L157.95,779.23 L158.46,769.01 L158.98,757.08 L159.49,744.08 L160.01,730.72 L160.52,717.72 L161.04,705.79 L161.55,695.57 L162.07,687.60 L162.58,682.29 L163.10,679.90 L163.60,682.51 L164.10,688.39 L164.60,697.20 L165.10,708.39 L165.60,721.28 L166.10,735.05 L166.60,748.82 L167.10,761.71 L167.60,772.90 L168.10,781.71 L168.60,787.59 L169.10,790.20 L169.60,787.88 L170.10,782.71 L170.60,774.95 L171.10,765.01 L171.60,753.40 L172.10,740.75 L172.60,727.75 L173.10,715.10 L173.60,703.49 L174.10,693.55 L174.60,685.79 L175.10,680.62 L175.60,678.30 L176.14,681.43 L176.67,688.57 L177.21,699.22 L177.75,712.61 L178.28,727.74 L178.82,743.46 L179.35,758.59 L179.89,771.98 L180.43,782.63 L180.96,789.77 L181.50,792.90 L182.01,790.16 L182.52,783.99 L183.03,774.74 L183.53,762.99 L184.04,749.45 L184.55,735.00 L185.06,720.55 L185.57,707.01 L186.07,695.26 L186.58,686.01 L187.09,679.84 L187.60,677.10 L188.10,679.55 L188.60,684.98 L189.10,693.15 L189.60,703.62 L190.10,715.84 L190.60,729.16 L191.10,742.84 L191.60,756.16 L192.10,768.38 L192.60,778.85 L193.10,787.02 L193.60,792.45 L194.10,794.90 L194.60,792.73 L195.10,787.97 L195.60,780.82 L196.10,771.60 L196.60,760.71 L197.10,748.68 L197.60,736.05 L198.10,723.42 L198.60,711.39 L199.10,700.50 L199.60,691.28 L200.10,684.13 L200.60,679.37 L201.10,677.20 L201.62,679.95 L202.15,686.13 L202.68,695.40 L203.20,707.19 L203.72,720.76 L204.25,735.25 L204.78,749.74 L205.30,763.31 L205.82,775.10 L206.35,784.37 L206.88,790.55 L207.40,793.30 L207.92,790.93 L208.43,785.66 L208.95,777.74 L209.46,767.59 L209.98,755.74 L210.49,742.83 L211.01,729.57 L211.52,716.66 L212.04,704.81 L212.55,694.66 L213.07,686.74 L213.58,681.47 L214.10,679.10 L214.62,681.77 L215.15,687.77 L215.68,696.77 L216.20,708.21 L216.72,721.38 L217.25,735.45 L217.78,749.52 L218.30,762.69 L218.82,774.13 L219.35,783.13 L219.88,789.13 L220.40,791.80 L220.90,789.51 L221.40,784.41 L221.90,776.76 L222.40,766.94 L222.90,755.49 L223.40,743.01 L223.90,730.19 L224.40,717.71 L224.90,706.26 L225.40,696.44 L225.90,688.79 L226.40,683.69 L226.90,681.40 L227.43,683.97 L227.95,689.77 L228.47,698.46 L229.00,709.51 L229.53,722.22 L230.05,735.80 L230.57,749.38 L231.10,762.09 L231.62,773.14 L232.15,781.83 L232.67,787.63 L233.20,790.20 L233.72,787.63 L234.25,781.83 L234.77,773.14 L235.30,762.09 L235.82,749.38 L236.35,735.80 L236.88,722.22 L237.40,709.51 L237.93,698.46 L238.45,689.77 L238.97,683.97 L239.50,681.40 L240.04,684.88 L240.58,692.93 L241.12,704.85 L241.66,719.58 L242.20,735.80 L242.74,752.02 L243.28,766.75 L243.82,778.67 L244.36,786.72 L244.90,790.20 L245.41,787.89 L245.92,782.76 L246.42,775.06 L246.93,765.19 L247.44,753.66 L247.95,741.10 L248.45,728.20 L248.96,715.64 L249.47,704.11 L249.98,694.24 L250.48,686.54 L250.99,681.41 L251.50,679.10 L252.00,681.82 L252.50,687.95 L253.00,697.13 L253.50,708.81 L254.00,722.25 L254.50,736.60 L255.00,750.95 L255.50,764.39 L256.00,776.07 L256.50,785.25 L257.00,791.38 L257.50,794.10 L258.00,792.08 L258.50,787.66 L259.00,781.00 L259.50,772.42 L260.00,762.29 L260.50,751.10 L261.00,739.35 L261.50,727.60 L262.00,716.41 L262.50,706.28 L263.00,697.70 L263.50,691.04 L264.00,686.62 L264.50,684.60 L265.00,687.12 L265.50,692.79 L266.00,701.28 L266.50,712.09 L267.00,724.52 L267.50,737.80 L268.00,751.08 L268.50,763.51 L269.00,774.32 L269.50,782.81 L270.00,788.48 L270.50,791.00 L271.01,788.39 L271.52,782.50 L272.02,773.69 L272.53,762.48 L273.04,749.58 L273.55,735.80 L274.06,722.02 L274.57,709.12 L275.08,697.91 L275.58,689.10 L276.09,683.21 L276.60,680.60 L277.14,683.72 L277.67,690.84 L278.21,701.47 L278.75,714.82 L279.28,729.91 L279.82,745.59 L280.35,760.68 L280.89,774.03 L281.43,784.66 L281.96,791.78 L282.50,794.90 L283.01,792.51 L283.52,787.20 L284.02,779.23 L284.53,769.01 L285.04,757.08 L285.55,744.08 L286.05,730.72 L286.56,717.72 L287.07,705.79 L287.58,695.57 L288.08,687.60 L288.59,682.29 L289.10,679.90 L289.62,682.56 L290.13,688.57 L290.65,697.56 L291.17,708.99 L291.68,722.15 L292.20,736.20 L292.72,750.25 L293.23,763.41 L293.75,774.84 L294.27,783.83 L294.78,789.84 L295.30,792.50 L295.81,790.23 L296.32,785.17 L296.82,777.58 L297.33,767.85 L297.84,756.49 L298.35,744.11 L298.85,731.39 L299.36,719.01 L299.87,707.65 L300.38,697.92 L300.88,690.33 L301.39,685.27 L301.90,683.00 L302.40,685.59 L302.90,691.43 L303.40,700.17 L303.90,711.29 L304.40,724.08 L304.90,737.75 L305.40,751.42 L305.90,764.21 L306.40,775.33 L306.90,784.07 L307.40,789.91 L307.90,792.50 L308.40,790.50 L308.90,786.10 L309.40,779.50 L309.90,770.98 L310.40,760.93 L310.90,749.81 L311.40,738.15 L311.90,726.49 L312.40,715.37 L312.90,705.32 L313.40,696.80 L313.90,690.20 L314.40,685.80 L314.90,683.80 L315.43,686.84 L315.95,693.76 L316.48,704.09 L317.01,717.07 L317.54,731.73 L318.06,746.97 L318.59,761.63 L319.12,774.61 L319.65,784.94 L320.17,791.86 L320.70,794.90 L321.20,792.78 L321.70,788.13 L322.20,781.15 L322.70,772.13 L323.20,761.50 L323.70,749.74 L324.20,737.40 L324.70,725.06 L325.20,713.30 L325.70,702.67 L326.20,693.65 L326.70,686.67 L327.20,682.02 L327.70,679.90 L328.20,682.60 L328.70,688.69 L329.20,697.81 L329.70,709.40 L330.20,722.75 L330.70,737.00 L331.20,751.25 L331.70,764.60 L332.20,776.19 L332.70,785.31 L333.20,791.40 L333.70,794.10 L334.22,791.76 L334.73,786.56 L335.25,778.74 L335.76,768.73 L336.28,757.03 L336.79,744.30 L337.31,731.20 L337.82,718.47 L338.34,706.77 L338.85,696.76 L339.37,688.94 L339.88,683.74 L340.40,681.40 L340.92,684.09 L341.45,690.13 L341.97,699.20 L342.50,710.72 L343.02,723.98 L343.55,738.15 L344.07,752.32 L344.60,765.58 L345.12,777.10 L345.65,786.17 L346.18,792.21 L346.70,794.90 L347.20,792.53 L347.70,787.25 L348.20,779.33 L348.70,769.17 L349.20,757.31 L349.70,744.39 L350.20,731.11 L350.70,718.19 L351.20,706.33 L351.70,696.17 L352.20,688.25 L352.70,682.97 L353.20,680.60 L353.72,683.29 L354.25,689.33 L354.77,698.40 L355.30,709.92 L355.82,723.18 L356.35,737.35 L356.88,751.52 L357.40,764.78 L357.93,776.30 L358.45,785.37 L358.98,791.41 L359.50,794.10 L360.02,791.73 L360.53,786.46 L361.05,778.54 L361.56,768.39 L362.08,756.54 L362.59,743.63 L363.11,730.37 L363.62,717.46 L364.14,705.61 L364.65,695.46 L365.17,687.54 L365.68,682.27 L366.20,679.90 L366.72,682.51 L367.25,688.39 L367.77,697.20 L368.30,708.39 L368.82,721.28 L369.35,735.05 L369.88,748.82 L370.40,761.71 L370.93,772.90 L371.45,781.71 L371.98,787.59 L372.50,790.20 L373.01,787.97 L373.52,783.03 L374.02,775.59 L374.53,766.06 L375.04,754.94 L375.55,742.83 L376.05,730.37 L376.56,718.26 L377.07,707.14 L377.58,697.61 L378.08,690.17 L378.59,685.23 L379.10,683.00 L379.61,685.61 L380.12,691.49 L380.62,700.30 L381.13,711.49 L381.64,724.38 L382.15,738.15 L382.66,751.92 L383.17,764.81 L383.68,776.00 L384.18,784.81 L384.69,790.69 L385.20,793.30 L385.72,791.01 L386.23,785.92 L386.75,778.27 L387.26,768.47 L387.78,757.02 L388.29,744.56 L388.81,731.74 L389.32,719.28 L389.84,707.83 L390.35,698.03 L390.87,690.38 L391.38,685.29 L391.90,683.00 L392.40,685.54 L392.90,691.25 L393.40,699.81 L393.90,710.69 L394.40,723.22 L394.90,736.60 L395.40,749.98 L395.90,762.51 L396.40,773.39 L396.90,781.95 L397.40,787.66 L397.90,790.20 L398.42,787.33 L398.94,780.80 L399.45,771.05 L399.97,758.79 L400.49,744.94 L401.01,730.56 L401.53,716.71 L402.05,704.45 L402.56,694.70 L403.08,688.17 L403.60,685.30 L404.12,687.89 L404.65,693.73 L405.18,702.49 L405.70,713.61 L406.23,726.42 L406.75,740.10 L407.27,753.78 L407.80,766.59 L408.32,777.71 L408.85,786.47 L409.38,792.31 L409.90,794.90 L410.41,792.47 L410.92,787.06 L411.42,778.95 L411.93,768.54 L412.44,756.39 L412.95,743.15 L413.45,729.55 L413.96,716.31 L414.47,704.16 L414.98,693.75 L415.48,685.64 L415.99,680.23 L416.50,677.80 L417.02,680.22 L417.53,685.58 L418.05,693.65 L418.56,703.98 L419.08,716.05 L419.59,729.19 L420.11,742.71 L420.62,755.85 L421.14,767.92 L421.65,778.25 L422.17,786.32 L422.68,791.68 L423.20,794.10 L423.71,791.70 L424.22,786.35 L424.72,778.32 L425.23,768.03 L425.74,756.01 L426.25,742.93 L426.75,729.47 L427.26,716.39 L427.77,704.37 L428.28,694.08 L428.78,686.05 L429.29,680.70 L429.80,678.30 L430.32,680.69 L430.83,686.00 L431.35,693.97 L431.86,704.19 L432.38,716.12 L432.89,729.12 L433.41,742.48 L433.92,755.48 L434.44,767.41 L434.95,777.63 L435.47,785.60 L435.98,790.91 L436.50,793.30 L437.01,790.95 L437.52,785.74 L438.02,777.90 L438.53,767.86 L439.04,756.14 L439.55,743.36 L440.05,730.24 L440.56,717.46 L441.07,705.74 L441.58,695.70 L442.08,687.86 L442.59,682.65 L443.10,680.30 L443.62,682.65 L444.13,687.86 L444.65,695.70 L445.16,705.74 L445.68,717.46 L446.19,730.24 L446.71,743.36 L447.22,756.14 L447.74,767.86 L448.25,777.90 L448.77,785.74 L449.28,790.95 L449.80,793.30 L450.32,790.93 L450.83,785.66 L451.35,777.74 L451.86,767.59 L452.38,755.74 L452.89,742.83 L453.41,729.57 L453.92,716.66 L454.44,704.81 L454.95,694.66 L455.47,686.74 L455.98,681.47 L456.50,679.10 L457.03,681.49 L457.56,686.80 L458.09,694.77 L458.62,704.99 L459.15,716.92 L459.68,729.92 L460.22,743.28 L460.75,756.28 L461.28,768.21 L461.81,778.43 L462.34,786.40 L462.87,791.71 L463.40,794.10 L463.91,791.41 L464.42,785.34 L464.92,776.26 L465.43,764.70 L465.94,751.40 L466.45,737.20 L466.96,723.00 L467.47,709.70 L467.98,698.14 L468.48,689.06 L468.99,682.99 L469.50,680.30 L470.00,682.65 L470.50,687.86 L471.00,695.70 L471.50,705.74 L472.00,717.46 L472.50,730.24 L473.00,743.36 L473.50,756.14 L474.00,767.86 L474.50,777.90 L475.00,785.74 L475.50,790.95 L476.00,793.30 L476.52,790.98 L477.03,785.81 L477.55,778.05 L478.06,768.11 L478.58,756.50 L479.09,743.85 L479.61,730.85 L480.12,718.20 L480.64,706.59 L481.15,696.65 L481.67,688.89 L482.18,683.72 L482.70,681.40 L483.21,683.99 L483.72,689.83 L484.23,698.59 L484.73,709.71 L485.24,722.52 L485.75,736.20 L486.26,749.88 L486.77,762.69 L487.27,773.81 L487.78,782.57 L488.29,788.41 L488.80,791.00 L489.33,788.33 L489.87,782.33 L490.40,773.33 L490.93,761.89 L491.47,748.72 L492.00,734.65 L492.53,720.58 L493.07,707.41 L493.60,695.97 L494.13,686.97 L494.67,680.97 L495.20,678.30 L495.72,681.08 L496.25,687.33 L496.77,696.71 L497.30,708.63 L497.82,722.35 L498.35,737.00 L498.88,751.65 L499.40,765.37 L499.93,777.29 L500.45,786.67 L500.98,792.92 L501.50,795.70 L502.00,793.26 L502.50,787.84 L503.00,779.70 L503.50,769.27 L504.00,757.09 L504.50,743.82 L505.00,730.18 L505.50,716.91 L506.00,704.73 L506.50,694.30 L507.00,686.16 L507.50,680.74 L508.00,678.30 L508.52,681.04 L509.05,687.21 L509.57,696.46 L510.10,708.21 L510.62,721.75 L511.15,736.20 L511.67,750.65 L512.20,764.18 L512.72,775.94 L513.25,785.19 L513.77,791.36 L514.30,794.10 L514.82,791.70 L515.33,786.35 L515.85,778.32 L516.36,768.03 L516.88,756.01 L517.39,742.93 L517.91,729.47 L518.42,716.39 L518.94,704.37 L519.45,694.08 L519.97,686.05 L520.48,680.70 L521.00,678.30 L521.51,680.72 L522.02,686.10 L522.52,694.19 L523.03,704.55 L523.54,716.65 L524.05,729.83 L524.55,743.37 L525.06,756.55 L525.57,768.65 L526.08,779.01 L526.58,787.10 L527.09,792.48 L527.60,794.90 L528.11,792.45 L528.62,786.99 L529.12,778.80 L529.63,768.29 L530.14,756.03 L530.65,742.67 L531.15,728.93 L531.66,715.57 L532.17,703.31 L532.68,692.80 L533.18,684.61 L533.69,679.15 L534.20,676.70 L534.73,679.46 L535.27,685.67 L535.80,694.98 L536.33,706.82 L536.87,720.45 L537.40,735.00 L537.93,749.55 L538.47,763.18 L539.00,775.02 L539.53,784.33 L540.07,790.54 L540.60,793.30 L541.11,790.90 L541.62,785.55 L542.12,777.52 L542.63,767.23 L543.14,755.21 L543.65,742.13 L544.15,728.67 L544.66,715.59 L545.17,703.57 L545.68,693.28 L546.18,685.25 L546.69,679.90 L547.20,677.50 L547.72,679.97 L548.23,685.46 L548.75,693.71 L549.26,704.29 L549.78,716.64 L550.29,730.09 L550.81,743.91 L551.32,757.36 L551.84,769.71 L552.35,780.29 L552.87,788.54 L553.38,794.03 L553.90,796.50 L554.42,794.00 L554.93,788.44 L555.45,780.08 L555.96,769.37 L556.48,756.87 L556.99,743.25 L557.51,729.25 L558.02,715.63 L558.54,703.13 L559.05,692.42 L559.57,684.06 L560.08,678.50 L560.60,676.00 L561.13,679.37 L561.65,687.06 L562.18,698.53 L562.71,712.95 L563.24,729.24 L563.76,746.16 L564.29,762.45 L564.82,776.87 L565.35,788.34 L565.87,796.03 L566.40,799.40 L566.91,797.15 L567.43,792.23 L567.94,784.82 L568.46,775.26 L568.97,763.99 L569.49,751.53 L570.00,738.45 L570.51,725.37 L571.03,712.91 L571.54,701.64 L572.06,692.08 L572.57,684.67 L573.09,679.75 L573.60,677.50 L574.10,680.32 L574.60,686.66 L575.10,696.16 L575.60,708.24 L576.10,722.15 L576.60,737.00 L577.10,751.85 L577.60,765.76 L578.10,777.84 L578.60,787.34 L579.10,793.68 L579.60,796.50 L580.10,794.25 L580.60,789.31 L581.10,781.88 L581.60,772.30 L582.10,761.00 L582.60,748.51 L583.10,735.40 L583.60,722.29 L584.10,709.80 L584.60,698.50 L585.10,688.92 L585.60,681.49 L586.10,676.55 L586.60,674.30 L587.12,677.21 L587.65,683.76 L588.17,693.57 L588.70,706.05 L589.23,720.41 L589.75,735.75 L590.27,751.09 L590.80,765.45 L591.33,777.93 L591.85,787.74 L592.38,794.29 L592.90,797.20 L593.40,794.68 L593.90,789.09 L594.40,780.69 L594.90,769.91 L595.40,757.34 L595.90,743.64 L596.40,729.56 L596.90,715.86 L597.40,703.29 L597.90,692.51 L598.40,684.11 L598.90,678.52 L599.40,676.00 L599.92,678.81 L600.45,685.15 L600.98,694.64 L601.50,706.72 L602.02,720.61 L602.55,735.45 L603.08,750.29 L603.60,764.18 L604.12,776.26 L604.65,785.75 L605.18,792.09 L605.70,794.90 L606.20,792.73 L606.70,787.97 L607.20,780.82 L607.70,771.60 L608.20,760.71 L608.70,748.68 L609.20,736.05 L609.70,723.42 L610.20,711.39 L610.70,700.50 L611.20,691.28 L611.70,684.13 L612.20,679.37 L612.70,677.20 L613.23,680.00 L613.75,686.32 L614.28,695.78 L614.80,707.81 L615.33,721.66 L615.85,736.45 L616.38,751.24 L616.90,765.09 L617.42,777.12 L617.95,786.58 L618.48,792.90 L619.00,795.70 L619.50,793.52 L620.00,788.74 L620.50,781.56 L621.00,772.30 L621.50,761.37 L622.00,749.28 L622.50,736.60 L623.00,723.92 L623.50,711.83 L624.00,700.90 L624.50,691.64 L625.00,684.46 L625.50,679.68 L626.00,677.50 L626.50,679.92 L627.00,685.30 L627.50,693.39 L628.00,703.75 L628.50,715.85 L629.00,729.03 L629.50,742.57 L630.00,755.75 L630.50,767.85 L631.00,778.21 L631.50,786.30 L632.00,791.68 L632.50,794.10 L633.02,791.65 L633.55,786.20 L634.07,778.01 L634.59,767.51 L635.12,755.26 L635.64,741.91 L636.16,728.19 L636.68,714.84 L637.21,702.59 L637.73,692.09 L638.25,683.90 L638.78,678.45 L639.30,676.00 L639.80,678.50 L640.30,684.06 L640.80,692.42 L641.30,703.13 L641.80,715.63 L642.30,729.25 L642.80,743.25 L643.30,756.87 L643.80,769.37 L644.30,780.08 L644.80,788.44 L645.30,794.00 L645.80,796.50 L646.32,794.00 L646.85,788.46 L647.37,780.12 L647.89,769.44 L648.42,756.97 L648.94,743.38 L649.46,729.42 L649.98,715.83 L650.51,703.36 L651.03,692.68 L651.55,684.34 L652.08,678.80 L652.60,676.30 L653.12,678.80 L653.65,684.34 L654.17,692.68 L654.69,703.36 L655.22,715.83 L655.74,729.42 L656.26,743.38 L656.78,756.97 L657.31,769.44 L657.83,780.12 L658.35,788.46 L658.88,794.00 L659.40,796.50 L659.92,794.02 L660.45,788.50 L660.97,780.22 L661.49,769.60 L662.02,757.20 L662.54,743.69 L663.06,729.81 L663.58,716.30 L664.11,703.90 L664.63,693.28 L665.15,685.00 L665.68,679.48 L666.20,677.00" stroke="#7d7d7d" stroke-width="1.0"/></g>
<circle cx="586.6" cy="674.3" r="2.0" fill="none" stroke="#7d7d7d" stroke-width="1.0"/>
<circle cx="566.4" cy="799.4" r="2.0" fill="none" stroke="#7d7d7d" stroke-width="1.0"/>
<text x="106.00" y="670.70" font-size="16.8"><tspan font-style="italic">U</tspan>=1.21m/s</text>
<text x="550.10" y="664.90" font-size="16.5">max=209.36mm</text>
<text x="554.00" y="817.20" font-size="16.5">min=-208.73mm</text>
<line x1="94.0" y1="677.23" x2="102.5" y2="677.23" stroke="#1c1c1c" stroke-width="1.8"/>
<line x1="94.0" y1="707.15" x2="102.5" y2="707.15" stroke="#1c1c1c" stroke-width="1.8"/>
<line x1="94.0" y1="737.08" x2="102.5" y2="737.08" stroke="#1c1c1c" stroke-width="1.8"/>
<line x1="94.0" y1="767.00" x2="102.5" y2="767.00" stroke="#1c1c1c" stroke-width="1.8"/>
<line x1="94.0" y1="796.93" x2="102.5" y2="796.93" stroke="#1c1c1c" stroke-width="1.8"/>
<line x1="188.98" y1="826.85" x2="188.98" y2="818.35" stroke="#1c1c1c" stroke-width="1.8"/>
<line x1="283.97" y1="826.85" x2="283.97" y2="818.35" stroke="#1c1c1c" stroke-width="1.8"/>
<line x1="378.95" y1="826.85" x2="378.95" y2="818.35" stroke="#1c1c1c" stroke-width="1.8"/>
<line x1="473.93" y1="826.85" x2="473.93" y2="818.35" stroke="#1c1c1c" stroke-width="1.8"/>
<line x1="568.92" y1="826.85" x2="568.92" y2="818.35" stroke="#1c1c1c" stroke-width="1.8"/>
<rect x="94.0" y="647.3" width="569.9" height="179.55000000000007" fill="none" stroke="#1c1c1c" stroke-width="2.0"/>
<text x="83.8" y="653.50" font-size="20" text-anchor="end">300</text>
<text x="83.8" y="683.43" font-size="20" text-anchor="end">200</text>
<text x="83.8" y="713.35" font-size="20" text-anchor="end">100</text>
<text x="83.8" y="743.28" font-size="20" text-anchor="end">0</text>
<text x="83.8" y="773.20" font-size="20" text-anchor="end">−100</text>
<text x="83.8" y="803.13" font-size="20" text-anchor="end">−200</text>
<text x="83.8" y="833.05" font-size="20" text-anchor="end">−300</text>
<text x="94.40" y="852.7" font-size="20" text-anchor="middle">0</text>
<text x="189.38" y="852.7" font-size="20" text-anchor="middle">10</text>
<text x="284.37" y="852.7" font-size="20" text-anchor="middle">20</text>
<text x="379.35" y="852.7" font-size="20" text-anchor="middle">30</text>
<text x="474.33" y="852.7" font-size="20" text-anchor="middle">40</text>
<text x="569.32" y="852.7" font-size="20" text-anchor="middle">50</text>
<text x="664.30" y="852.7" font-size="20" text-anchor="middle">60</text>
<text x="365.4" y="884.8" font-size="27" text-anchor="middle">Time (s)</text>
<text transform="translate(24.5,542.5) rotate(-90)" x="0" y="0" font-size="27">Displacement</text>
<text transform="translate(24.6,381.3) rotate(-90)" x="0" y="0" font-size="27.2">(mm)</text>
</svg></body></html>
